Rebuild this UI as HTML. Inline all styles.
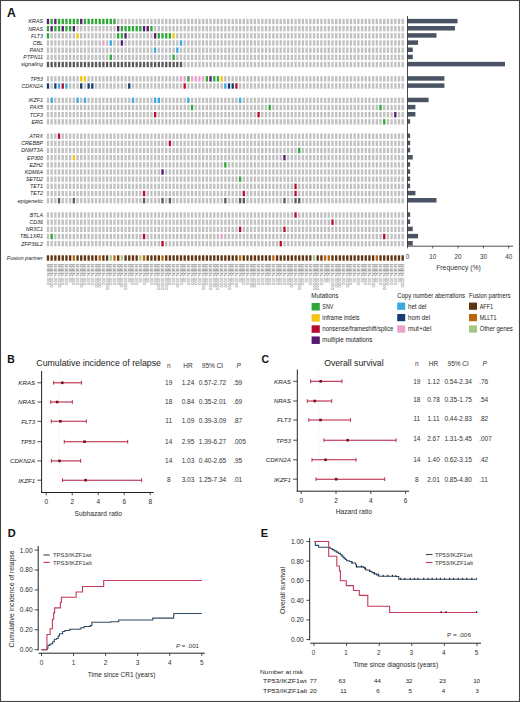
<!DOCTYPE html>
<html><head><meta charset="utf-8"><title>Figure</title>
<style>html,body{margin:0;padding:0;background:#fff;width:520px;height:702px;overflow:hidden}svg{display:block}text{font-family:"Liberation Sans",sans-serif}</style>
</head><body>
<svg width="520" height="702" viewBox="0 0 520 702" font-family='"Liberation Sans", sans-serif'>
<rect x="0" y="0" width="520" height="702" fill="#fff"/>
<text x="6.90" y="16.50" font-size="12.20" text-anchor="start" fill="#111" font-weight="bold">A</text>
<g>
<rect x="46.80" y="18.80" width="2.35" height="5.40" fill="#561a6f"/>
<rect x="50.49" y="18.80" width="2.35" height="5.40" fill="#2fa739"/>
<rect x="54.19" y="18.80" width="2.35" height="5.40" fill="#561a6f"/>
<rect x="57.88" y="18.80" width="2.35" height="5.40" fill="#2fa739"/>
<rect x="61.58" y="18.80" width="2.35" height="5.40" fill="#2fa739"/>
<rect x="65.27" y="18.80" width="2.35" height="5.40" fill="#2fa739"/>
<rect x="68.97" y="18.80" width="2.35" height="5.40" fill="#2fa739"/>
<rect x="72.66" y="18.80" width="2.35" height="5.40" fill="#2fa739"/>
<rect x="76.36" y="18.80" width="2.35" height="5.40" fill="#2fa739"/>
<rect x="80.05" y="18.80" width="2.35" height="5.40" fill="#561a6f"/>
<rect x="83.75" y="18.80" width="2.35" height="5.40" fill="#2fa739"/>
<rect x="87.44" y="18.80" width="2.35" height="5.40" fill="#2fa739"/>
<rect x="91.14" y="18.80" width="2.35" height="5.40" fill="#2fa739"/>
<rect x="94.83" y="18.80" width="2.35" height="5.40" fill="#2fa739"/>
<rect x="98.53" y="18.80" width="2.35" height="5.40" fill="#2fa739"/>
<rect x="102.22" y="18.80" width="2.35" height="5.40" fill="#2fa739"/>
<rect x="105.92" y="18.80" width="2.35" height="5.40" fill="#2fa739"/>
<rect x="109.61" y="18.80" width="2.35" height="5.40" fill="#2fa739"/>
<rect x="113.31" y="18.80" width="2.35" height="5.40" fill="#2fa739"/>
<rect x="117.00" y="18.80" width="2.35" height="5.40" fill="#c1c1c1"/>
<rect x="120.70" y="18.80" width="2.35" height="5.40" fill="#c1c1c1"/>
<rect x="124.39" y="18.80" width="2.35" height="5.40" fill="#c1c1c1"/>
<rect x="128.09" y="18.80" width="2.35" height="5.40" fill="#c1c1c1"/>
<rect x="131.78" y="18.80" width="2.35" height="5.40" fill="#c1c1c1"/>
<rect x="135.48" y="18.80" width="2.35" height="5.40" fill="#c1c1c1"/>
<rect x="139.18" y="18.80" width="2.35" height="5.40" fill="#c1c1c1"/>
<rect x="142.87" y="18.80" width="2.35" height="5.40" fill="#c1c1c1"/>
<rect x="146.56" y="18.80" width="2.35" height="5.40" fill="#c1c1c1"/>
<rect x="150.26" y="18.80" width="2.35" height="5.40" fill="#c1c1c1"/>
<rect x="153.95" y="18.80" width="2.35" height="5.40" fill="#c1c1c1"/>
<rect x="157.65" y="18.80" width="2.35" height="5.40" fill="#c1c1c1"/>
<rect x="161.34" y="18.80" width="2.35" height="5.40" fill="#c1c1c1"/>
<rect x="165.04" y="18.80" width="2.35" height="5.40" fill="#c1c1c1"/>
<rect x="168.73" y="18.80" width="2.35" height="5.40" fill="#c1c1c1"/>
<rect x="172.43" y="18.80" width="2.35" height="5.40" fill="#c1c1c1"/>
<rect x="176.12" y="18.80" width="2.35" height="5.40" fill="#c1c1c1"/>
<rect x="179.82" y="18.80" width="2.35" height="5.40" fill="#c1c1c1"/>
<rect x="183.51" y="18.80" width="2.35" height="5.40" fill="#c1c1c1"/>
<rect x="187.21" y="18.80" width="2.35" height="5.40" fill="#c1c1c1"/>
<rect x="190.90" y="18.80" width="2.35" height="5.40" fill="#c1c1c1"/>
<rect x="194.60" y="18.80" width="2.35" height="5.40" fill="#c1c1c1"/>
<rect x="198.30" y="18.80" width="2.35" height="5.40" fill="#c1c1c1"/>
<rect x="201.99" y="18.80" width="2.35" height="5.40" fill="#c1c1c1"/>
<rect x="205.69" y="18.80" width="2.35" height="5.40" fill="#c1c1c1"/>
<rect x="209.38" y="18.80" width="2.35" height="5.40" fill="#c1c1c1"/>
<rect x="213.07" y="18.80" width="2.35" height="5.40" fill="#c1c1c1"/>
<rect x="216.77" y="18.80" width="2.35" height="5.40" fill="#c1c1c1"/>
<rect x="220.46" y="18.80" width="2.35" height="5.40" fill="#c1c1c1"/>
<rect x="224.16" y="18.80" width="2.35" height="5.40" fill="#c1c1c1"/>
<rect x="227.85" y="18.80" width="2.35" height="5.40" fill="#c1c1c1"/>
<rect x="231.55" y="18.80" width="2.35" height="5.40" fill="#c1c1c1"/>
<rect x="235.25" y="18.80" width="2.35" height="5.40" fill="#c1c1c1"/>
<rect x="238.94" y="18.80" width="2.35" height="5.40" fill="#c1c1c1"/>
<rect x="242.63" y="18.80" width="2.35" height="5.40" fill="#c1c1c1"/>
<rect x="246.33" y="18.80" width="2.35" height="5.40" fill="#c1c1c1"/>
<rect x="250.02" y="18.80" width="2.35" height="5.40" fill="#c1c1c1"/>
<rect x="253.72" y="18.80" width="2.35" height="5.40" fill="#c1c1c1"/>
<rect x="257.41" y="18.80" width="2.35" height="5.40" fill="#c1c1c1"/>
<rect x="261.11" y="18.80" width="2.35" height="5.40" fill="#c1c1c1"/>
<rect x="264.81" y="18.80" width="2.35" height="5.40" fill="#c1c1c1"/>
<rect x="268.50" y="18.80" width="2.35" height="5.40" fill="#c1c1c1"/>
<rect x="272.19" y="18.80" width="2.35" height="5.40" fill="#c1c1c1"/>
<rect x="275.89" y="18.80" width="2.35" height="5.40" fill="#c1c1c1"/>
<rect x="279.58" y="18.80" width="2.35" height="5.40" fill="#c1c1c1"/>
<rect x="283.28" y="18.80" width="2.35" height="5.40" fill="#c1c1c1"/>
<rect x="286.97" y="18.80" width="2.35" height="5.40" fill="#c1c1c1"/>
<rect x="290.67" y="18.80" width="2.35" height="5.40" fill="#c1c1c1"/>
<rect x="294.37" y="18.80" width="2.35" height="5.40" fill="#c1c1c1"/>
<rect x="298.06" y="18.80" width="2.35" height="5.40" fill="#c1c1c1"/>
<rect x="301.75" y="18.80" width="2.35" height="5.40" fill="#c1c1c1"/>
<rect x="305.45" y="18.80" width="2.35" height="5.40" fill="#c1c1c1"/>
<rect x="309.14" y="18.80" width="2.35" height="5.40" fill="#c1c1c1"/>
<rect x="312.84" y="18.80" width="2.35" height="5.40" fill="#c1c1c1"/>
<rect x="316.54" y="18.80" width="2.35" height="5.40" fill="#c1c1c1"/>
<rect x="320.23" y="18.80" width="2.35" height="5.40" fill="#c1c1c1"/>
<rect x="323.93" y="18.80" width="2.35" height="5.40" fill="#c1c1c1"/>
<rect x="327.62" y="18.80" width="2.35" height="5.40" fill="#c1c1c1"/>
<rect x="331.31" y="18.80" width="2.35" height="5.40" fill="#c1c1c1"/>
<rect x="335.01" y="18.80" width="2.35" height="5.40" fill="#c1c1c1"/>
<rect x="338.70" y="18.80" width="2.35" height="5.40" fill="#c1c1c1"/>
<rect x="342.40" y="18.80" width="2.35" height="5.40" fill="#c1c1c1"/>
<rect x="346.09" y="18.80" width="2.35" height="5.40" fill="#c1c1c1"/>
<rect x="349.79" y="18.80" width="2.35" height="5.40" fill="#c1c1c1"/>
<rect x="353.49" y="18.80" width="2.35" height="5.40" fill="#c1c1c1"/>
<rect x="357.18" y="18.80" width="2.35" height="5.40" fill="#c1c1c1"/>
<rect x="360.88" y="18.80" width="2.35" height="5.40" fill="#c1c1c1"/>
<rect x="364.57" y="18.80" width="2.35" height="5.40" fill="#c1c1c1"/>
<rect x="368.26" y="18.80" width="2.35" height="5.40" fill="#c1c1c1"/>
<rect x="371.96" y="18.80" width="2.35" height="5.40" fill="#c1c1c1"/>
<rect x="375.65" y="18.80" width="2.35" height="5.40" fill="#c1c1c1"/>
<rect x="379.35" y="18.80" width="2.35" height="5.40" fill="#c1c1c1"/>
<rect x="383.05" y="18.80" width="2.35" height="5.40" fill="#c1c1c1"/>
<rect x="386.74" y="18.80" width="2.35" height="5.40" fill="#c1c1c1"/>
<rect x="390.44" y="18.80" width="2.35" height="5.40" fill="#c1c1c1"/>
<rect x="394.13" y="18.80" width="2.35" height="5.40" fill="#c1c1c1"/>
<rect x="397.82" y="18.80" width="2.35" height="5.40" fill="#c1c1c1"/>
<rect x="401.52" y="18.80" width="2.35" height="5.40" fill="#c1c1c1"/>
</g>
<text x="43.00" y="23.40" font-size="5.30" text-anchor="end" fill="#1c1c1c" font-style="italic">KRAS</text>
<rect x="407.50" y="18.85" width="50.07" height="4.5" fill="#4a5363"/>
<g>
<rect x="46.80" y="25.97" width="2.35" height="5.40" fill="#2fa739"/>
<rect x="50.49" y="25.97" width="2.35" height="5.40" fill="#561a6f"/>
<rect x="54.19" y="25.97" width="2.35" height="5.40" fill="#2fa739"/>
<rect x="57.88" y="25.97" width="2.35" height="5.40" fill="#2fa739"/>
<rect x="61.58" y="25.97" width="2.35" height="5.40" fill="#561a6f"/>
<rect x="65.27" y="25.97" width="2.35" height="5.40" fill="#2fa739"/>
<rect x="68.97" y="25.97" width="2.35" height="5.40" fill="#2fa739"/>
<rect x="72.66" y="25.97" width="2.35" height="5.40" fill="#561a6f"/>
<rect x="76.36" y="25.97" width="2.35" height="5.40" fill="#c1c1c1"/>
<rect x="80.05" y="25.97" width="2.35" height="5.40" fill="#c1c1c1"/>
<rect x="83.75" y="25.97" width="2.35" height="5.40" fill="#c1c1c1"/>
<rect x="87.44" y="25.97" width="2.35" height="5.40" fill="#c1c1c1"/>
<rect x="91.14" y="25.97" width="2.35" height="5.40" fill="#c1c1c1"/>
<rect x="94.83" y="25.97" width="2.35" height="5.40" fill="#c1c1c1"/>
<rect x="98.53" y="25.97" width="2.35" height="5.40" fill="#c1c1c1"/>
<rect x="102.22" y="25.97" width="2.35" height="5.40" fill="#c1c1c1"/>
<rect x="105.92" y="25.97" width="2.35" height="5.40" fill="#c1c1c1"/>
<rect x="109.61" y="25.97" width="2.35" height="5.40" fill="#c1c1c1"/>
<rect x="113.31" y="25.97" width="2.35" height="5.40" fill="#c1c1c1"/>
<rect x="117.00" y="25.97" width="2.35" height="5.40" fill="#561a6f"/>
<rect x="120.70" y="25.97" width="2.35" height="5.40" fill="#2fa739"/>
<rect x="124.39" y="25.97" width="2.35" height="5.40" fill="#2fa739"/>
<rect x="128.09" y="25.97" width="2.35" height="5.40" fill="#2fa739"/>
<rect x="131.78" y="25.97" width="2.35" height="5.40" fill="#2fa739"/>
<rect x="135.48" y="25.97" width="2.35" height="5.40" fill="#2fa739"/>
<rect x="139.18" y="25.97" width="2.35" height="5.40" fill="#2fa739"/>
<rect x="142.87" y="25.97" width="2.35" height="5.40" fill="#561a6f"/>
<rect x="146.56" y="25.97" width="2.35" height="5.40" fill="#561a6f"/>
<rect x="150.26" y="25.97" width="2.35" height="5.40" fill="#2fa739"/>
<rect x="153.95" y="25.97" width="2.35" height="5.40" fill="#c1c1c1"/>
<rect x="157.65" y="25.97" width="2.35" height="5.40" fill="#c1c1c1"/>
<rect x="161.34" y="25.97" width="2.35" height="5.40" fill="#c1c1c1"/>
<rect x="165.04" y="25.97" width="2.35" height="5.40" fill="#c1c1c1"/>
<rect x="168.73" y="25.97" width="2.35" height="5.40" fill="#c1c1c1"/>
<rect x="172.43" y="25.97" width="2.35" height="5.40" fill="#c1c1c1"/>
<rect x="176.12" y="25.97" width="2.35" height="5.40" fill="#c1c1c1"/>
<rect x="179.82" y="25.97" width="2.35" height="5.40" fill="#c1c1c1"/>
<rect x="183.51" y="25.97" width="2.35" height="5.40" fill="#c1c1c1"/>
<rect x="187.21" y="25.97" width="2.35" height="5.40" fill="#c1c1c1"/>
<rect x="190.90" y="25.97" width="2.35" height="5.40" fill="#c1c1c1"/>
<rect x="194.60" y="25.97" width="2.35" height="5.40" fill="#c1c1c1"/>
<rect x="198.30" y="25.97" width="2.35" height="5.40" fill="#c1c1c1"/>
<rect x="201.99" y="25.97" width="2.35" height="5.40" fill="#c1c1c1"/>
<rect x="205.69" y="25.97" width="2.35" height="5.40" fill="#c1c1c1"/>
<rect x="209.38" y="25.97" width="2.35" height="5.40" fill="#c1c1c1"/>
<rect x="213.07" y="25.97" width="2.35" height="5.40" fill="#c1c1c1"/>
<rect x="216.77" y="25.97" width="2.35" height="5.40" fill="#c1c1c1"/>
<rect x="220.46" y="25.97" width="2.35" height="5.40" fill="#c1c1c1"/>
<rect x="224.16" y="25.97" width="2.35" height="5.40" fill="#c1c1c1"/>
<rect x="227.85" y="25.97" width="2.35" height="5.40" fill="#c1c1c1"/>
<rect x="231.55" y="25.97" width="2.35" height="5.40" fill="#c1c1c1"/>
<rect x="235.25" y="25.97" width="2.35" height="5.40" fill="#c1c1c1"/>
<rect x="238.94" y="25.97" width="2.35" height="5.40" fill="#c1c1c1"/>
<rect x="242.63" y="25.97" width="2.35" height="5.40" fill="#c1c1c1"/>
<rect x="246.33" y="25.97" width="2.35" height="5.40" fill="#c1c1c1"/>
<rect x="250.02" y="25.97" width="2.35" height="5.40" fill="#c1c1c1"/>
<rect x="253.72" y="25.97" width="2.35" height="5.40" fill="#c1c1c1"/>
<rect x="257.41" y="25.97" width="2.35" height="5.40" fill="#c1c1c1"/>
<rect x="261.11" y="25.97" width="2.35" height="5.40" fill="#c1c1c1"/>
<rect x="264.81" y="25.97" width="2.35" height="5.40" fill="#c1c1c1"/>
<rect x="268.50" y="25.97" width="2.35" height="5.40" fill="#c1c1c1"/>
<rect x="272.19" y="25.97" width="2.35" height="5.40" fill="#c1c1c1"/>
<rect x="275.89" y="25.97" width="2.35" height="5.40" fill="#c1c1c1"/>
<rect x="279.58" y="25.97" width="2.35" height="5.40" fill="#c1c1c1"/>
<rect x="283.28" y="25.97" width="2.35" height="5.40" fill="#c1c1c1"/>
<rect x="286.97" y="25.97" width="2.35" height="5.40" fill="#c1c1c1"/>
<rect x="290.67" y="25.97" width="2.35" height="5.40" fill="#c1c1c1"/>
<rect x="294.37" y="25.97" width="2.35" height="5.40" fill="#c1c1c1"/>
<rect x="298.06" y="25.97" width="2.35" height="5.40" fill="#c1c1c1"/>
<rect x="301.75" y="25.97" width="2.35" height="5.40" fill="#c1c1c1"/>
<rect x="305.45" y="25.97" width="2.35" height="5.40" fill="#c1c1c1"/>
<rect x="309.14" y="25.97" width="2.35" height="5.40" fill="#c1c1c1"/>
<rect x="312.84" y="25.97" width="2.35" height="5.40" fill="#c1c1c1"/>
<rect x="316.54" y="25.97" width="2.35" height="5.40" fill="#c1c1c1"/>
<rect x="320.23" y="25.97" width="2.35" height="5.40" fill="#c1c1c1"/>
<rect x="323.93" y="25.97" width="2.35" height="5.40" fill="#c1c1c1"/>
<rect x="327.62" y="25.97" width="2.35" height="5.40" fill="#c1c1c1"/>
<rect x="331.31" y="25.97" width="2.35" height="5.40" fill="#c1c1c1"/>
<rect x="335.01" y="25.97" width="2.35" height="5.40" fill="#c1c1c1"/>
<rect x="338.70" y="25.97" width="2.35" height="5.40" fill="#c1c1c1"/>
<rect x="342.40" y="25.97" width="2.35" height="5.40" fill="#c1c1c1"/>
<rect x="346.09" y="25.97" width="2.35" height="5.40" fill="#c1c1c1"/>
<rect x="349.79" y="25.97" width="2.35" height="5.40" fill="#c1c1c1"/>
<rect x="353.49" y="25.97" width="2.35" height="5.40" fill="#c1c1c1"/>
<rect x="357.18" y="25.97" width="2.35" height="5.40" fill="#c1c1c1"/>
<rect x="360.88" y="25.97" width="2.35" height="5.40" fill="#c1c1c1"/>
<rect x="364.57" y="25.97" width="2.35" height="5.40" fill="#c1c1c1"/>
<rect x="368.26" y="25.97" width="2.35" height="5.40" fill="#c1c1c1"/>
<rect x="371.96" y="25.97" width="2.35" height="5.40" fill="#c1c1c1"/>
<rect x="375.65" y="25.97" width="2.35" height="5.40" fill="#c1c1c1"/>
<rect x="379.35" y="25.97" width="2.35" height="5.40" fill="#c1c1c1"/>
<rect x="383.05" y="25.97" width="2.35" height="5.40" fill="#c1c1c1"/>
<rect x="386.74" y="25.97" width="2.35" height="5.40" fill="#c1c1c1"/>
<rect x="390.44" y="25.97" width="2.35" height="5.40" fill="#c1c1c1"/>
<rect x="394.13" y="25.97" width="2.35" height="5.40" fill="#c1c1c1"/>
<rect x="397.82" y="25.97" width="2.35" height="5.40" fill="#c1c1c1"/>
<rect x="401.52" y="25.97" width="2.35" height="5.40" fill="#c1c1c1"/>
</g>
<text x="43.00" y="30.57" font-size="5.30" text-anchor="end" fill="#1c1c1c" font-style="italic">NRAS</text>
<rect x="407.50" y="26.02" width="47.44" height="4.5" fill="#4a5363"/>
<g>
<rect x="46.80" y="33.13" width="2.35" height="5.40" fill="#2fa739"/>
<rect x="50.49" y="33.13" width="2.35" height="5.40" fill="#c1c1c1"/>
<rect x="54.19" y="33.13" width="2.35" height="5.40" fill="#c1c1c1"/>
<rect x="57.88" y="33.13" width="2.35" height="5.40" fill="#c1c1c1"/>
<rect x="61.58" y="33.13" width="2.35" height="5.40" fill="#c1c1c1"/>
<rect x="65.27" y="33.13" width="2.35" height="5.40" fill="#c1c1c1"/>
<rect x="68.97" y="33.13" width="2.35" height="5.40" fill="#c1c1c1"/>
<rect x="72.66" y="33.13" width="2.35" height="5.40" fill="#c1c1c1"/>
<rect x="76.36" y="33.13" width="2.35" height="5.40" fill="#f6c416"/>
<rect x="80.05" y="33.13" width="2.35" height="5.40" fill="#c1c1c1"/>
<rect x="83.75" y="33.13" width="2.35" height="5.40" fill="#c1c1c1"/>
<rect x="87.44" y="33.13" width="2.35" height="5.40" fill="#c1c1c1"/>
<rect x="91.14" y="33.13" width="2.35" height="5.40" fill="#c1c1c1"/>
<rect x="94.83" y="33.13" width="2.35" height="5.40" fill="#c1c1c1"/>
<rect x="98.53" y="33.13" width="2.35" height="5.40" fill="#c1c1c1"/>
<rect x="102.22" y="33.13" width="2.35" height="5.40" fill="#c1c1c1"/>
<rect x="105.92" y="33.13" width="2.35" height="5.40" fill="#c1c1c1"/>
<rect x="109.61" y="33.13" width="2.35" height="5.40" fill="#c1c1c1"/>
<rect x="113.31" y="33.13" width="2.35" height="5.40" fill="#c1c1c1"/>
<rect x="117.00" y="33.13" width="2.35" height="5.40" fill="#2fa739"/>
<rect x="120.70" y="33.13" width="2.35" height="5.40" fill="#2fa739"/>
<rect x="124.39" y="33.13" width="2.35" height="5.40" fill="#561a6f"/>
<rect x="128.09" y="33.13" width="2.35" height="5.40" fill="#c1c1c1"/>
<rect x="131.78" y="33.13" width="2.35" height="5.40" fill="#c1c1c1"/>
<rect x="135.48" y="33.13" width="2.35" height="5.40" fill="#c1c1c1"/>
<rect x="139.18" y="33.13" width="2.35" height="5.40" fill="#c1c1c1"/>
<rect x="142.87" y="33.13" width="2.35" height="5.40" fill="#c1c1c1"/>
<rect x="146.56" y="33.13" width="2.35" height="5.40" fill="#c1c1c1"/>
<rect x="150.26" y="33.13" width="2.35" height="5.40" fill="#c1c1c1"/>
<rect x="153.95" y="33.13" width="2.35" height="5.40" fill="#561a6f"/>
<rect x="157.65" y="33.13" width="2.35" height="5.40" fill="#2fa739"/>
<rect x="161.34" y="33.13" width="2.35" height="5.40" fill="#2fa739"/>
<rect x="165.04" y="33.13" width="2.35" height="5.40" fill="#2fa739"/>
<rect x="168.73" y="33.13" width="2.35" height="5.40" fill="#2fa739"/>
<rect x="172.43" y="33.13" width="2.35" height="5.40" fill="#f6c416"/>
<rect x="176.12" y="33.13" width="2.35" height="5.40" fill="#c1c1c1"/>
<rect x="179.82" y="33.13" width="2.35" height="5.40" fill="#c1c1c1"/>
<rect x="183.51" y="33.13" width="2.35" height="5.40" fill="#c1c1c1"/>
<rect x="187.21" y="33.13" width="2.35" height="5.40" fill="#c1c1c1"/>
<rect x="190.90" y="33.13" width="2.35" height="5.40" fill="#c1c1c1"/>
<rect x="194.60" y="33.13" width="2.35" height="5.40" fill="#c1c1c1"/>
<rect x="198.30" y="33.13" width="2.35" height="5.40" fill="#c1c1c1"/>
<rect x="201.99" y="33.13" width="2.35" height="5.40" fill="#c1c1c1"/>
<rect x="205.69" y="33.13" width="2.35" height="5.40" fill="#c1c1c1"/>
<rect x="209.38" y="33.13" width="2.35" height="5.40" fill="#c1c1c1"/>
<rect x="213.07" y="33.13" width="2.35" height="5.40" fill="#c1c1c1"/>
<rect x="216.77" y="33.13" width="2.35" height="5.40" fill="#c1c1c1"/>
<rect x="220.46" y="33.13" width="2.35" height="5.40" fill="#c1c1c1"/>
<rect x="224.16" y="33.13" width="2.35" height="5.40" fill="#c1c1c1"/>
<rect x="227.85" y="33.13" width="2.35" height="5.40" fill="#c1c1c1"/>
<rect x="231.55" y="33.13" width="2.35" height="5.40" fill="#c1c1c1"/>
<rect x="235.25" y="33.13" width="2.35" height="5.40" fill="#c1c1c1"/>
<rect x="238.94" y="33.13" width="2.35" height="5.40" fill="#c1c1c1"/>
<rect x="242.63" y="33.13" width="2.35" height="5.40" fill="#c1c1c1"/>
<rect x="246.33" y="33.13" width="2.35" height="5.40" fill="#c1c1c1"/>
<rect x="250.02" y="33.13" width="2.35" height="5.40" fill="#c1c1c1"/>
<rect x="253.72" y="33.13" width="2.35" height="5.40" fill="#c1c1c1"/>
<rect x="257.41" y="33.13" width="2.35" height="5.40" fill="#c1c1c1"/>
<rect x="261.11" y="33.13" width="2.35" height="5.40" fill="#c1c1c1"/>
<rect x="264.81" y="33.13" width="2.35" height="5.40" fill="#c1c1c1"/>
<rect x="268.50" y="33.13" width="2.35" height="5.40" fill="#c1c1c1"/>
<rect x="272.19" y="33.13" width="2.35" height="5.40" fill="#c1c1c1"/>
<rect x="275.89" y="33.13" width="2.35" height="5.40" fill="#c1c1c1"/>
<rect x="279.58" y="33.13" width="2.35" height="5.40" fill="#c1c1c1"/>
<rect x="283.28" y="33.13" width="2.35" height="5.40" fill="#c1c1c1"/>
<rect x="286.97" y="33.13" width="2.35" height="5.40" fill="#c1c1c1"/>
<rect x="290.67" y="33.13" width="2.35" height="5.40" fill="#c1c1c1"/>
<rect x="294.37" y="33.13" width="2.35" height="5.40" fill="#c1c1c1"/>
<rect x="298.06" y="33.13" width="2.35" height="5.40" fill="#c1c1c1"/>
<rect x="301.75" y="33.13" width="2.35" height="5.40" fill="#c1c1c1"/>
<rect x="305.45" y="33.13" width="2.35" height="5.40" fill="#c1c1c1"/>
<rect x="309.14" y="33.13" width="2.35" height="5.40" fill="#c1c1c1"/>
<rect x="312.84" y="33.13" width="2.35" height="5.40" fill="#c1c1c1"/>
<rect x="316.54" y="33.13" width="2.35" height="5.40" fill="#c1c1c1"/>
<rect x="320.23" y="33.13" width="2.35" height="5.40" fill="#c1c1c1"/>
<rect x="323.93" y="33.13" width="2.35" height="5.40" fill="#c1c1c1"/>
<rect x="327.62" y="33.13" width="2.35" height="5.40" fill="#c1c1c1"/>
<rect x="331.31" y="33.13" width="2.35" height="5.40" fill="#c1c1c1"/>
<rect x="335.01" y="33.13" width="2.35" height="5.40" fill="#c1c1c1"/>
<rect x="338.70" y="33.13" width="2.35" height="5.40" fill="#c1c1c1"/>
<rect x="342.40" y="33.13" width="2.35" height="5.40" fill="#c1c1c1"/>
<rect x="346.09" y="33.13" width="2.35" height="5.40" fill="#c1c1c1"/>
<rect x="349.79" y="33.13" width="2.35" height="5.40" fill="#c1c1c1"/>
<rect x="353.49" y="33.13" width="2.35" height="5.40" fill="#c1c1c1"/>
<rect x="357.18" y="33.13" width="2.35" height="5.40" fill="#c1c1c1"/>
<rect x="360.88" y="33.13" width="2.35" height="5.40" fill="#c1c1c1"/>
<rect x="364.57" y="33.13" width="2.35" height="5.40" fill="#c1c1c1"/>
<rect x="368.26" y="33.13" width="2.35" height="5.40" fill="#c1c1c1"/>
<rect x="371.96" y="33.13" width="2.35" height="5.40" fill="#c1c1c1"/>
<rect x="375.65" y="33.13" width="2.35" height="5.40" fill="#c1c1c1"/>
<rect x="379.35" y="33.13" width="2.35" height="5.40" fill="#c1c1c1"/>
<rect x="383.05" y="33.13" width="2.35" height="5.40" fill="#c1c1c1"/>
<rect x="386.74" y="33.13" width="2.35" height="5.40" fill="#c1c1c1"/>
<rect x="390.44" y="33.13" width="2.35" height="5.40" fill="#c1c1c1"/>
<rect x="394.13" y="33.13" width="2.35" height="5.40" fill="#c1c1c1"/>
<rect x="397.82" y="33.13" width="2.35" height="5.40" fill="#c1c1c1"/>
<rect x="401.52" y="33.13" width="2.35" height="5.40" fill="#c1c1c1"/>
</g>
<text x="43.00" y="37.73" font-size="5.30" text-anchor="end" fill="#1c1c1c" font-style="italic">FLT3</text>
<rect x="407.50" y="33.18" width="28.99" height="4.5" fill="#4a5363"/>
<g>
<rect x="46.80" y="40.30" width="2.35" height="5.40" fill="#c1c1c1"/>
<rect x="50.49" y="40.30" width="2.35" height="5.40" fill="#c1c1c1"/>
<rect x="54.19" y="40.30" width="2.35" height="5.40" fill="#c1c1c1"/>
<rect x="57.88" y="40.30" width="2.35" height="5.40" fill="#c1c1c1"/>
<rect x="61.58" y="40.30" width="2.35" height="5.40" fill="#c1c1c1"/>
<rect x="65.27" y="40.30" width="2.35" height="5.40" fill="#c1c1c1"/>
<rect x="68.97" y="40.30" width="2.35" height="5.40" fill="#c1c1c1"/>
<rect x="72.66" y="40.30" width="2.35" height="5.40" fill="#c1c1c1"/>
<rect x="76.36" y="40.30" width="2.35" height="5.40" fill="#c1c1c1"/>
<rect x="80.05" y="40.30" width="2.35" height="5.40" fill="#c1c1c1"/>
<rect x="83.75" y="40.30" width="2.35" height="5.40" fill="#c1c1c1"/>
<rect x="87.44" y="40.30" width="2.35" height="5.40" fill="#c1c1c1"/>
<rect x="91.14" y="40.30" width="2.35" height="5.40" fill="#c1c1c1"/>
<rect x="94.83" y="40.30" width="2.35" height="5.40" fill="#c1c1c1"/>
<rect x="98.53" y="40.30" width="2.35" height="5.40" fill="#c1c1c1"/>
<rect x="102.22" y="40.30" width="2.35" height="5.40" fill="#eea0cc"/>
<rect x="105.92" y="40.30" width="2.35" height="5.40" fill="#c1c1c1"/>
<rect x="109.61" y="40.30" width="2.35" height="5.40" fill="#3aa9e0"/>
<rect x="113.31" y="40.30" width="2.35" height="5.40" fill="#c1c1c1"/>
<rect x="117.00" y="40.30" width="2.35" height="5.40" fill="#c1c1c1"/>
<rect x="120.70" y="40.30" width="2.35" height="5.40" fill="#561a6f"/>
<rect x="124.39" y="40.30" width="2.35" height="5.40" fill="#c1c1c1"/>
<rect x="128.09" y="40.30" width="2.35" height="5.40" fill="#c1c1c1"/>
<rect x="131.78" y="40.30" width="2.35" height="5.40" fill="#c1c1c1"/>
<rect x="135.48" y="40.30" width="2.35" height="5.40" fill="#c1c1c1"/>
<rect x="139.18" y="40.30" width="2.35" height="5.40" fill="#c1c1c1"/>
<rect x="142.87" y="40.30" width="2.35" height="5.40" fill="#c1c1c1"/>
<rect x="146.56" y="40.30" width="2.35" height="5.40" fill="#c1c1c1"/>
<rect x="150.26" y="40.30" width="2.35" height="5.40" fill="#c1c1c1"/>
<rect x="153.95" y="40.30" width="2.35" height="5.40" fill="#c1c1c1"/>
<rect x="157.65" y="40.30" width="2.35" height="5.40" fill="#c1c1c1"/>
<rect x="161.34" y="40.30" width="2.35" height="5.40" fill="#c1c1c1"/>
<rect x="165.04" y="40.30" width="2.35" height="5.40" fill="#c1c1c1"/>
<rect x="168.73" y="40.30" width="2.35" height="5.40" fill="#c1c1c1"/>
<rect x="172.43" y="40.30" width="2.35" height="5.40" fill="#c1c1c1"/>
<rect x="176.12" y="40.30" width="2.35" height="5.40" fill="#c1c1c1"/>
<rect x="179.82" y="40.30" width="2.35" height="5.40" fill="#3aa9e0"/>
<rect x="183.51" y="40.30" width="2.35" height="5.40" fill="#c1c1c1"/>
<rect x="187.21" y="40.30" width="2.35" height="5.40" fill="#c1c1c1"/>
<rect x="190.90" y="40.30" width="2.35" height="5.40" fill="#c1c1c1"/>
<rect x="194.60" y="40.30" width="2.35" height="5.40" fill="#c1c1c1"/>
<rect x="198.30" y="40.30" width="2.35" height="5.40" fill="#c1c1c1"/>
<rect x="201.99" y="40.30" width="2.35" height="5.40" fill="#c1c1c1"/>
<rect x="205.69" y="40.30" width="2.35" height="5.40" fill="#c1c1c1"/>
<rect x="209.38" y="40.30" width="2.35" height="5.40" fill="#c1c1c1"/>
<rect x="213.07" y="40.30" width="2.35" height="5.40" fill="#c1c1c1"/>
<rect x="216.77" y="40.30" width="2.35" height="5.40" fill="#c1c1c1"/>
<rect x="220.46" y="40.30" width="2.35" height="5.40" fill="#c1c1c1"/>
<rect x="224.16" y="40.30" width="2.35" height="5.40" fill="#c1c1c1"/>
<rect x="227.85" y="40.30" width="2.35" height="5.40" fill="#c1c1c1"/>
<rect x="231.55" y="40.30" width="2.35" height="5.40" fill="#c1c1c1"/>
<rect x="235.25" y="40.30" width="2.35" height="5.40" fill="#c1c1c1"/>
<rect x="238.94" y="40.30" width="2.35" height="5.40" fill="#c1c1c1"/>
<rect x="242.63" y="40.30" width="2.35" height="5.40" fill="#c1c1c1"/>
<rect x="246.33" y="40.30" width="2.35" height="5.40" fill="#c1c1c1"/>
<rect x="250.02" y="40.30" width="2.35" height="5.40" fill="#c1c1c1"/>
<rect x="253.72" y="40.30" width="2.35" height="5.40" fill="#c1c1c1"/>
<rect x="257.41" y="40.30" width="2.35" height="5.40" fill="#c1c1c1"/>
<rect x="261.11" y="40.30" width="2.35" height="5.40" fill="#c1c1c1"/>
<rect x="264.81" y="40.30" width="2.35" height="5.40" fill="#c1c1c1"/>
<rect x="268.50" y="40.30" width="2.35" height="5.40" fill="#c1c1c1"/>
<rect x="272.19" y="40.30" width="2.35" height="5.40" fill="#c1c1c1"/>
<rect x="275.89" y="40.30" width="2.35" height="5.40" fill="#c1c1c1"/>
<rect x="279.58" y="40.30" width="2.35" height="5.40" fill="#c1c1c1"/>
<rect x="283.28" y="40.30" width="2.35" height="5.40" fill="#c1c1c1"/>
<rect x="286.97" y="40.30" width="2.35" height="5.40" fill="#c1c1c1"/>
<rect x="290.67" y="40.30" width="2.35" height="5.40" fill="#c1c1c1"/>
<rect x="294.37" y="40.30" width="2.35" height="5.40" fill="#c1c1c1"/>
<rect x="298.06" y="40.30" width="2.35" height="5.40" fill="#c1c1c1"/>
<rect x="301.75" y="40.30" width="2.35" height="5.40" fill="#c1c1c1"/>
<rect x="305.45" y="40.30" width="2.35" height="5.40" fill="#c1c1c1"/>
<rect x="309.14" y="40.30" width="2.35" height="5.40" fill="#c1c1c1"/>
<rect x="312.84" y="40.30" width="2.35" height="5.40" fill="#c1c1c1"/>
<rect x="316.54" y="40.30" width="2.35" height="5.40" fill="#c1c1c1"/>
<rect x="320.23" y="40.30" width="2.35" height="5.40" fill="#c1c1c1"/>
<rect x="323.93" y="40.30" width="2.35" height="5.40" fill="#c1c1c1"/>
<rect x="327.62" y="40.30" width="2.35" height="5.40" fill="#c1c1c1"/>
<rect x="331.31" y="40.30" width="2.35" height="5.40" fill="#c1c1c1"/>
<rect x="335.01" y="40.30" width="2.35" height="5.40" fill="#c1c1c1"/>
<rect x="338.70" y="40.30" width="2.35" height="5.40" fill="#c1c1c1"/>
<rect x="342.40" y="40.30" width="2.35" height="5.40" fill="#c1c1c1"/>
<rect x="346.09" y="40.30" width="2.35" height="5.40" fill="#c1c1c1"/>
<rect x="349.79" y="40.30" width="2.35" height="5.40" fill="#c1c1c1"/>
<rect x="353.49" y="40.30" width="2.35" height="5.40" fill="#c1c1c1"/>
<rect x="357.18" y="40.30" width="2.35" height="5.40" fill="#c1c1c1"/>
<rect x="360.88" y="40.30" width="2.35" height="5.40" fill="#c1c1c1"/>
<rect x="364.57" y="40.30" width="2.35" height="5.40" fill="#c1c1c1"/>
<rect x="368.26" y="40.30" width="2.35" height="5.40" fill="#c1c1c1"/>
<rect x="371.96" y="40.30" width="2.35" height="5.40" fill="#c1c1c1"/>
<rect x="375.65" y="40.30" width="2.35" height="5.40" fill="#c1c1c1"/>
<rect x="379.35" y="40.30" width="2.35" height="5.40" fill="#c1c1c1"/>
<rect x="383.05" y="40.30" width="2.35" height="5.40" fill="#c1c1c1"/>
<rect x="386.74" y="40.30" width="2.35" height="5.40" fill="#c1c1c1"/>
<rect x="390.44" y="40.30" width="2.35" height="5.40" fill="#c1c1c1"/>
<rect x="394.13" y="40.30" width="2.35" height="5.40" fill="#c1c1c1"/>
<rect x="397.82" y="40.30" width="2.35" height="5.40" fill="#c1c1c1"/>
<rect x="401.52" y="40.30" width="2.35" height="5.40" fill="#c1c1c1"/>
</g>
<text x="43.00" y="44.90" font-size="5.30" text-anchor="end" fill="#1c1c1c" font-style="italic">CBL</text>
<rect x="407.50" y="40.35" width="10.54" height="4.5" fill="#4a5363"/>
<g>
<rect x="46.80" y="47.47" width="2.35" height="5.40" fill="#c1c1c1"/>
<rect x="50.49" y="47.47" width="2.35" height="5.40" fill="#c1c1c1"/>
<rect x="54.19" y="47.47" width="2.35" height="5.40" fill="#c1c1c1"/>
<rect x="57.88" y="47.47" width="2.35" height="5.40" fill="#c1c1c1"/>
<rect x="61.58" y="47.47" width="2.35" height="5.40" fill="#c1c1c1"/>
<rect x="65.27" y="47.47" width="2.35" height="5.40" fill="#c1c1c1"/>
<rect x="68.97" y="47.47" width="2.35" height="5.40" fill="#c1c1c1"/>
<rect x="72.66" y="47.47" width="2.35" height="5.40" fill="#c1c1c1"/>
<rect x="76.36" y="47.47" width="2.35" height="5.40" fill="#c1c1c1"/>
<rect x="80.05" y="47.47" width="2.35" height="5.40" fill="#c1c1c1"/>
<rect x="83.75" y="47.47" width="2.35" height="5.40" fill="#c1c1c1"/>
<rect x="87.44" y="47.47" width="2.35" height="5.40" fill="#c1c1c1"/>
<rect x="91.14" y="47.47" width="2.35" height="5.40" fill="#c1c1c1"/>
<rect x="94.83" y="47.47" width="2.35" height="5.40" fill="#c1c1c1"/>
<rect x="98.53" y="47.47" width="2.35" height="5.40" fill="#c1c1c1"/>
<rect x="102.22" y="47.47" width="2.35" height="5.40" fill="#c1c1c1"/>
<rect x="105.92" y="47.47" width="2.35" height="5.40" fill="#c1c1c1"/>
<rect x="109.61" y="47.47" width="2.35" height="5.40" fill="#c1c1c1"/>
<rect x="113.31" y="47.47" width="2.35" height="5.40" fill="#c1c1c1"/>
<rect x="117.00" y="47.47" width="2.35" height="5.40" fill="#c1c1c1"/>
<rect x="120.70" y="47.47" width="2.35" height="5.40" fill="#c1c1c1"/>
<rect x="124.39" y="47.47" width="2.35" height="5.40" fill="#c1c1c1"/>
<rect x="128.09" y="47.47" width="2.35" height="5.40" fill="#c1c1c1"/>
<rect x="131.78" y="47.47" width="2.35" height="5.40" fill="#c1c1c1"/>
<rect x="135.48" y="47.47" width="2.35" height="5.40" fill="#c1c1c1"/>
<rect x="139.18" y="47.47" width="2.35" height="5.40" fill="#c1c1c1"/>
<rect x="142.87" y="47.47" width="2.35" height="5.40" fill="#c1c1c1"/>
<rect x="146.56" y="47.47" width="2.35" height="5.40" fill="#c1c1c1"/>
<rect x="150.26" y="47.47" width="2.35" height="5.40" fill="#c1c1c1"/>
<rect x="153.95" y="47.47" width="2.35" height="5.40" fill="#3aa9e0"/>
<rect x="157.65" y="47.47" width="2.35" height="5.40" fill="#c1c1c1"/>
<rect x="161.34" y="47.47" width="2.35" height="5.40" fill="#c1c1c1"/>
<rect x="165.04" y="47.47" width="2.35" height="5.40" fill="#c1c1c1"/>
<rect x="168.73" y="47.47" width="2.35" height="5.40" fill="#c1c1c1"/>
<rect x="172.43" y="47.47" width="2.35" height="5.40" fill="#c1c1c1"/>
<rect x="176.12" y="47.47" width="2.35" height="5.40" fill="#3aa9e0"/>
<rect x="179.82" y="47.47" width="2.35" height="5.40" fill="#c1c1c1"/>
<rect x="183.51" y="47.47" width="2.35" height="5.40" fill="#c1c1c1"/>
<rect x="187.21" y="47.47" width="2.35" height="5.40" fill="#c1c1c1"/>
<rect x="190.90" y="47.47" width="2.35" height="5.40" fill="#c1c1c1"/>
<rect x="194.60" y="47.47" width="2.35" height="5.40" fill="#c1c1c1"/>
<rect x="198.30" y="47.47" width="2.35" height="5.40" fill="#c1c1c1"/>
<rect x="201.99" y="47.47" width="2.35" height="5.40" fill="#c1c1c1"/>
<rect x="205.69" y="47.47" width="2.35" height="5.40" fill="#c1c1c1"/>
<rect x="209.38" y="47.47" width="2.35" height="5.40" fill="#c1c1c1"/>
<rect x="213.07" y="47.47" width="2.35" height="5.40" fill="#c1c1c1"/>
<rect x="216.77" y="47.47" width="2.35" height="5.40" fill="#c1c1c1"/>
<rect x="220.46" y="47.47" width="2.35" height="5.40" fill="#c1c1c1"/>
<rect x="224.16" y="47.47" width="2.35" height="5.40" fill="#c1c1c1"/>
<rect x="227.85" y="47.47" width="2.35" height="5.40" fill="#c1c1c1"/>
<rect x="231.55" y="47.47" width="2.35" height="5.40" fill="#c1c1c1"/>
<rect x="235.25" y="47.47" width="2.35" height="5.40" fill="#c1c1c1"/>
<rect x="238.94" y="47.47" width="2.35" height="5.40" fill="#c1c1c1"/>
<rect x="242.63" y="47.47" width="2.35" height="5.40" fill="#c1c1c1"/>
<rect x="246.33" y="47.47" width="2.35" height="5.40" fill="#c1c1c1"/>
<rect x="250.02" y="47.47" width="2.35" height="5.40" fill="#c1c1c1"/>
<rect x="253.72" y="47.47" width="2.35" height="5.40" fill="#c1c1c1"/>
<rect x="257.41" y="47.47" width="2.35" height="5.40" fill="#c1c1c1"/>
<rect x="261.11" y="47.47" width="2.35" height="5.40" fill="#c1c1c1"/>
<rect x="264.81" y="47.47" width="2.35" height="5.40" fill="#c1c1c1"/>
<rect x="268.50" y="47.47" width="2.35" height="5.40" fill="#c1c1c1"/>
<rect x="272.19" y="47.47" width="2.35" height="5.40" fill="#c1c1c1"/>
<rect x="275.89" y="47.47" width="2.35" height="5.40" fill="#c1c1c1"/>
<rect x="279.58" y="47.47" width="2.35" height="5.40" fill="#c1c1c1"/>
<rect x="283.28" y="47.47" width="2.35" height="5.40" fill="#c1c1c1"/>
<rect x="286.97" y="47.47" width="2.35" height="5.40" fill="#c1c1c1"/>
<rect x="290.67" y="47.47" width="2.35" height="5.40" fill="#c1c1c1"/>
<rect x="294.37" y="47.47" width="2.35" height="5.40" fill="#c1c1c1"/>
<rect x="298.06" y="47.47" width="2.35" height="5.40" fill="#c1c1c1"/>
<rect x="301.75" y="47.47" width="2.35" height="5.40" fill="#c1c1c1"/>
<rect x="305.45" y="47.47" width="2.35" height="5.40" fill="#c1c1c1"/>
<rect x="309.14" y="47.47" width="2.35" height="5.40" fill="#c1c1c1"/>
<rect x="312.84" y="47.47" width="2.35" height="5.40" fill="#c1c1c1"/>
<rect x="316.54" y="47.47" width="2.35" height="5.40" fill="#c1c1c1"/>
<rect x="320.23" y="47.47" width="2.35" height="5.40" fill="#c1c1c1"/>
<rect x="323.93" y="47.47" width="2.35" height="5.40" fill="#c1c1c1"/>
<rect x="327.62" y="47.47" width="2.35" height="5.40" fill="#c1c1c1"/>
<rect x="331.31" y="47.47" width="2.35" height="5.40" fill="#c1c1c1"/>
<rect x="335.01" y="47.47" width="2.35" height="5.40" fill="#c1c1c1"/>
<rect x="338.70" y="47.47" width="2.35" height="5.40" fill="#c1c1c1"/>
<rect x="342.40" y="47.47" width="2.35" height="5.40" fill="#c1c1c1"/>
<rect x="346.09" y="47.47" width="2.35" height="5.40" fill="#c1c1c1"/>
<rect x="349.79" y="47.47" width="2.35" height="5.40" fill="#c1c1c1"/>
<rect x="353.49" y="47.47" width="2.35" height="5.40" fill="#c1c1c1"/>
<rect x="357.18" y="47.47" width="2.35" height="5.40" fill="#c1c1c1"/>
<rect x="360.88" y="47.47" width="2.35" height="5.40" fill="#c1c1c1"/>
<rect x="364.57" y="47.47" width="2.35" height="5.40" fill="#c1c1c1"/>
<rect x="368.26" y="47.47" width="2.35" height="5.40" fill="#c1c1c1"/>
<rect x="371.96" y="47.47" width="2.35" height="5.40" fill="#c1c1c1"/>
<rect x="375.65" y="47.47" width="2.35" height="5.40" fill="#c1c1c1"/>
<rect x="379.35" y="47.47" width="2.35" height="5.40" fill="#c1c1c1"/>
<rect x="383.05" y="47.47" width="2.35" height="5.40" fill="#c1c1c1"/>
<rect x="386.74" y="47.47" width="2.35" height="5.40" fill="#c1c1c1"/>
<rect x="390.44" y="47.47" width="2.35" height="5.40" fill="#c1c1c1"/>
<rect x="394.13" y="47.47" width="2.35" height="5.40" fill="#c1c1c1"/>
<rect x="397.82" y="47.47" width="2.35" height="5.40" fill="#c1c1c1"/>
<rect x="401.52" y="47.47" width="2.35" height="5.40" fill="#c1c1c1"/>
</g>
<text x="43.00" y="52.07" font-size="5.30" text-anchor="end" fill="#1c1c1c" font-style="italic">PAN3</text>
<rect x="407.50" y="47.52" width="5.27" height="4.5" fill="#4a5363"/>
<g>
<rect x="46.80" y="54.63" width="2.35" height="5.40" fill="#c1c1c1"/>
<rect x="50.49" y="54.63" width="2.35" height="5.40" fill="#c1c1c1"/>
<rect x="54.19" y="54.63" width="2.35" height="5.40" fill="#c1c1c1"/>
<rect x="57.88" y="54.63" width="2.35" height="5.40" fill="#c1c1c1"/>
<rect x="61.58" y="54.63" width="2.35" height="5.40" fill="#c1c1c1"/>
<rect x="65.27" y="54.63" width="2.35" height="5.40" fill="#c1c1c1"/>
<rect x="68.97" y="54.63" width="2.35" height="5.40" fill="#c1c1c1"/>
<rect x="72.66" y="54.63" width="2.35" height="5.40" fill="#c1c1c1"/>
<rect x="76.36" y="54.63" width="2.35" height="5.40" fill="#c1c1c1"/>
<rect x="80.05" y="54.63" width="2.35" height="5.40" fill="#c1c1c1"/>
<rect x="83.75" y="54.63" width="2.35" height="5.40" fill="#c1c1c1"/>
<rect x="87.44" y="54.63" width="2.35" height="5.40" fill="#c1c1c1"/>
<rect x="91.14" y="54.63" width="2.35" height="5.40" fill="#c1c1c1"/>
<rect x="94.83" y="54.63" width="2.35" height="5.40" fill="#c1c1c1"/>
<rect x="98.53" y="54.63" width="2.35" height="5.40" fill="#c1c1c1"/>
<rect x="102.22" y="54.63" width="2.35" height="5.40" fill="#c1c1c1"/>
<rect x="105.92" y="54.63" width="2.35" height="5.40" fill="#c1c1c1"/>
<rect x="109.61" y="54.63" width="2.35" height="5.40" fill="#2fa739"/>
<rect x="113.31" y="54.63" width="2.35" height="5.40" fill="#c1c1c1"/>
<rect x="117.00" y="54.63" width="2.35" height="5.40" fill="#c1c1c1"/>
<rect x="120.70" y="54.63" width="2.35" height="5.40" fill="#c1c1c1"/>
<rect x="124.39" y="54.63" width="2.35" height="5.40" fill="#c1c1c1"/>
<rect x="128.09" y="54.63" width="2.35" height="5.40" fill="#c1c1c1"/>
<rect x="131.78" y="54.63" width="2.35" height="5.40" fill="#c1c1c1"/>
<rect x="135.48" y="54.63" width="2.35" height="5.40" fill="#c1c1c1"/>
<rect x="139.18" y="54.63" width="2.35" height="5.40" fill="#c1c1c1"/>
<rect x="142.87" y="54.63" width="2.35" height="5.40" fill="#c1c1c1"/>
<rect x="146.56" y="54.63" width="2.35" height="5.40" fill="#c1c1c1"/>
<rect x="150.26" y="54.63" width="2.35" height="5.40" fill="#c1c1c1"/>
<rect x="153.95" y="54.63" width="2.35" height="5.40" fill="#c1c1c1"/>
<rect x="157.65" y="54.63" width="2.35" height="5.40" fill="#c1c1c1"/>
<rect x="161.34" y="54.63" width="2.35" height="5.40" fill="#c1c1c1"/>
<rect x="165.04" y="54.63" width="2.35" height="5.40" fill="#c1c1c1"/>
<rect x="168.73" y="54.63" width="2.35" height="5.40" fill="#c1c1c1"/>
<rect x="172.43" y="54.63" width="2.35" height="5.40" fill="#2fa739"/>
<rect x="176.12" y="54.63" width="2.35" height="5.40" fill="#c1c1c1"/>
<rect x="179.82" y="54.63" width="2.35" height="5.40" fill="#c1c1c1"/>
<rect x="183.51" y="54.63" width="2.35" height="5.40" fill="#c1c1c1"/>
<rect x="187.21" y="54.63" width="2.35" height="5.40" fill="#c1c1c1"/>
<rect x="190.90" y="54.63" width="2.35" height="5.40" fill="#c1c1c1"/>
<rect x="194.60" y="54.63" width="2.35" height="5.40" fill="#c1c1c1"/>
<rect x="198.30" y="54.63" width="2.35" height="5.40" fill="#c1c1c1"/>
<rect x="201.99" y="54.63" width="2.35" height="5.40" fill="#c1c1c1"/>
<rect x="205.69" y="54.63" width="2.35" height="5.40" fill="#c1c1c1"/>
<rect x="209.38" y="54.63" width="2.35" height="5.40" fill="#c1c1c1"/>
<rect x="213.07" y="54.63" width="2.35" height="5.40" fill="#c1c1c1"/>
<rect x="216.77" y="54.63" width="2.35" height="5.40" fill="#c1c1c1"/>
<rect x="220.46" y="54.63" width="2.35" height="5.40" fill="#c1c1c1"/>
<rect x="224.16" y="54.63" width="2.35" height="5.40" fill="#c1c1c1"/>
<rect x="227.85" y="54.63" width="2.35" height="5.40" fill="#c1c1c1"/>
<rect x="231.55" y="54.63" width="2.35" height="5.40" fill="#c1c1c1"/>
<rect x="235.25" y="54.63" width="2.35" height="5.40" fill="#c1c1c1"/>
<rect x="238.94" y="54.63" width="2.35" height="5.40" fill="#c1c1c1"/>
<rect x="242.63" y="54.63" width="2.35" height="5.40" fill="#c1c1c1"/>
<rect x="246.33" y="54.63" width="2.35" height="5.40" fill="#c1c1c1"/>
<rect x="250.02" y="54.63" width="2.35" height="5.40" fill="#c1c1c1"/>
<rect x="253.72" y="54.63" width="2.35" height="5.40" fill="#c1c1c1"/>
<rect x="257.41" y="54.63" width="2.35" height="5.40" fill="#c1c1c1"/>
<rect x="261.11" y="54.63" width="2.35" height="5.40" fill="#c1c1c1"/>
<rect x="264.81" y="54.63" width="2.35" height="5.40" fill="#c1c1c1"/>
<rect x="268.50" y="54.63" width="2.35" height="5.40" fill="#c1c1c1"/>
<rect x="272.19" y="54.63" width="2.35" height="5.40" fill="#c1c1c1"/>
<rect x="275.89" y="54.63" width="2.35" height="5.40" fill="#c1c1c1"/>
<rect x="279.58" y="54.63" width="2.35" height="5.40" fill="#c1c1c1"/>
<rect x="283.28" y="54.63" width="2.35" height="5.40" fill="#c1c1c1"/>
<rect x="286.97" y="54.63" width="2.35" height="5.40" fill="#c1c1c1"/>
<rect x="290.67" y="54.63" width="2.35" height="5.40" fill="#c1c1c1"/>
<rect x="294.37" y="54.63" width="2.35" height="5.40" fill="#c1c1c1"/>
<rect x="298.06" y="54.63" width="2.35" height="5.40" fill="#c1c1c1"/>
<rect x="301.75" y="54.63" width="2.35" height="5.40" fill="#c1c1c1"/>
<rect x="305.45" y="54.63" width="2.35" height="5.40" fill="#c1c1c1"/>
<rect x="309.14" y="54.63" width="2.35" height="5.40" fill="#c1c1c1"/>
<rect x="312.84" y="54.63" width="2.35" height="5.40" fill="#c1c1c1"/>
<rect x="316.54" y="54.63" width="2.35" height="5.40" fill="#c1c1c1"/>
<rect x="320.23" y="54.63" width="2.35" height="5.40" fill="#c1c1c1"/>
<rect x="323.93" y="54.63" width="2.35" height="5.40" fill="#c1c1c1"/>
<rect x="327.62" y="54.63" width="2.35" height="5.40" fill="#c1c1c1"/>
<rect x="331.31" y="54.63" width="2.35" height="5.40" fill="#c1c1c1"/>
<rect x="335.01" y="54.63" width="2.35" height="5.40" fill="#c1c1c1"/>
<rect x="338.70" y="54.63" width="2.35" height="5.40" fill="#c1c1c1"/>
<rect x="342.40" y="54.63" width="2.35" height="5.40" fill="#c1c1c1"/>
<rect x="346.09" y="54.63" width="2.35" height="5.40" fill="#c1c1c1"/>
<rect x="349.79" y="54.63" width="2.35" height="5.40" fill="#c1c1c1"/>
<rect x="353.49" y="54.63" width="2.35" height="5.40" fill="#c1c1c1"/>
<rect x="357.18" y="54.63" width="2.35" height="5.40" fill="#c1c1c1"/>
<rect x="360.88" y="54.63" width="2.35" height="5.40" fill="#c1c1c1"/>
<rect x="364.57" y="54.63" width="2.35" height="5.40" fill="#c1c1c1"/>
<rect x="368.26" y="54.63" width="2.35" height="5.40" fill="#c1c1c1"/>
<rect x="371.96" y="54.63" width="2.35" height="5.40" fill="#c1c1c1"/>
<rect x="375.65" y="54.63" width="2.35" height="5.40" fill="#c1c1c1"/>
<rect x="379.35" y="54.63" width="2.35" height="5.40" fill="#c1c1c1"/>
<rect x="383.05" y="54.63" width="2.35" height="5.40" fill="#c1c1c1"/>
<rect x="386.74" y="54.63" width="2.35" height="5.40" fill="#c1c1c1"/>
<rect x="390.44" y="54.63" width="2.35" height="5.40" fill="#c1c1c1"/>
<rect x="394.13" y="54.63" width="2.35" height="5.40" fill="#c1c1c1"/>
<rect x="397.82" y="54.63" width="2.35" height="5.40" fill="#c1c1c1"/>
<rect x="401.52" y="54.63" width="2.35" height="5.40" fill="#c1c1c1"/>
</g>
<text x="43.00" y="59.23" font-size="5.30" text-anchor="end" fill="#1c1c1c" font-style="italic">PTPN11</text>
<rect x="407.50" y="54.69" width="5.27" height="4.5" fill="#4a5363"/>
<g>
<rect x="46.80" y="61.80" width="2.35" height="5.40" fill="#5b5b5b"/>
<rect x="50.49" y="61.80" width="2.35" height="5.40" fill="#5b5b5b"/>
<rect x="54.19" y="61.80" width="2.35" height="5.40" fill="#5b5b5b"/>
<rect x="57.88" y="61.80" width="2.35" height="5.40" fill="#5b5b5b"/>
<rect x="61.58" y="61.80" width="2.35" height="5.40" fill="#5b5b5b"/>
<rect x="65.27" y="61.80" width="2.35" height="5.40" fill="#5b5b5b"/>
<rect x="68.97" y="61.80" width="2.35" height="5.40" fill="#5b5b5b"/>
<rect x="72.66" y="61.80" width="2.35" height="5.40" fill="#5b5b5b"/>
<rect x="76.36" y="61.80" width="2.35" height="5.40" fill="#5b5b5b"/>
<rect x="80.05" y="61.80" width="2.35" height="5.40" fill="#5b5b5b"/>
<rect x="83.75" y="61.80" width="2.35" height="5.40" fill="#5b5b5b"/>
<rect x="87.44" y="61.80" width="2.35" height="5.40" fill="#5b5b5b"/>
<rect x="91.14" y="61.80" width="2.35" height="5.40" fill="#5b5b5b"/>
<rect x="94.83" y="61.80" width="2.35" height="5.40" fill="#5b5b5b"/>
<rect x="98.53" y="61.80" width="2.35" height="5.40" fill="#5b5b5b"/>
<rect x="102.22" y="61.80" width="2.35" height="5.40" fill="#5b5b5b"/>
<rect x="105.92" y="61.80" width="2.35" height="5.40" fill="#5b5b5b"/>
<rect x="109.61" y="61.80" width="2.35" height="5.40" fill="#5b5b5b"/>
<rect x="113.31" y="61.80" width="2.35" height="5.40" fill="#5b5b5b"/>
<rect x="117.00" y="61.80" width="2.35" height="5.40" fill="#5b5b5b"/>
<rect x="120.70" y="61.80" width="2.35" height="5.40" fill="#5b5b5b"/>
<rect x="124.39" y="61.80" width="2.35" height="5.40" fill="#5b5b5b"/>
<rect x="128.09" y="61.80" width="2.35" height="5.40" fill="#5b5b5b"/>
<rect x="131.78" y="61.80" width="2.35" height="5.40" fill="#5b5b5b"/>
<rect x="135.48" y="61.80" width="2.35" height="5.40" fill="#5b5b5b"/>
<rect x="139.18" y="61.80" width="2.35" height="5.40" fill="#5b5b5b"/>
<rect x="142.87" y="61.80" width="2.35" height="5.40" fill="#5b5b5b"/>
<rect x="146.56" y="61.80" width="2.35" height="5.40" fill="#5b5b5b"/>
<rect x="150.26" y="61.80" width="2.35" height="5.40" fill="#5b5b5b"/>
<rect x="153.95" y="61.80" width="2.35" height="5.40" fill="#5b5b5b"/>
<rect x="157.65" y="61.80" width="2.35" height="5.40" fill="#5b5b5b"/>
<rect x="161.34" y="61.80" width="2.35" height="5.40" fill="#5b5b5b"/>
<rect x="165.04" y="61.80" width="2.35" height="5.40" fill="#5b5b5b"/>
<rect x="168.73" y="61.80" width="2.35" height="5.40" fill="#5b5b5b"/>
<rect x="172.43" y="61.80" width="2.35" height="5.40" fill="#5b5b5b"/>
<rect x="176.12" y="61.80" width="2.35" height="5.40" fill="#5b5b5b"/>
<rect x="179.82" y="61.80" width="2.35" height="5.40" fill="#5b5b5b"/>
<rect x="183.51" y="61.80" width="2.35" height="5.40" fill="#c1c1c1"/>
<rect x="187.21" y="61.80" width="2.35" height="5.40" fill="#c1c1c1"/>
<rect x="190.90" y="61.80" width="2.35" height="5.40" fill="#c1c1c1"/>
<rect x="194.60" y="61.80" width="2.35" height="5.40" fill="#c1c1c1"/>
<rect x="198.30" y="61.80" width="2.35" height="5.40" fill="#c1c1c1"/>
<rect x="201.99" y="61.80" width="2.35" height="5.40" fill="#c1c1c1"/>
<rect x="205.69" y="61.80" width="2.35" height="5.40" fill="#c1c1c1"/>
<rect x="209.38" y="61.80" width="2.35" height="5.40" fill="#c1c1c1"/>
<rect x="213.07" y="61.80" width="2.35" height="5.40" fill="#c1c1c1"/>
<rect x="216.77" y="61.80" width="2.35" height="5.40" fill="#c1c1c1"/>
<rect x="220.46" y="61.80" width="2.35" height="5.40" fill="#c1c1c1"/>
<rect x="224.16" y="61.80" width="2.35" height="5.40" fill="#c1c1c1"/>
<rect x="227.85" y="61.80" width="2.35" height="5.40" fill="#c1c1c1"/>
<rect x="231.55" y="61.80" width="2.35" height="5.40" fill="#c1c1c1"/>
<rect x="235.25" y="61.80" width="2.35" height="5.40" fill="#c1c1c1"/>
<rect x="238.94" y="61.80" width="2.35" height="5.40" fill="#c1c1c1"/>
<rect x="242.63" y="61.80" width="2.35" height="5.40" fill="#c1c1c1"/>
<rect x="246.33" y="61.80" width="2.35" height="5.40" fill="#c1c1c1"/>
<rect x="250.02" y="61.80" width="2.35" height="5.40" fill="#c1c1c1"/>
<rect x="253.72" y="61.80" width="2.35" height="5.40" fill="#c1c1c1"/>
<rect x="257.41" y="61.80" width="2.35" height="5.40" fill="#c1c1c1"/>
<rect x="261.11" y="61.80" width="2.35" height="5.40" fill="#c1c1c1"/>
<rect x="264.81" y="61.80" width="2.35" height="5.40" fill="#c1c1c1"/>
<rect x="268.50" y="61.80" width="2.35" height="5.40" fill="#c1c1c1"/>
<rect x="272.19" y="61.80" width="2.35" height="5.40" fill="#c1c1c1"/>
<rect x="275.89" y="61.80" width="2.35" height="5.40" fill="#c1c1c1"/>
<rect x="279.58" y="61.80" width="2.35" height="5.40" fill="#c1c1c1"/>
<rect x="283.28" y="61.80" width="2.35" height="5.40" fill="#c1c1c1"/>
<rect x="286.97" y="61.80" width="2.35" height="5.40" fill="#c1c1c1"/>
<rect x="290.67" y="61.80" width="2.35" height="5.40" fill="#c1c1c1"/>
<rect x="294.37" y="61.80" width="2.35" height="5.40" fill="#c1c1c1"/>
<rect x="298.06" y="61.80" width="2.35" height="5.40" fill="#c1c1c1"/>
<rect x="301.75" y="61.80" width="2.35" height="5.40" fill="#c1c1c1"/>
<rect x="305.45" y="61.80" width="2.35" height="5.40" fill="#c1c1c1"/>
<rect x="309.14" y="61.80" width="2.35" height="5.40" fill="#c1c1c1"/>
<rect x="312.84" y="61.80" width="2.35" height="5.40" fill="#c1c1c1"/>
<rect x="316.54" y="61.80" width="2.35" height="5.40" fill="#c1c1c1"/>
<rect x="320.23" y="61.80" width="2.35" height="5.40" fill="#c1c1c1"/>
<rect x="323.93" y="61.80" width="2.35" height="5.40" fill="#c1c1c1"/>
<rect x="327.62" y="61.80" width="2.35" height="5.40" fill="#c1c1c1"/>
<rect x="331.31" y="61.80" width="2.35" height="5.40" fill="#c1c1c1"/>
<rect x="335.01" y="61.80" width="2.35" height="5.40" fill="#c1c1c1"/>
<rect x="338.70" y="61.80" width="2.35" height="5.40" fill="#c1c1c1"/>
<rect x="342.40" y="61.80" width="2.35" height="5.40" fill="#c1c1c1"/>
<rect x="346.09" y="61.80" width="2.35" height="5.40" fill="#c1c1c1"/>
<rect x="349.79" y="61.80" width="2.35" height="5.40" fill="#c1c1c1"/>
<rect x="353.49" y="61.80" width="2.35" height="5.40" fill="#c1c1c1"/>
<rect x="357.18" y="61.80" width="2.35" height="5.40" fill="#c1c1c1"/>
<rect x="360.88" y="61.80" width="2.35" height="5.40" fill="#c1c1c1"/>
<rect x="364.57" y="61.80" width="2.35" height="5.40" fill="#c1c1c1"/>
<rect x="368.26" y="61.80" width="2.35" height="5.40" fill="#c1c1c1"/>
<rect x="371.96" y="61.80" width="2.35" height="5.40" fill="#c1c1c1"/>
<rect x="375.65" y="61.80" width="2.35" height="5.40" fill="#c1c1c1"/>
<rect x="379.35" y="61.80" width="2.35" height="5.40" fill="#c1c1c1"/>
<rect x="383.05" y="61.80" width="2.35" height="5.40" fill="#c1c1c1"/>
<rect x="386.74" y="61.80" width="2.35" height="5.40" fill="#c1c1c1"/>
<rect x="390.44" y="61.80" width="2.35" height="5.40" fill="#c1c1c1"/>
<rect x="394.13" y="61.80" width="2.35" height="5.40" fill="#c1c1c1"/>
<rect x="397.82" y="61.80" width="2.35" height="5.40" fill="#c1c1c1"/>
<rect x="401.52" y="61.80" width="2.35" height="5.40" fill="#c1c1c1"/>
</g>
<text x="43.00" y="66.40" font-size="5.60" text-anchor="end" fill="#1c1c1c" font-style="italic">signaling</text>
<rect x="407.50" y="61.85" width="97.51" height="4.5" fill="#4a5363"/>
<g>
<rect x="46.80" y="76.14" width="2.35" height="5.40" fill="#c1c1c1"/>
<rect x="50.49" y="76.14" width="2.35" height="5.40" fill="#c1c1c1"/>
<rect x="54.19" y="76.14" width="2.35" height="5.40" fill="#c1c1c1"/>
<rect x="57.88" y="76.14" width="2.35" height="5.40" fill="#c1c1c1"/>
<rect x="61.58" y="76.14" width="2.35" height="5.40" fill="#c1c1c1"/>
<rect x="65.27" y="76.14" width="2.35" height="5.40" fill="#c1c1c1"/>
<rect x="68.97" y="76.14" width="2.35" height="5.40" fill="#c1c1c1"/>
<rect x="72.66" y="76.14" width="2.35" height="5.40" fill="#c1c1c1"/>
<rect x="76.36" y="76.14" width="2.35" height="5.40" fill="#c1c1c1"/>
<rect x="80.05" y="76.14" width="2.35" height="5.40" fill="#f6c416"/>
<rect x="83.75" y="76.14" width="2.35" height="5.40" fill="#f6c416"/>
<rect x="87.44" y="76.14" width="2.35" height="5.40" fill="#c1c1c1"/>
<rect x="91.14" y="76.14" width="2.35" height="5.40" fill="#c1c1c1"/>
<rect x="94.83" y="76.14" width="2.35" height="5.40" fill="#c1c1c1"/>
<rect x="98.53" y="76.14" width="2.35" height="5.40" fill="#c1c1c1"/>
<rect x="102.22" y="76.14" width="2.35" height="5.40" fill="#c1c1c1"/>
<rect x="105.92" y="76.14" width="2.35" height="5.40" fill="#c1c1c1"/>
<rect x="109.61" y="76.14" width="2.35" height="5.40" fill="#c1c1c1"/>
<rect x="113.31" y="76.14" width="2.35" height="5.40" fill="#c1c1c1"/>
<rect x="117.00" y="76.14" width="2.35" height="5.40" fill="#c1c1c1"/>
<rect x="120.70" y="76.14" width="2.35" height="5.40" fill="#c1c1c1"/>
<rect x="124.39" y="76.14" width="2.35" height="5.40" fill="#c1c1c1"/>
<rect x="128.09" y="76.14" width="2.35" height="5.40" fill="#c1c1c1"/>
<rect x="131.78" y="76.14" width="2.35" height="5.40" fill="#c1c1c1"/>
<rect x="135.48" y="76.14" width="2.35" height="5.40" fill="#c1c1c1"/>
<rect x="139.18" y="76.14" width="2.35" height="5.40" fill="#c1c1c1"/>
<rect x="142.87" y="76.14" width="2.35" height="5.40" fill="#c1c1c1"/>
<rect x="146.56" y="76.14" width="2.35" height="5.40" fill="#c1c1c1"/>
<rect x="150.26" y="76.14" width="2.35" height="5.40" fill="#c1c1c1"/>
<rect x="153.95" y="76.14" width="2.35" height="5.40" fill="#c1c1c1"/>
<rect x="157.65" y="76.14" width="2.35" height="5.40" fill="#c1c1c1"/>
<rect x="161.34" y="76.14" width="2.35" height="5.40" fill="#c1c1c1"/>
<rect x="165.04" y="76.14" width="2.35" height="5.40" fill="#c1c1c1"/>
<rect x="168.73" y="76.14" width="2.35" height="5.40" fill="#c1c1c1"/>
<rect x="172.43" y="76.14" width="2.35" height="5.40" fill="#c1c1c1"/>
<rect x="176.12" y="76.14" width="2.35" height="5.40" fill="#c1c1c1"/>
<rect x="179.82" y="76.14" width="2.35" height="5.40" fill="#eea0cc"/>
<rect x="183.51" y="76.14" width="2.35" height="5.40" fill="#eea0cc"/>
<rect x="187.21" y="76.14" width="2.35" height="5.40" fill="#2fa739"/>
<rect x="190.90" y="76.14" width="2.35" height="5.40" fill="#eea0cc"/>
<rect x="194.60" y="76.14" width="2.35" height="5.40" fill="#eea0cc"/>
<rect x="198.30" y="76.14" width="2.35" height="5.40" fill="#eea0cc"/>
<rect x="201.99" y="76.14" width="2.35" height="5.40" fill="#eea0cc"/>
<rect x="205.69" y="76.14" width="2.35" height="5.40" fill="#2fa739"/>
<rect x="209.38" y="76.14" width="2.35" height="5.40" fill="#561a6f"/>
<rect x="213.07" y="76.14" width="2.35" height="5.40" fill="#2fa739"/>
<rect x="216.77" y="76.14" width="2.35" height="5.40" fill="#2fa739"/>
<rect x="220.46" y="76.14" width="2.35" height="5.40" fill="#f6c416"/>
<rect x="224.16" y="76.14" width="2.35" height="5.40" fill="#c1c1c1"/>
<rect x="227.85" y="76.14" width="2.35" height="5.40" fill="#c1c1c1"/>
<rect x="231.55" y="76.14" width="2.35" height="5.40" fill="#c1c1c1"/>
<rect x="235.25" y="76.14" width="2.35" height="5.40" fill="#c1c1c1"/>
<rect x="238.94" y="76.14" width="2.35" height="5.40" fill="#c1c1c1"/>
<rect x="242.63" y="76.14" width="2.35" height="5.40" fill="#c1c1c1"/>
<rect x="246.33" y="76.14" width="2.35" height="5.40" fill="#c1c1c1"/>
<rect x="250.02" y="76.14" width="2.35" height="5.40" fill="#c1c1c1"/>
<rect x="253.72" y="76.14" width="2.35" height="5.40" fill="#c1c1c1"/>
<rect x="257.41" y="76.14" width="2.35" height="5.40" fill="#c1c1c1"/>
<rect x="261.11" y="76.14" width="2.35" height="5.40" fill="#c1c1c1"/>
<rect x="264.81" y="76.14" width="2.35" height="5.40" fill="#c1c1c1"/>
<rect x="268.50" y="76.14" width="2.35" height="5.40" fill="#c1c1c1"/>
<rect x="272.19" y="76.14" width="2.35" height="5.40" fill="#c1c1c1"/>
<rect x="275.89" y="76.14" width="2.35" height="5.40" fill="#c1c1c1"/>
<rect x="279.58" y="76.14" width="2.35" height="5.40" fill="#c1c1c1"/>
<rect x="283.28" y="76.14" width="2.35" height="5.40" fill="#c1c1c1"/>
<rect x="286.97" y="76.14" width="2.35" height="5.40" fill="#c1c1c1"/>
<rect x="290.67" y="76.14" width="2.35" height="5.40" fill="#c1c1c1"/>
<rect x="294.37" y="76.14" width="2.35" height="5.40" fill="#c1c1c1"/>
<rect x="298.06" y="76.14" width="2.35" height="5.40" fill="#c1c1c1"/>
<rect x="301.75" y="76.14" width="2.35" height="5.40" fill="#c1c1c1"/>
<rect x="305.45" y="76.14" width="2.35" height="5.40" fill="#c1c1c1"/>
<rect x="309.14" y="76.14" width="2.35" height="5.40" fill="#c1c1c1"/>
<rect x="312.84" y="76.14" width="2.35" height="5.40" fill="#c1c1c1"/>
<rect x="316.54" y="76.14" width="2.35" height="5.40" fill="#c1c1c1"/>
<rect x="320.23" y="76.14" width="2.35" height="5.40" fill="#c1c1c1"/>
<rect x="323.93" y="76.14" width="2.35" height="5.40" fill="#c1c1c1"/>
<rect x="327.62" y="76.14" width="2.35" height="5.40" fill="#c1c1c1"/>
<rect x="331.31" y="76.14" width="2.35" height="5.40" fill="#c1c1c1"/>
<rect x="335.01" y="76.14" width="2.35" height="5.40" fill="#c1c1c1"/>
<rect x="338.70" y="76.14" width="2.35" height="5.40" fill="#c1c1c1"/>
<rect x="342.40" y="76.14" width="2.35" height="5.40" fill="#c1c1c1"/>
<rect x="346.09" y="76.14" width="2.35" height="5.40" fill="#c1c1c1"/>
<rect x="349.79" y="76.14" width="2.35" height="5.40" fill="#c1c1c1"/>
<rect x="353.49" y="76.14" width="2.35" height="5.40" fill="#c1c1c1"/>
<rect x="357.18" y="76.14" width="2.35" height="5.40" fill="#c1c1c1"/>
<rect x="360.88" y="76.14" width="2.35" height="5.40" fill="#c1c1c1"/>
<rect x="364.57" y="76.14" width="2.35" height="5.40" fill="#c1c1c1"/>
<rect x="368.26" y="76.14" width="2.35" height="5.40" fill="#c1c1c1"/>
<rect x="371.96" y="76.14" width="2.35" height="5.40" fill="#c1c1c1"/>
<rect x="375.65" y="76.14" width="2.35" height="5.40" fill="#c1c1c1"/>
<rect x="379.35" y="76.14" width="2.35" height="5.40" fill="#c1c1c1"/>
<rect x="383.05" y="76.14" width="2.35" height="5.40" fill="#c1c1c1"/>
<rect x="386.74" y="76.14" width="2.35" height="5.40" fill="#c1c1c1"/>
<rect x="390.44" y="76.14" width="2.35" height="5.40" fill="#c1c1c1"/>
<rect x="394.13" y="76.14" width="2.35" height="5.40" fill="#c1c1c1"/>
<rect x="397.82" y="76.14" width="2.35" height="5.40" fill="#c1c1c1"/>
<rect x="401.52" y="76.14" width="2.35" height="5.40" fill="#c1c1c1"/>
</g>
<text x="43.00" y="80.74" font-size="5.30" text-anchor="end" fill="#1c1c1c" font-style="italic">TP53</text>
<rect x="407.50" y="76.19" width="36.90" height="4.5" fill="#4a5363"/>
<g>
<rect x="46.80" y="83.30" width="2.35" height="5.40" fill="#173d70"/>
<rect x="50.49" y="83.30" width="2.35" height="5.40" fill="#c1c1c1"/>
<rect x="54.19" y="83.30" width="2.35" height="5.40" fill="#173d70"/>
<rect x="57.88" y="83.30" width="2.35" height="5.40" fill="#3aa9e0"/>
<rect x="61.58" y="83.30" width="2.35" height="5.40" fill="#b80c2e"/>
<rect x="65.27" y="83.30" width="2.35" height="5.40" fill="#3aa9e0"/>
<rect x="68.97" y="83.30" width="2.35" height="5.40" fill="#c1c1c1"/>
<rect x="72.66" y="83.30" width="2.35" height="5.40" fill="#c1c1c1"/>
<rect x="76.36" y="83.30" width="2.35" height="5.40" fill="#c1c1c1"/>
<rect x="80.05" y="83.30" width="2.35" height="5.40" fill="#173d70"/>
<rect x="83.75" y="83.30" width="2.35" height="5.40" fill="#c1c1c1"/>
<rect x="87.44" y="83.30" width="2.35" height="5.40" fill="#173d70"/>
<rect x="91.14" y="83.30" width="2.35" height="5.40" fill="#173d70"/>
<rect x="94.83" y="83.30" width="2.35" height="5.40" fill="#c1c1c1"/>
<rect x="98.53" y="83.30" width="2.35" height="5.40" fill="#c1c1c1"/>
<rect x="102.22" y="83.30" width="2.35" height="5.40" fill="#c1c1c1"/>
<rect x="105.92" y="83.30" width="2.35" height="5.40" fill="#c1c1c1"/>
<rect x="109.61" y="83.30" width="2.35" height="5.40" fill="#c1c1c1"/>
<rect x="113.31" y="83.30" width="2.35" height="5.40" fill="#c1c1c1"/>
<rect x="117.00" y="83.30" width="2.35" height="5.40" fill="#c1c1c1"/>
<rect x="120.70" y="83.30" width="2.35" height="5.40" fill="#c1c1c1"/>
<rect x="124.39" y="83.30" width="2.35" height="5.40" fill="#c1c1c1"/>
<rect x="128.09" y="83.30" width="2.35" height="5.40" fill="#173d70"/>
<rect x="131.78" y="83.30" width="2.35" height="5.40" fill="#c1c1c1"/>
<rect x="135.48" y="83.30" width="2.35" height="5.40" fill="#c1c1c1"/>
<rect x="139.18" y="83.30" width="2.35" height="5.40" fill="#c1c1c1"/>
<rect x="142.87" y="83.30" width="2.35" height="5.40" fill="#c1c1c1"/>
<rect x="146.56" y="83.30" width="2.35" height="5.40" fill="#c1c1c1"/>
<rect x="150.26" y="83.30" width="2.35" height="5.40" fill="#c1c1c1"/>
<rect x="153.95" y="83.30" width="2.35" height="5.40" fill="#c1c1c1"/>
<rect x="157.65" y="83.30" width="2.35" height="5.40" fill="#c1c1c1"/>
<rect x="161.34" y="83.30" width="2.35" height="5.40" fill="#c1c1c1"/>
<rect x="165.04" y="83.30" width="2.35" height="5.40" fill="#c1c1c1"/>
<rect x="168.73" y="83.30" width="2.35" height="5.40" fill="#c1c1c1"/>
<rect x="172.43" y="83.30" width="2.35" height="5.40" fill="#c1c1c1"/>
<rect x="176.12" y="83.30" width="2.35" height="5.40" fill="#c1c1c1"/>
<rect x="179.82" y="83.30" width="2.35" height="5.40" fill="#c1c1c1"/>
<rect x="183.51" y="83.30" width="2.35" height="5.40" fill="#b80c2e"/>
<rect x="187.21" y="83.30" width="2.35" height="5.40" fill="#c1c1c1"/>
<rect x="190.90" y="83.30" width="2.35" height="5.40" fill="#c1c1c1"/>
<rect x="194.60" y="83.30" width="2.35" height="5.40" fill="#c1c1c1"/>
<rect x="198.30" y="83.30" width="2.35" height="5.40" fill="#c1c1c1"/>
<rect x="201.99" y="83.30" width="2.35" height="5.40" fill="#c1c1c1"/>
<rect x="205.69" y="83.30" width="2.35" height="5.40" fill="#c1c1c1"/>
<rect x="209.38" y="83.30" width="2.35" height="5.40" fill="#c1c1c1"/>
<rect x="213.07" y="83.30" width="2.35" height="5.40" fill="#c1c1c1"/>
<rect x="216.77" y="83.30" width="2.35" height="5.40" fill="#c1c1c1"/>
<rect x="220.46" y="83.30" width="2.35" height="5.40" fill="#c1c1c1"/>
<rect x="224.16" y="83.30" width="2.35" height="5.40" fill="#3aa9e0"/>
<rect x="227.85" y="83.30" width="2.35" height="5.40" fill="#173d70"/>
<rect x="231.55" y="83.30" width="2.35" height="5.40" fill="#173d70"/>
<rect x="235.25" y="83.30" width="2.35" height="5.40" fill="#b80c2e"/>
<rect x="238.94" y="83.30" width="2.35" height="5.40" fill="#c1c1c1"/>
<rect x="242.63" y="83.30" width="2.35" height="5.40" fill="#c1c1c1"/>
<rect x="246.33" y="83.30" width="2.35" height="5.40" fill="#c1c1c1"/>
<rect x="250.02" y="83.30" width="2.35" height="5.40" fill="#c1c1c1"/>
<rect x="253.72" y="83.30" width="2.35" height="5.40" fill="#c1c1c1"/>
<rect x="257.41" y="83.30" width="2.35" height="5.40" fill="#c1c1c1"/>
<rect x="261.11" y="83.30" width="2.35" height="5.40" fill="#c1c1c1"/>
<rect x="264.81" y="83.30" width="2.35" height="5.40" fill="#c1c1c1"/>
<rect x="268.50" y="83.30" width="2.35" height="5.40" fill="#c1c1c1"/>
<rect x="272.19" y="83.30" width="2.35" height="5.40" fill="#c1c1c1"/>
<rect x="275.89" y="83.30" width="2.35" height="5.40" fill="#c1c1c1"/>
<rect x="279.58" y="83.30" width="2.35" height="5.40" fill="#c1c1c1"/>
<rect x="283.28" y="83.30" width="2.35" height="5.40" fill="#c1c1c1"/>
<rect x="286.97" y="83.30" width="2.35" height="5.40" fill="#c1c1c1"/>
<rect x="290.67" y="83.30" width="2.35" height="5.40" fill="#c1c1c1"/>
<rect x="294.37" y="83.30" width="2.35" height="5.40" fill="#c1c1c1"/>
<rect x="298.06" y="83.30" width="2.35" height="5.40" fill="#c1c1c1"/>
<rect x="301.75" y="83.30" width="2.35" height="5.40" fill="#c1c1c1"/>
<rect x="305.45" y="83.30" width="2.35" height="5.40" fill="#c1c1c1"/>
<rect x="309.14" y="83.30" width="2.35" height="5.40" fill="#c1c1c1"/>
<rect x="312.84" y="83.30" width="2.35" height="5.40" fill="#c1c1c1"/>
<rect x="316.54" y="83.30" width="2.35" height="5.40" fill="#c1c1c1"/>
<rect x="320.23" y="83.30" width="2.35" height="5.40" fill="#c1c1c1"/>
<rect x="323.93" y="83.30" width="2.35" height="5.40" fill="#c1c1c1"/>
<rect x="327.62" y="83.30" width="2.35" height="5.40" fill="#c1c1c1"/>
<rect x="331.31" y="83.30" width="2.35" height="5.40" fill="#c1c1c1"/>
<rect x="335.01" y="83.30" width="2.35" height="5.40" fill="#c1c1c1"/>
<rect x="338.70" y="83.30" width="2.35" height="5.40" fill="#c1c1c1"/>
<rect x="342.40" y="83.30" width="2.35" height="5.40" fill="#c1c1c1"/>
<rect x="346.09" y="83.30" width="2.35" height="5.40" fill="#c1c1c1"/>
<rect x="349.79" y="83.30" width="2.35" height="5.40" fill="#c1c1c1"/>
<rect x="353.49" y="83.30" width="2.35" height="5.40" fill="#c1c1c1"/>
<rect x="357.18" y="83.30" width="2.35" height="5.40" fill="#c1c1c1"/>
<rect x="360.88" y="83.30" width="2.35" height="5.40" fill="#c1c1c1"/>
<rect x="364.57" y="83.30" width="2.35" height="5.40" fill="#c1c1c1"/>
<rect x="368.26" y="83.30" width="2.35" height="5.40" fill="#c1c1c1"/>
<rect x="371.96" y="83.30" width="2.35" height="5.40" fill="#c1c1c1"/>
<rect x="375.65" y="83.30" width="2.35" height="5.40" fill="#c1c1c1"/>
<rect x="379.35" y="83.30" width="2.35" height="5.40" fill="#c1c1c1"/>
<rect x="383.05" y="83.30" width="2.35" height="5.40" fill="#c1c1c1"/>
<rect x="386.74" y="83.30" width="2.35" height="5.40" fill="#c1c1c1"/>
<rect x="390.44" y="83.30" width="2.35" height="5.40" fill="#c1c1c1"/>
<rect x="394.13" y="83.30" width="2.35" height="5.40" fill="#c1c1c1"/>
<rect x="397.82" y="83.30" width="2.35" height="5.40" fill="#c1c1c1"/>
<rect x="401.52" y="83.30" width="2.35" height="5.40" fill="#c1c1c1"/>
</g>
<text x="43.00" y="87.90" font-size="5.30" text-anchor="end" fill="#1c1c1c" font-style="italic">CDKN2A</text>
<rect x="407.50" y="83.35" width="36.90" height="4.5" fill="#4a5363"/>
<g>
<rect x="46.80" y="97.64" width="2.35" height="5.40" fill="#c1c1c1"/>
<rect x="50.49" y="97.64" width="2.35" height="5.40" fill="#3aa9e0"/>
<rect x="54.19" y="97.64" width="2.35" height="5.40" fill="#c1c1c1"/>
<rect x="57.88" y="97.64" width="2.35" height="5.40" fill="#c1c1c1"/>
<rect x="61.58" y="97.64" width="2.35" height="5.40" fill="#c1c1c1"/>
<rect x="65.27" y="97.64" width="2.35" height="5.40" fill="#c1c1c1"/>
<rect x="68.97" y="97.64" width="2.35" height="5.40" fill="#c1c1c1"/>
<rect x="72.66" y="97.64" width="2.35" height="5.40" fill="#c1c1c1"/>
<rect x="76.36" y="97.64" width="2.35" height="5.40" fill="#3aa9e0"/>
<rect x="80.05" y="97.64" width="2.35" height="5.40" fill="#c1c1c1"/>
<rect x="83.75" y="97.64" width="2.35" height="5.40" fill="#3aa9e0"/>
<rect x="87.44" y="97.64" width="2.35" height="5.40" fill="#c1c1c1"/>
<rect x="91.14" y="97.64" width="2.35" height="5.40" fill="#c1c1c1"/>
<rect x="94.83" y="97.64" width="2.35" height="5.40" fill="#c1c1c1"/>
<rect x="98.53" y="97.64" width="2.35" height="5.40" fill="#c1c1c1"/>
<rect x="102.22" y="97.64" width="2.35" height="5.40" fill="#c1c1c1"/>
<rect x="105.92" y="97.64" width="2.35" height="5.40" fill="#c1c1c1"/>
<rect x="109.61" y="97.64" width="2.35" height="5.40" fill="#c1c1c1"/>
<rect x="113.31" y="97.64" width="2.35" height="5.40" fill="#c1c1c1"/>
<rect x="117.00" y="97.64" width="2.35" height="5.40" fill="#c1c1c1"/>
<rect x="120.70" y="97.64" width="2.35" height="5.40" fill="#c1c1c1"/>
<rect x="124.39" y="97.64" width="2.35" height="5.40" fill="#c1c1c1"/>
<rect x="128.09" y="97.64" width="2.35" height="5.40" fill="#c1c1c1"/>
<rect x="131.78" y="97.64" width="2.35" height="5.40" fill="#3aa9e0"/>
<rect x="135.48" y="97.64" width="2.35" height="5.40" fill="#c1c1c1"/>
<rect x="139.18" y="97.64" width="2.35" height="5.40" fill="#c1c1c1"/>
<rect x="142.87" y="97.64" width="2.35" height="5.40" fill="#c1c1c1"/>
<rect x="146.56" y="97.64" width="2.35" height="5.40" fill="#c1c1c1"/>
<rect x="150.26" y="97.64" width="2.35" height="5.40" fill="#c1c1c1"/>
<rect x="153.95" y="97.64" width="2.35" height="5.40" fill="#3aa9e0"/>
<rect x="157.65" y="97.64" width="2.35" height="5.40" fill="#3aa9e0"/>
<rect x="161.34" y="97.64" width="2.35" height="5.40" fill="#c1c1c1"/>
<rect x="165.04" y="97.64" width="2.35" height="5.40" fill="#c1c1c1"/>
<rect x="168.73" y="97.64" width="2.35" height="5.40" fill="#c1c1c1"/>
<rect x="172.43" y="97.64" width="2.35" height="5.40" fill="#c1c1c1"/>
<rect x="176.12" y="97.64" width="2.35" height="5.40" fill="#c1c1c1"/>
<rect x="179.82" y="97.64" width="2.35" height="5.40" fill="#c1c1c1"/>
<rect x="183.51" y="97.64" width="2.35" height="5.40" fill="#c1c1c1"/>
<rect x="187.21" y="97.64" width="2.35" height="5.40" fill="#3aa9e0"/>
<rect x="190.90" y="97.64" width="2.35" height="5.40" fill="#c1c1c1"/>
<rect x="194.60" y="97.64" width="2.35" height="5.40" fill="#c1c1c1"/>
<rect x="198.30" y="97.64" width="2.35" height="5.40" fill="#c1c1c1"/>
<rect x="201.99" y="97.64" width="2.35" height="5.40" fill="#c1c1c1"/>
<rect x="205.69" y="97.64" width="2.35" height="5.40" fill="#c1c1c1"/>
<rect x="209.38" y="97.64" width="2.35" height="5.40" fill="#c1c1c1"/>
<rect x="213.07" y="97.64" width="2.35" height="5.40" fill="#c1c1c1"/>
<rect x="216.77" y="97.64" width="2.35" height="5.40" fill="#c1c1c1"/>
<rect x="220.46" y="97.64" width="2.35" height="5.40" fill="#c1c1c1"/>
<rect x="224.16" y="97.64" width="2.35" height="5.40" fill="#c1c1c1"/>
<rect x="227.85" y="97.64" width="2.35" height="5.40" fill="#c1c1c1"/>
<rect x="231.55" y="97.64" width="2.35" height="5.40" fill="#c1c1c1"/>
<rect x="235.25" y="97.64" width="2.35" height="5.40" fill="#c1c1c1"/>
<rect x="238.94" y="97.64" width="2.35" height="5.40" fill="#3aa9e0"/>
<rect x="242.63" y="97.64" width="2.35" height="5.40" fill="#c1c1c1"/>
<rect x="246.33" y="97.64" width="2.35" height="5.40" fill="#c1c1c1"/>
<rect x="250.02" y="97.64" width="2.35" height="5.40" fill="#c1c1c1"/>
<rect x="253.72" y="97.64" width="2.35" height="5.40" fill="#c1c1c1"/>
<rect x="257.41" y="97.64" width="2.35" height="5.40" fill="#c1c1c1"/>
<rect x="261.11" y="97.64" width="2.35" height="5.40" fill="#c1c1c1"/>
<rect x="264.81" y="97.64" width="2.35" height="5.40" fill="#c1c1c1"/>
<rect x="268.50" y="97.64" width="2.35" height="5.40" fill="#c1c1c1"/>
<rect x="272.19" y="97.64" width="2.35" height="5.40" fill="#c1c1c1"/>
<rect x="275.89" y="97.64" width="2.35" height="5.40" fill="#c1c1c1"/>
<rect x="279.58" y="97.64" width="2.35" height="5.40" fill="#c1c1c1"/>
<rect x="283.28" y="97.64" width="2.35" height="5.40" fill="#c1c1c1"/>
<rect x="286.97" y="97.64" width="2.35" height="5.40" fill="#c1c1c1"/>
<rect x="290.67" y="97.64" width="2.35" height="5.40" fill="#c1c1c1"/>
<rect x="294.37" y="97.64" width="2.35" height="5.40" fill="#c1c1c1"/>
<rect x="298.06" y="97.64" width="2.35" height="5.40" fill="#c1c1c1"/>
<rect x="301.75" y="97.64" width="2.35" height="5.40" fill="#c1c1c1"/>
<rect x="305.45" y="97.64" width="2.35" height="5.40" fill="#c1c1c1"/>
<rect x="309.14" y="97.64" width="2.35" height="5.40" fill="#c1c1c1"/>
<rect x="312.84" y="97.64" width="2.35" height="5.40" fill="#c1c1c1"/>
<rect x="316.54" y="97.64" width="2.35" height="5.40" fill="#c1c1c1"/>
<rect x="320.23" y="97.64" width="2.35" height="5.40" fill="#c1c1c1"/>
<rect x="323.93" y="97.64" width="2.35" height="5.40" fill="#c1c1c1"/>
<rect x="327.62" y="97.64" width="2.35" height="5.40" fill="#c1c1c1"/>
<rect x="331.31" y="97.64" width="2.35" height="5.40" fill="#c1c1c1"/>
<rect x="335.01" y="97.64" width="2.35" height="5.40" fill="#c1c1c1"/>
<rect x="338.70" y="97.64" width="2.35" height="5.40" fill="#c1c1c1"/>
<rect x="342.40" y="97.64" width="2.35" height="5.40" fill="#c1c1c1"/>
<rect x="346.09" y="97.64" width="2.35" height="5.40" fill="#c1c1c1"/>
<rect x="349.79" y="97.64" width="2.35" height="5.40" fill="#c1c1c1"/>
<rect x="353.49" y="97.64" width="2.35" height="5.40" fill="#c1c1c1"/>
<rect x="357.18" y="97.64" width="2.35" height="5.40" fill="#c1c1c1"/>
<rect x="360.88" y="97.64" width="2.35" height="5.40" fill="#c1c1c1"/>
<rect x="364.57" y="97.64" width="2.35" height="5.40" fill="#c1c1c1"/>
<rect x="368.26" y="97.64" width="2.35" height="5.40" fill="#c1c1c1"/>
<rect x="371.96" y="97.64" width="2.35" height="5.40" fill="#c1c1c1"/>
<rect x="375.65" y="97.64" width="2.35" height="5.40" fill="#c1c1c1"/>
<rect x="379.35" y="97.64" width="2.35" height="5.40" fill="#c1c1c1"/>
<rect x="383.05" y="97.64" width="2.35" height="5.40" fill="#c1c1c1"/>
<rect x="386.74" y="97.64" width="2.35" height="5.40" fill="#c1c1c1"/>
<rect x="390.44" y="97.64" width="2.35" height="5.40" fill="#c1c1c1"/>
<rect x="394.13" y="97.64" width="2.35" height="5.40" fill="#c1c1c1"/>
<rect x="397.82" y="97.64" width="2.35" height="5.40" fill="#c1c1c1"/>
<rect x="401.52" y="97.64" width="2.35" height="5.40" fill="#c1c1c1"/>
</g>
<text x="43.00" y="102.24" font-size="5.30" text-anchor="end" fill="#1c1c1c" font-style="italic">IKZF1</text>
<rect x="407.50" y="97.69" width="21.08" height="4.5" fill="#4a5363"/>
<g>
<rect x="46.80" y="104.80" width="2.35" height="5.40" fill="#c1c1c1"/>
<rect x="50.49" y="104.80" width="2.35" height="5.40" fill="#c1c1c1"/>
<rect x="54.19" y="104.80" width="2.35" height="5.40" fill="#c1c1c1"/>
<rect x="57.88" y="104.80" width="2.35" height="5.40" fill="#c1c1c1"/>
<rect x="61.58" y="104.80" width="2.35" height="5.40" fill="#c1c1c1"/>
<rect x="65.27" y="104.80" width="2.35" height="5.40" fill="#c1c1c1"/>
<rect x="68.97" y="104.80" width="2.35" height="5.40" fill="#c1c1c1"/>
<rect x="72.66" y="104.80" width="2.35" height="5.40" fill="#c1c1c1"/>
<rect x="76.36" y="104.80" width="2.35" height="5.40" fill="#c1c1c1"/>
<rect x="80.05" y="104.80" width="2.35" height="5.40" fill="#c1c1c1"/>
<rect x="83.75" y="104.80" width="2.35" height="5.40" fill="#c1c1c1"/>
<rect x="87.44" y="104.80" width="2.35" height="5.40" fill="#c1c1c1"/>
<rect x="91.14" y="104.80" width="2.35" height="5.40" fill="#c1c1c1"/>
<rect x="94.83" y="104.80" width="2.35" height="5.40" fill="#c1c1c1"/>
<rect x="98.53" y="104.80" width="2.35" height="5.40" fill="#c1c1c1"/>
<rect x="102.22" y="104.80" width="2.35" height="5.40" fill="#c1c1c1"/>
<rect x="105.92" y="104.80" width="2.35" height="5.40" fill="#c1c1c1"/>
<rect x="109.61" y="104.80" width="2.35" height="5.40" fill="#c1c1c1"/>
<rect x="113.31" y="104.80" width="2.35" height="5.40" fill="#c1c1c1"/>
<rect x="117.00" y="104.80" width="2.35" height="5.40" fill="#c1c1c1"/>
<rect x="120.70" y="104.80" width="2.35" height="5.40" fill="#c1c1c1"/>
<rect x="124.39" y="104.80" width="2.35" height="5.40" fill="#c1c1c1"/>
<rect x="128.09" y="104.80" width="2.35" height="5.40" fill="#c1c1c1"/>
<rect x="131.78" y="104.80" width="2.35" height="5.40" fill="#c1c1c1"/>
<rect x="135.48" y="104.80" width="2.35" height="5.40" fill="#c1c1c1"/>
<rect x="139.18" y="104.80" width="2.35" height="5.40" fill="#c1c1c1"/>
<rect x="142.87" y="104.80" width="2.35" height="5.40" fill="#c1c1c1"/>
<rect x="146.56" y="104.80" width="2.35" height="5.40" fill="#c1c1c1"/>
<rect x="150.26" y="104.80" width="2.35" height="5.40" fill="#c1c1c1"/>
<rect x="153.95" y="104.80" width="2.35" height="5.40" fill="#c1c1c1"/>
<rect x="157.65" y="104.80" width="2.35" height="5.40" fill="#c1c1c1"/>
<rect x="161.34" y="104.80" width="2.35" height="5.40" fill="#c1c1c1"/>
<rect x="165.04" y="104.80" width="2.35" height="5.40" fill="#c1c1c1"/>
<rect x="168.73" y="104.80" width="2.35" height="5.40" fill="#c1c1c1"/>
<rect x="172.43" y="104.80" width="2.35" height="5.40" fill="#c1c1c1"/>
<rect x="176.12" y="104.80" width="2.35" height="5.40" fill="#c1c1c1"/>
<rect x="179.82" y="104.80" width="2.35" height="5.40" fill="#c1c1c1"/>
<rect x="183.51" y="104.80" width="2.35" height="5.40" fill="#c1c1c1"/>
<rect x="187.21" y="104.80" width="2.35" height="5.40" fill="#c1c1c1"/>
<rect x="190.90" y="104.80" width="2.35" height="5.40" fill="#2fa739"/>
<rect x="194.60" y="104.80" width="2.35" height="5.40" fill="#c1c1c1"/>
<rect x="198.30" y="104.80" width="2.35" height="5.40" fill="#c1c1c1"/>
<rect x="201.99" y="104.80" width="2.35" height="5.40" fill="#c1c1c1"/>
<rect x="205.69" y="104.80" width="2.35" height="5.40" fill="#c1c1c1"/>
<rect x="209.38" y="104.80" width="2.35" height="5.40" fill="#c1c1c1"/>
<rect x="213.07" y="104.80" width="2.35" height="5.40" fill="#c1c1c1"/>
<rect x="216.77" y="104.80" width="2.35" height="5.40" fill="#c1c1c1"/>
<rect x="220.46" y="104.80" width="2.35" height="5.40" fill="#c1c1c1"/>
<rect x="224.16" y="104.80" width="2.35" height="5.40" fill="#c1c1c1"/>
<rect x="227.85" y="104.80" width="2.35" height="5.40" fill="#c1c1c1"/>
<rect x="231.55" y="104.80" width="2.35" height="5.40" fill="#c1c1c1"/>
<rect x="235.25" y="104.80" width="2.35" height="5.40" fill="#c1c1c1"/>
<rect x="238.94" y="104.80" width="2.35" height="5.40" fill="#c1c1c1"/>
<rect x="242.63" y="104.80" width="2.35" height="5.40" fill="#c1c1c1"/>
<rect x="246.33" y="104.80" width="2.35" height="5.40" fill="#c1c1c1"/>
<rect x="250.02" y="104.80" width="2.35" height="5.40" fill="#c1c1c1"/>
<rect x="253.72" y="104.80" width="2.35" height="5.40" fill="#c1c1c1"/>
<rect x="257.41" y="104.80" width="2.35" height="5.40" fill="#c1c1c1"/>
<rect x="261.11" y="104.80" width="2.35" height="5.40" fill="#c1c1c1"/>
<rect x="264.81" y="104.80" width="2.35" height="5.40" fill="#c1c1c1"/>
<rect x="268.50" y="104.80" width="2.35" height="5.40" fill="#2fa739"/>
<rect x="272.19" y="104.80" width="2.35" height="5.40" fill="#c1c1c1"/>
<rect x="275.89" y="104.80" width="2.35" height="5.40" fill="#c1c1c1"/>
<rect x="279.58" y="104.80" width="2.35" height="5.40" fill="#c1c1c1"/>
<rect x="283.28" y="104.80" width="2.35" height="5.40" fill="#c1c1c1"/>
<rect x="286.97" y="104.80" width="2.35" height="5.40" fill="#c1c1c1"/>
<rect x="290.67" y="104.80" width="2.35" height="5.40" fill="#c1c1c1"/>
<rect x="294.37" y="104.80" width="2.35" height="5.40" fill="#c1c1c1"/>
<rect x="298.06" y="104.80" width="2.35" height="5.40" fill="#c1c1c1"/>
<rect x="301.75" y="104.80" width="2.35" height="5.40" fill="#c1c1c1"/>
<rect x="305.45" y="104.80" width="2.35" height="5.40" fill="#c1c1c1"/>
<rect x="309.14" y="104.80" width="2.35" height="5.40" fill="#c1c1c1"/>
<rect x="312.84" y="104.80" width="2.35" height="5.40" fill="#c1c1c1"/>
<rect x="316.54" y="104.80" width="2.35" height="5.40" fill="#c1c1c1"/>
<rect x="320.23" y="104.80" width="2.35" height="5.40" fill="#c1c1c1"/>
<rect x="323.93" y="104.80" width="2.35" height="5.40" fill="#c1c1c1"/>
<rect x="327.62" y="104.80" width="2.35" height="5.40" fill="#c1c1c1"/>
<rect x="331.31" y="104.80" width="2.35" height="5.40" fill="#c1c1c1"/>
<rect x="335.01" y="104.80" width="2.35" height="5.40" fill="#c1c1c1"/>
<rect x="338.70" y="104.80" width="2.35" height="5.40" fill="#c1c1c1"/>
<rect x="342.40" y="104.80" width="2.35" height="5.40" fill="#c1c1c1"/>
<rect x="346.09" y="104.80" width="2.35" height="5.40" fill="#c1c1c1"/>
<rect x="349.79" y="104.80" width="2.35" height="5.40" fill="#c1c1c1"/>
<rect x="353.49" y="104.80" width="2.35" height="5.40" fill="#c1c1c1"/>
<rect x="357.18" y="104.80" width="2.35" height="5.40" fill="#c1c1c1"/>
<rect x="360.88" y="104.80" width="2.35" height="5.40" fill="#c1c1c1"/>
<rect x="364.57" y="104.80" width="2.35" height="5.40" fill="#c1c1c1"/>
<rect x="368.26" y="104.80" width="2.35" height="5.40" fill="#c1c1c1"/>
<rect x="371.96" y="104.80" width="2.35" height="5.40" fill="#c1c1c1"/>
<rect x="375.65" y="104.80" width="2.35" height="5.40" fill="#c1c1c1"/>
<rect x="379.35" y="104.80" width="2.35" height="5.40" fill="#2fa739"/>
<rect x="383.05" y="104.80" width="2.35" height="5.40" fill="#c1c1c1"/>
<rect x="386.74" y="104.80" width="2.35" height="5.40" fill="#c1c1c1"/>
<rect x="390.44" y="104.80" width="2.35" height="5.40" fill="#c1c1c1"/>
<rect x="394.13" y="104.80" width="2.35" height="5.40" fill="#c1c1c1"/>
<rect x="397.82" y="104.80" width="2.35" height="5.40" fill="#c1c1c1"/>
<rect x="401.52" y="104.80" width="2.35" height="5.40" fill="#c1c1c1"/>
</g>
<text x="43.00" y="109.40" font-size="5.30" text-anchor="end" fill="#1c1c1c" font-style="italic">PAX5</text>
<rect x="407.50" y="104.85" width="7.91" height="4.5" fill="#4a5363"/>
<g>
<rect x="46.80" y="111.97" width="2.35" height="5.40" fill="#c1c1c1"/>
<rect x="50.49" y="111.97" width="2.35" height="5.40" fill="#c1c1c1"/>
<rect x="54.19" y="111.97" width="2.35" height="5.40" fill="#c1c1c1"/>
<rect x="57.88" y="111.97" width="2.35" height="5.40" fill="#c1c1c1"/>
<rect x="61.58" y="111.97" width="2.35" height="5.40" fill="#c1c1c1"/>
<rect x="65.27" y="111.97" width="2.35" height="5.40" fill="#c1c1c1"/>
<rect x="68.97" y="111.97" width="2.35" height="5.40" fill="#c1c1c1"/>
<rect x="72.66" y="111.97" width="2.35" height="5.40" fill="#c1c1c1"/>
<rect x="76.36" y="111.97" width="2.35" height="5.40" fill="#c1c1c1"/>
<rect x="80.05" y="111.97" width="2.35" height="5.40" fill="#c1c1c1"/>
<rect x="83.75" y="111.97" width="2.35" height="5.40" fill="#c1c1c1"/>
<rect x="87.44" y="111.97" width="2.35" height="5.40" fill="#c1c1c1"/>
<rect x="91.14" y="111.97" width="2.35" height="5.40" fill="#c1c1c1"/>
<rect x="94.83" y="111.97" width="2.35" height="5.40" fill="#c1c1c1"/>
<rect x="98.53" y="111.97" width="2.35" height="5.40" fill="#c1c1c1"/>
<rect x="102.22" y="111.97" width="2.35" height="5.40" fill="#c1c1c1"/>
<rect x="105.92" y="111.97" width="2.35" height="5.40" fill="#c1c1c1"/>
<rect x="109.61" y="111.97" width="2.35" height="5.40" fill="#c1c1c1"/>
<rect x="113.31" y="111.97" width="2.35" height="5.40" fill="#c1c1c1"/>
<rect x="117.00" y="111.97" width="2.35" height="5.40" fill="#c1c1c1"/>
<rect x="120.70" y="111.97" width="2.35" height="5.40" fill="#c1c1c1"/>
<rect x="124.39" y="111.97" width="2.35" height="5.40" fill="#c1c1c1"/>
<rect x="128.09" y="111.97" width="2.35" height="5.40" fill="#c1c1c1"/>
<rect x="131.78" y="111.97" width="2.35" height="5.40" fill="#c1c1c1"/>
<rect x="135.48" y="111.97" width="2.35" height="5.40" fill="#c1c1c1"/>
<rect x="139.18" y="111.97" width="2.35" height="5.40" fill="#c1c1c1"/>
<rect x="142.87" y="111.97" width="2.35" height="5.40" fill="#c1c1c1"/>
<rect x="146.56" y="111.97" width="2.35" height="5.40" fill="#c1c1c1"/>
<rect x="150.26" y="111.97" width="2.35" height="5.40" fill="#c1c1c1"/>
<rect x="153.95" y="111.97" width="2.35" height="5.40" fill="#b80c2e"/>
<rect x="157.65" y="111.97" width="2.35" height="5.40" fill="#c1c1c1"/>
<rect x="161.34" y="111.97" width="2.35" height="5.40" fill="#c1c1c1"/>
<rect x="165.04" y="111.97" width="2.35" height="5.40" fill="#c1c1c1"/>
<rect x="168.73" y="111.97" width="2.35" height="5.40" fill="#c1c1c1"/>
<rect x="172.43" y="111.97" width="2.35" height="5.40" fill="#c1c1c1"/>
<rect x="176.12" y="111.97" width="2.35" height="5.40" fill="#c1c1c1"/>
<rect x="179.82" y="111.97" width="2.35" height="5.40" fill="#c1c1c1"/>
<rect x="183.51" y="111.97" width="2.35" height="5.40" fill="#c1c1c1"/>
<rect x="187.21" y="111.97" width="2.35" height="5.40" fill="#c1c1c1"/>
<rect x="190.90" y="111.97" width="2.35" height="5.40" fill="#c1c1c1"/>
<rect x="194.60" y="111.97" width="2.35" height="5.40" fill="#c1c1c1"/>
<rect x="198.30" y="111.97" width="2.35" height="5.40" fill="#c1c1c1"/>
<rect x="201.99" y="111.97" width="2.35" height="5.40" fill="#c1c1c1"/>
<rect x="205.69" y="111.97" width="2.35" height="5.40" fill="#c1c1c1"/>
<rect x="209.38" y="111.97" width="2.35" height="5.40" fill="#c1c1c1"/>
<rect x="213.07" y="111.97" width="2.35" height="5.40" fill="#c1c1c1"/>
<rect x="216.77" y="111.97" width="2.35" height="5.40" fill="#c1c1c1"/>
<rect x="220.46" y="111.97" width="2.35" height="5.40" fill="#c1c1c1"/>
<rect x="224.16" y="111.97" width="2.35" height="5.40" fill="#c1c1c1"/>
<rect x="227.85" y="111.97" width="2.35" height="5.40" fill="#c1c1c1"/>
<rect x="231.55" y="111.97" width="2.35" height="5.40" fill="#c1c1c1"/>
<rect x="235.25" y="111.97" width="2.35" height="5.40" fill="#c1c1c1"/>
<rect x="238.94" y="111.97" width="2.35" height="5.40" fill="#c1c1c1"/>
<rect x="242.63" y="111.97" width="2.35" height="5.40" fill="#c1c1c1"/>
<rect x="246.33" y="111.97" width="2.35" height="5.40" fill="#c1c1c1"/>
<rect x="250.02" y="111.97" width="2.35" height="5.40" fill="#c1c1c1"/>
<rect x="253.72" y="111.97" width="2.35" height="5.40" fill="#c1c1c1"/>
<rect x="257.41" y="111.97" width="2.35" height="5.40" fill="#b80c2e"/>
<rect x="261.11" y="111.97" width="2.35" height="5.40" fill="#c1c1c1"/>
<rect x="264.81" y="111.97" width="2.35" height="5.40" fill="#c1c1c1"/>
<rect x="268.50" y="111.97" width="2.35" height="5.40" fill="#c1c1c1"/>
<rect x="272.19" y="111.97" width="2.35" height="5.40" fill="#c1c1c1"/>
<rect x="275.89" y="111.97" width="2.35" height="5.40" fill="#c1c1c1"/>
<rect x="279.58" y="111.97" width="2.35" height="5.40" fill="#c1c1c1"/>
<rect x="283.28" y="111.97" width="2.35" height="5.40" fill="#c1c1c1"/>
<rect x="286.97" y="111.97" width="2.35" height="5.40" fill="#c1c1c1"/>
<rect x="290.67" y="111.97" width="2.35" height="5.40" fill="#c1c1c1"/>
<rect x="294.37" y="111.97" width="2.35" height="5.40" fill="#c1c1c1"/>
<rect x="298.06" y="111.97" width="2.35" height="5.40" fill="#c1c1c1"/>
<rect x="301.75" y="111.97" width="2.35" height="5.40" fill="#c1c1c1"/>
<rect x="305.45" y="111.97" width="2.35" height="5.40" fill="#c1c1c1"/>
<rect x="309.14" y="111.97" width="2.35" height="5.40" fill="#c1c1c1"/>
<rect x="312.84" y="111.97" width="2.35" height="5.40" fill="#c1c1c1"/>
<rect x="316.54" y="111.97" width="2.35" height="5.40" fill="#c1c1c1"/>
<rect x="320.23" y="111.97" width="2.35" height="5.40" fill="#c1c1c1"/>
<rect x="323.93" y="111.97" width="2.35" height="5.40" fill="#c1c1c1"/>
<rect x="327.62" y="111.97" width="2.35" height="5.40" fill="#c1c1c1"/>
<rect x="331.31" y="111.97" width="2.35" height="5.40" fill="#c1c1c1"/>
<rect x="335.01" y="111.97" width="2.35" height="5.40" fill="#c1c1c1"/>
<rect x="338.70" y="111.97" width="2.35" height="5.40" fill="#c1c1c1"/>
<rect x="342.40" y="111.97" width="2.35" height="5.40" fill="#c1c1c1"/>
<rect x="346.09" y="111.97" width="2.35" height="5.40" fill="#c1c1c1"/>
<rect x="349.79" y="111.97" width="2.35" height="5.40" fill="#c1c1c1"/>
<rect x="353.49" y="111.97" width="2.35" height="5.40" fill="#c1c1c1"/>
<rect x="357.18" y="111.97" width="2.35" height="5.40" fill="#c1c1c1"/>
<rect x="360.88" y="111.97" width="2.35" height="5.40" fill="#c1c1c1"/>
<rect x="364.57" y="111.97" width="2.35" height="5.40" fill="#c1c1c1"/>
<rect x="368.26" y="111.97" width="2.35" height="5.40" fill="#c1c1c1"/>
<rect x="371.96" y="111.97" width="2.35" height="5.40" fill="#c1c1c1"/>
<rect x="375.65" y="111.97" width="2.35" height="5.40" fill="#c1c1c1"/>
<rect x="379.35" y="111.97" width="2.35" height="5.40" fill="#c1c1c1"/>
<rect x="383.05" y="111.97" width="2.35" height="5.40" fill="#c1c1c1"/>
<rect x="386.74" y="111.97" width="2.35" height="5.40" fill="#c1c1c1"/>
<rect x="390.44" y="111.97" width="2.35" height="5.40" fill="#c1c1c1"/>
<rect x="394.13" y="111.97" width="2.35" height="5.40" fill="#561a6f"/>
<rect x="397.82" y="111.97" width="2.35" height="5.40" fill="#c1c1c1"/>
<rect x="401.52" y="111.97" width="2.35" height="5.40" fill="#c1c1c1"/>
</g>
<text x="43.00" y="116.57" font-size="5.30" text-anchor="end" fill="#1c1c1c" font-style="italic">TCF3</text>
<rect x="407.50" y="112.02" width="7.91" height="4.5" fill="#4a5363"/>
<g>
<rect x="46.80" y="119.14" width="2.35" height="5.40" fill="#c1c1c1"/>
<rect x="50.49" y="119.14" width="2.35" height="5.40" fill="#c1c1c1"/>
<rect x="54.19" y="119.14" width="2.35" height="5.40" fill="#c1c1c1"/>
<rect x="57.88" y="119.14" width="2.35" height="5.40" fill="#c1c1c1"/>
<rect x="61.58" y="119.14" width="2.35" height="5.40" fill="#c1c1c1"/>
<rect x="65.27" y="119.14" width="2.35" height="5.40" fill="#c1c1c1"/>
<rect x="68.97" y="119.14" width="2.35" height="5.40" fill="#c1c1c1"/>
<rect x="72.66" y="119.14" width="2.35" height="5.40" fill="#c1c1c1"/>
<rect x="76.36" y="119.14" width="2.35" height="5.40" fill="#c1c1c1"/>
<rect x="80.05" y="119.14" width="2.35" height="5.40" fill="#c1c1c1"/>
<rect x="83.75" y="119.14" width="2.35" height="5.40" fill="#c1c1c1"/>
<rect x="87.44" y="119.14" width="2.35" height="5.40" fill="#c1c1c1"/>
<rect x="91.14" y="119.14" width="2.35" height="5.40" fill="#c1c1c1"/>
<rect x="94.83" y="119.14" width="2.35" height="5.40" fill="#c1c1c1"/>
<rect x="98.53" y="119.14" width="2.35" height="5.40" fill="#c1c1c1"/>
<rect x="102.22" y="119.14" width="2.35" height="5.40" fill="#c1c1c1"/>
<rect x="105.92" y="119.14" width="2.35" height="5.40" fill="#c1c1c1"/>
<rect x="109.61" y="119.14" width="2.35" height="5.40" fill="#c1c1c1"/>
<rect x="113.31" y="119.14" width="2.35" height="5.40" fill="#c1c1c1"/>
<rect x="117.00" y="119.14" width="2.35" height="5.40" fill="#c1c1c1"/>
<rect x="120.70" y="119.14" width="2.35" height="5.40" fill="#c1c1c1"/>
<rect x="124.39" y="119.14" width="2.35" height="5.40" fill="#c1c1c1"/>
<rect x="128.09" y="119.14" width="2.35" height="5.40" fill="#c1c1c1"/>
<rect x="131.78" y="119.14" width="2.35" height="5.40" fill="#c1c1c1"/>
<rect x="135.48" y="119.14" width="2.35" height="5.40" fill="#c1c1c1"/>
<rect x="139.18" y="119.14" width="2.35" height="5.40" fill="#c1c1c1"/>
<rect x="142.87" y="119.14" width="2.35" height="5.40" fill="#c1c1c1"/>
<rect x="146.56" y="119.14" width="2.35" height="5.40" fill="#c1c1c1"/>
<rect x="150.26" y="119.14" width="2.35" height="5.40" fill="#c1c1c1"/>
<rect x="153.95" y="119.14" width="2.35" height="5.40" fill="#c1c1c1"/>
<rect x="157.65" y="119.14" width="2.35" height="5.40" fill="#c1c1c1"/>
<rect x="161.34" y="119.14" width="2.35" height="5.40" fill="#c1c1c1"/>
<rect x="165.04" y="119.14" width="2.35" height="5.40" fill="#c1c1c1"/>
<rect x="168.73" y="119.14" width="2.35" height="5.40" fill="#c1c1c1"/>
<rect x="172.43" y="119.14" width="2.35" height="5.40" fill="#c1c1c1"/>
<rect x="176.12" y="119.14" width="2.35" height="5.40" fill="#c1c1c1"/>
<rect x="179.82" y="119.14" width="2.35" height="5.40" fill="#c1c1c1"/>
<rect x="183.51" y="119.14" width="2.35" height="5.40" fill="#c1c1c1"/>
<rect x="187.21" y="119.14" width="2.35" height="5.40" fill="#c1c1c1"/>
<rect x="190.90" y="119.14" width="2.35" height="5.40" fill="#c1c1c1"/>
<rect x="194.60" y="119.14" width="2.35" height="5.40" fill="#c1c1c1"/>
<rect x="198.30" y="119.14" width="2.35" height="5.40" fill="#c1c1c1"/>
<rect x="201.99" y="119.14" width="2.35" height="5.40" fill="#c1c1c1"/>
<rect x="205.69" y="119.14" width="2.35" height="5.40" fill="#c1c1c1"/>
<rect x="209.38" y="119.14" width="2.35" height="5.40" fill="#c1c1c1"/>
<rect x="213.07" y="119.14" width="2.35" height="5.40" fill="#c1c1c1"/>
<rect x="216.77" y="119.14" width="2.35" height="5.40" fill="#c1c1c1"/>
<rect x="220.46" y="119.14" width="2.35" height="5.40" fill="#c1c1c1"/>
<rect x="224.16" y="119.14" width="2.35" height="5.40" fill="#c1c1c1"/>
<rect x="227.85" y="119.14" width="2.35" height="5.40" fill="#c1c1c1"/>
<rect x="231.55" y="119.14" width="2.35" height="5.40" fill="#c1c1c1"/>
<rect x="235.25" y="119.14" width="2.35" height="5.40" fill="#c1c1c1"/>
<rect x="238.94" y="119.14" width="2.35" height="5.40" fill="#c1c1c1"/>
<rect x="242.63" y="119.14" width="2.35" height="5.40" fill="#c1c1c1"/>
<rect x="246.33" y="119.14" width="2.35" height="5.40" fill="#c1c1c1"/>
<rect x="250.02" y="119.14" width="2.35" height="5.40" fill="#c1c1c1"/>
<rect x="253.72" y="119.14" width="2.35" height="5.40" fill="#c1c1c1"/>
<rect x="257.41" y="119.14" width="2.35" height="5.40" fill="#c1c1c1"/>
<rect x="261.11" y="119.14" width="2.35" height="5.40" fill="#c1c1c1"/>
<rect x="264.81" y="119.14" width="2.35" height="5.40" fill="#c1c1c1"/>
<rect x="268.50" y="119.14" width="2.35" height="5.40" fill="#c1c1c1"/>
<rect x="272.19" y="119.14" width="2.35" height="5.40" fill="#c1c1c1"/>
<rect x="275.89" y="119.14" width="2.35" height="5.40" fill="#c1c1c1"/>
<rect x="279.58" y="119.14" width="2.35" height="5.40" fill="#c1c1c1"/>
<rect x="283.28" y="119.14" width="2.35" height="5.40" fill="#c1c1c1"/>
<rect x="286.97" y="119.14" width="2.35" height="5.40" fill="#c1c1c1"/>
<rect x="290.67" y="119.14" width="2.35" height="5.40" fill="#c1c1c1"/>
<rect x="294.37" y="119.14" width="2.35" height="5.40" fill="#c1c1c1"/>
<rect x="298.06" y="119.14" width="2.35" height="5.40" fill="#c1c1c1"/>
<rect x="301.75" y="119.14" width="2.35" height="5.40" fill="#c1c1c1"/>
<rect x="305.45" y="119.14" width="2.35" height="5.40" fill="#c1c1c1"/>
<rect x="309.14" y="119.14" width="2.35" height="5.40" fill="#c1c1c1"/>
<rect x="312.84" y="119.14" width="2.35" height="5.40" fill="#c1c1c1"/>
<rect x="316.54" y="119.14" width="2.35" height="5.40" fill="#c1c1c1"/>
<rect x="320.23" y="119.14" width="2.35" height="5.40" fill="#c1c1c1"/>
<rect x="323.93" y="119.14" width="2.35" height="5.40" fill="#c1c1c1"/>
<rect x="327.62" y="119.14" width="2.35" height="5.40" fill="#c1c1c1"/>
<rect x="331.31" y="119.14" width="2.35" height="5.40" fill="#c1c1c1"/>
<rect x="335.01" y="119.14" width="2.35" height="5.40" fill="#c1c1c1"/>
<rect x="338.70" y="119.14" width="2.35" height="5.40" fill="#c1c1c1"/>
<rect x="342.40" y="119.14" width="2.35" height="5.40" fill="#c1c1c1"/>
<rect x="346.09" y="119.14" width="2.35" height="5.40" fill="#c1c1c1"/>
<rect x="349.79" y="119.14" width="2.35" height="5.40" fill="#c1c1c1"/>
<rect x="353.49" y="119.14" width="2.35" height="5.40" fill="#c1c1c1"/>
<rect x="357.18" y="119.14" width="2.35" height="5.40" fill="#c1c1c1"/>
<rect x="360.88" y="119.14" width="2.35" height="5.40" fill="#c1c1c1"/>
<rect x="364.57" y="119.14" width="2.35" height="5.40" fill="#c1c1c1"/>
<rect x="368.26" y="119.14" width="2.35" height="5.40" fill="#c1c1c1"/>
<rect x="371.96" y="119.14" width="2.35" height="5.40" fill="#c1c1c1"/>
<rect x="375.65" y="119.14" width="2.35" height="5.40" fill="#c1c1c1"/>
<rect x="379.35" y="119.14" width="2.35" height="5.40" fill="#c1c1c1"/>
<rect x="383.05" y="119.14" width="2.35" height="5.40" fill="#2fa739"/>
<rect x="386.74" y="119.14" width="2.35" height="5.40" fill="#c1c1c1"/>
<rect x="390.44" y="119.14" width="2.35" height="5.40" fill="#c1c1c1"/>
<rect x="394.13" y="119.14" width="2.35" height="5.40" fill="#c1c1c1"/>
<rect x="397.82" y="119.14" width="2.35" height="5.40" fill="#c1c1c1"/>
<rect x="401.52" y="119.14" width="2.35" height="5.40" fill="#c1c1c1"/>
</g>
<text x="43.00" y="123.74" font-size="5.30" text-anchor="end" fill="#1c1c1c" font-style="italic">ERG</text>
<rect x="407.50" y="119.19" width="2.64" height="4.5" fill="#4a5363"/>
<g>
<rect x="46.80" y="133.47" width="2.35" height="5.40" fill="#c1c1c1"/>
<rect x="50.49" y="133.47" width="2.35" height="5.40" fill="#c1c1c1"/>
<rect x="54.19" y="133.47" width="2.35" height="5.40" fill="#c1c1c1"/>
<rect x="57.88" y="133.47" width="2.35" height="5.40" fill="#b80c2e"/>
<rect x="61.58" y="133.47" width="2.35" height="5.40" fill="#c1c1c1"/>
<rect x="65.27" y="133.47" width="2.35" height="5.40" fill="#c1c1c1"/>
<rect x="68.97" y="133.47" width="2.35" height="5.40" fill="#c1c1c1"/>
<rect x="72.66" y="133.47" width="2.35" height="5.40" fill="#c1c1c1"/>
<rect x="76.36" y="133.47" width="2.35" height="5.40" fill="#c1c1c1"/>
<rect x="80.05" y="133.47" width="2.35" height="5.40" fill="#c1c1c1"/>
<rect x="83.75" y="133.47" width="2.35" height="5.40" fill="#c1c1c1"/>
<rect x="87.44" y="133.47" width="2.35" height="5.40" fill="#c1c1c1"/>
<rect x="91.14" y="133.47" width="2.35" height="5.40" fill="#c1c1c1"/>
<rect x="94.83" y="133.47" width="2.35" height="5.40" fill="#c1c1c1"/>
<rect x="98.53" y="133.47" width="2.35" height="5.40" fill="#c1c1c1"/>
<rect x="102.22" y="133.47" width="2.35" height="5.40" fill="#c1c1c1"/>
<rect x="105.92" y="133.47" width="2.35" height="5.40" fill="#c1c1c1"/>
<rect x="109.61" y="133.47" width="2.35" height="5.40" fill="#c1c1c1"/>
<rect x="113.31" y="133.47" width="2.35" height="5.40" fill="#c1c1c1"/>
<rect x="117.00" y="133.47" width="2.35" height="5.40" fill="#c1c1c1"/>
<rect x="120.70" y="133.47" width="2.35" height="5.40" fill="#c1c1c1"/>
<rect x="124.39" y="133.47" width="2.35" height="5.40" fill="#c1c1c1"/>
<rect x="128.09" y="133.47" width="2.35" height="5.40" fill="#c1c1c1"/>
<rect x="131.78" y="133.47" width="2.35" height="5.40" fill="#c1c1c1"/>
<rect x="135.48" y="133.47" width="2.35" height="5.40" fill="#c1c1c1"/>
<rect x="139.18" y="133.47" width="2.35" height="5.40" fill="#c1c1c1"/>
<rect x="142.87" y="133.47" width="2.35" height="5.40" fill="#c1c1c1"/>
<rect x="146.56" y="133.47" width="2.35" height="5.40" fill="#c1c1c1"/>
<rect x="150.26" y="133.47" width="2.35" height="5.40" fill="#c1c1c1"/>
<rect x="153.95" y="133.47" width="2.35" height="5.40" fill="#c1c1c1"/>
<rect x="157.65" y="133.47" width="2.35" height="5.40" fill="#c1c1c1"/>
<rect x="161.34" y="133.47" width="2.35" height="5.40" fill="#c1c1c1"/>
<rect x="165.04" y="133.47" width="2.35" height="5.40" fill="#c1c1c1"/>
<rect x="168.73" y="133.47" width="2.35" height="5.40" fill="#c1c1c1"/>
<rect x="172.43" y="133.47" width="2.35" height="5.40" fill="#c1c1c1"/>
<rect x="176.12" y="133.47" width="2.35" height="5.40" fill="#c1c1c1"/>
<rect x="179.82" y="133.47" width="2.35" height="5.40" fill="#c1c1c1"/>
<rect x="183.51" y="133.47" width="2.35" height="5.40" fill="#c1c1c1"/>
<rect x="187.21" y="133.47" width="2.35" height="5.40" fill="#c1c1c1"/>
<rect x="190.90" y="133.47" width="2.35" height="5.40" fill="#c1c1c1"/>
<rect x="194.60" y="133.47" width="2.35" height="5.40" fill="#c1c1c1"/>
<rect x="198.30" y="133.47" width="2.35" height="5.40" fill="#c1c1c1"/>
<rect x="201.99" y="133.47" width="2.35" height="5.40" fill="#c1c1c1"/>
<rect x="205.69" y="133.47" width="2.35" height="5.40" fill="#c1c1c1"/>
<rect x="209.38" y="133.47" width="2.35" height="5.40" fill="#c1c1c1"/>
<rect x="213.07" y="133.47" width="2.35" height="5.40" fill="#c1c1c1"/>
<rect x="216.77" y="133.47" width="2.35" height="5.40" fill="#c1c1c1"/>
<rect x="220.46" y="133.47" width="2.35" height="5.40" fill="#c1c1c1"/>
<rect x="224.16" y="133.47" width="2.35" height="5.40" fill="#c1c1c1"/>
<rect x="227.85" y="133.47" width="2.35" height="5.40" fill="#c1c1c1"/>
<rect x="231.55" y="133.47" width="2.35" height="5.40" fill="#c1c1c1"/>
<rect x="235.25" y="133.47" width="2.35" height="5.40" fill="#c1c1c1"/>
<rect x="238.94" y="133.47" width="2.35" height="5.40" fill="#c1c1c1"/>
<rect x="242.63" y="133.47" width="2.35" height="5.40" fill="#c1c1c1"/>
<rect x="246.33" y="133.47" width="2.35" height="5.40" fill="#c1c1c1"/>
<rect x="250.02" y="133.47" width="2.35" height="5.40" fill="#c1c1c1"/>
<rect x="253.72" y="133.47" width="2.35" height="5.40" fill="#c1c1c1"/>
<rect x="257.41" y="133.47" width="2.35" height="5.40" fill="#c1c1c1"/>
<rect x="261.11" y="133.47" width="2.35" height="5.40" fill="#c1c1c1"/>
<rect x="264.81" y="133.47" width="2.35" height="5.40" fill="#c1c1c1"/>
<rect x="268.50" y="133.47" width="2.35" height="5.40" fill="#c1c1c1"/>
<rect x="272.19" y="133.47" width="2.35" height="5.40" fill="#c1c1c1"/>
<rect x="275.89" y="133.47" width="2.35" height="5.40" fill="#c1c1c1"/>
<rect x="279.58" y="133.47" width="2.35" height="5.40" fill="#c1c1c1"/>
<rect x="283.28" y="133.47" width="2.35" height="5.40" fill="#c1c1c1"/>
<rect x="286.97" y="133.47" width="2.35" height="5.40" fill="#c1c1c1"/>
<rect x="290.67" y="133.47" width="2.35" height="5.40" fill="#c1c1c1"/>
<rect x="294.37" y="133.47" width="2.35" height="5.40" fill="#c1c1c1"/>
<rect x="298.06" y="133.47" width="2.35" height="5.40" fill="#c1c1c1"/>
<rect x="301.75" y="133.47" width="2.35" height="5.40" fill="#c1c1c1"/>
<rect x="305.45" y="133.47" width="2.35" height="5.40" fill="#c1c1c1"/>
<rect x="309.14" y="133.47" width="2.35" height="5.40" fill="#c1c1c1"/>
<rect x="312.84" y="133.47" width="2.35" height="5.40" fill="#c1c1c1"/>
<rect x="316.54" y="133.47" width="2.35" height="5.40" fill="#c1c1c1"/>
<rect x="320.23" y="133.47" width="2.35" height="5.40" fill="#c1c1c1"/>
<rect x="323.93" y="133.47" width="2.35" height="5.40" fill="#c1c1c1"/>
<rect x="327.62" y="133.47" width="2.35" height="5.40" fill="#c1c1c1"/>
<rect x="331.31" y="133.47" width="2.35" height="5.40" fill="#c1c1c1"/>
<rect x="335.01" y="133.47" width="2.35" height="5.40" fill="#c1c1c1"/>
<rect x="338.70" y="133.47" width="2.35" height="5.40" fill="#c1c1c1"/>
<rect x="342.40" y="133.47" width="2.35" height="5.40" fill="#c1c1c1"/>
<rect x="346.09" y="133.47" width="2.35" height="5.40" fill="#c1c1c1"/>
<rect x="349.79" y="133.47" width="2.35" height="5.40" fill="#c1c1c1"/>
<rect x="353.49" y="133.47" width="2.35" height="5.40" fill="#c1c1c1"/>
<rect x="357.18" y="133.47" width="2.35" height="5.40" fill="#c1c1c1"/>
<rect x="360.88" y="133.47" width="2.35" height="5.40" fill="#c1c1c1"/>
<rect x="364.57" y="133.47" width="2.35" height="5.40" fill="#c1c1c1"/>
<rect x="368.26" y="133.47" width="2.35" height="5.40" fill="#c1c1c1"/>
<rect x="371.96" y="133.47" width="2.35" height="5.40" fill="#c1c1c1"/>
<rect x="375.65" y="133.47" width="2.35" height="5.40" fill="#c1c1c1"/>
<rect x="379.35" y="133.47" width="2.35" height="5.40" fill="#c1c1c1"/>
<rect x="383.05" y="133.47" width="2.35" height="5.40" fill="#c1c1c1"/>
<rect x="386.74" y="133.47" width="2.35" height="5.40" fill="#c1c1c1"/>
<rect x="390.44" y="133.47" width="2.35" height="5.40" fill="#c1c1c1"/>
<rect x="394.13" y="133.47" width="2.35" height="5.40" fill="#c1c1c1"/>
<rect x="397.82" y="133.47" width="2.35" height="5.40" fill="#c1c1c1"/>
<rect x="401.52" y="133.47" width="2.35" height="5.40" fill="#c1c1c1"/>
</g>
<text x="43.00" y="138.07" font-size="5.30" text-anchor="end" fill="#1c1c1c" font-style="italic">ATRX</text>
<rect x="407.50" y="133.52" width="2.64" height="4.5" fill="#4a5363"/>
<g>
<rect x="46.80" y="140.64" width="2.35" height="5.40" fill="#c1c1c1"/>
<rect x="50.49" y="140.64" width="2.35" height="5.40" fill="#c1c1c1"/>
<rect x="54.19" y="140.64" width="2.35" height="5.40" fill="#c1c1c1"/>
<rect x="57.88" y="140.64" width="2.35" height="5.40" fill="#c1c1c1"/>
<rect x="61.58" y="140.64" width="2.35" height="5.40" fill="#c1c1c1"/>
<rect x="65.27" y="140.64" width="2.35" height="5.40" fill="#c1c1c1"/>
<rect x="68.97" y="140.64" width="2.35" height="5.40" fill="#c1c1c1"/>
<rect x="72.66" y="140.64" width="2.35" height="5.40" fill="#c1c1c1"/>
<rect x="76.36" y="140.64" width="2.35" height="5.40" fill="#c1c1c1"/>
<rect x="80.05" y="140.64" width="2.35" height="5.40" fill="#c1c1c1"/>
<rect x="83.75" y="140.64" width="2.35" height="5.40" fill="#c1c1c1"/>
<rect x="87.44" y="140.64" width="2.35" height="5.40" fill="#c1c1c1"/>
<rect x="91.14" y="140.64" width="2.35" height="5.40" fill="#c1c1c1"/>
<rect x="94.83" y="140.64" width="2.35" height="5.40" fill="#c1c1c1"/>
<rect x="98.53" y="140.64" width="2.35" height="5.40" fill="#c1c1c1"/>
<rect x="102.22" y="140.64" width="2.35" height="5.40" fill="#c1c1c1"/>
<rect x="105.92" y="140.64" width="2.35" height="5.40" fill="#c1c1c1"/>
<rect x="109.61" y="140.64" width="2.35" height="5.40" fill="#c1c1c1"/>
<rect x="113.31" y="140.64" width="2.35" height="5.40" fill="#c1c1c1"/>
<rect x="117.00" y="140.64" width="2.35" height="5.40" fill="#c1c1c1"/>
<rect x="120.70" y="140.64" width="2.35" height="5.40" fill="#c1c1c1"/>
<rect x="124.39" y="140.64" width="2.35" height="5.40" fill="#c1c1c1"/>
<rect x="128.09" y="140.64" width="2.35" height="5.40" fill="#c1c1c1"/>
<rect x="131.78" y="140.64" width="2.35" height="5.40" fill="#c1c1c1"/>
<rect x="135.48" y="140.64" width="2.35" height="5.40" fill="#c1c1c1"/>
<rect x="139.18" y="140.64" width="2.35" height="5.40" fill="#c1c1c1"/>
<rect x="142.87" y="140.64" width="2.35" height="5.40" fill="#c1c1c1"/>
<rect x="146.56" y="140.64" width="2.35" height="5.40" fill="#c1c1c1"/>
<rect x="150.26" y="140.64" width="2.35" height="5.40" fill="#c1c1c1"/>
<rect x="153.95" y="140.64" width="2.35" height="5.40" fill="#c1c1c1"/>
<rect x="157.65" y="140.64" width="2.35" height="5.40" fill="#c1c1c1"/>
<rect x="161.34" y="140.64" width="2.35" height="5.40" fill="#c1c1c1"/>
<rect x="165.04" y="140.64" width="2.35" height="5.40" fill="#c1c1c1"/>
<rect x="168.73" y="140.64" width="2.35" height="5.40" fill="#b80c2e"/>
<rect x="172.43" y="140.64" width="2.35" height="5.40" fill="#c1c1c1"/>
<rect x="176.12" y="140.64" width="2.35" height="5.40" fill="#c1c1c1"/>
<rect x="179.82" y="140.64" width="2.35" height="5.40" fill="#c1c1c1"/>
<rect x="183.51" y="140.64" width="2.35" height="5.40" fill="#c1c1c1"/>
<rect x="187.21" y="140.64" width="2.35" height="5.40" fill="#c1c1c1"/>
<rect x="190.90" y="140.64" width="2.35" height="5.40" fill="#c1c1c1"/>
<rect x="194.60" y="140.64" width="2.35" height="5.40" fill="#c1c1c1"/>
<rect x="198.30" y="140.64" width="2.35" height="5.40" fill="#c1c1c1"/>
<rect x="201.99" y="140.64" width="2.35" height="5.40" fill="#c1c1c1"/>
<rect x="205.69" y="140.64" width="2.35" height="5.40" fill="#c1c1c1"/>
<rect x="209.38" y="140.64" width="2.35" height="5.40" fill="#c1c1c1"/>
<rect x="213.07" y="140.64" width="2.35" height="5.40" fill="#c1c1c1"/>
<rect x="216.77" y="140.64" width="2.35" height="5.40" fill="#c1c1c1"/>
<rect x="220.46" y="140.64" width="2.35" height="5.40" fill="#c1c1c1"/>
<rect x="224.16" y="140.64" width="2.35" height="5.40" fill="#c1c1c1"/>
<rect x="227.85" y="140.64" width="2.35" height="5.40" fill="#c1c1c1"/>
<rect x="231.55" y="140.64" width="2.35" height="5.40" fill="#c1c1c1"/>
<rect x="235.25" y="140.64" width="2.35" height="5.40" fill="#c1c1c1"/>
<rect x="238.94" y="140.64" width="2.35" height="5.40" fill="#c1c1c1"/>
<rect x="242.63" y="140.64" width="2.35" height="5.40" fill="#c1c1c1"/>
<rect x="246.33" y="140.64" width="2.35" height="5.40" fill="#c1c1c1"/>
<rect x="250.02" y="140.64" width="2.35" height="5.40" fill="#c1c1c1"/>
<rect x="253.72" y="140.64" width="2.35" height="5.40" fill="#c1c1c1"/>
<rect x="257.41" y="140.64" width="2.35" height="5.40" fill="#c1c1c1"/>
<rect x="261.11" y="140.64" width="2.35" height="5.40" fill="#c1c1c1"/>
<rect x="264.81" y="140.64" width="2.35" height="5.40" fill="#c1c1c1"/>
<rect x="268.50" y="140.64" width="2.35" height="5.40" fill="#c1c1c1"/>
<rect x="272.19" y="140.64" width="2.35" height="5.40" fill="#c1c1c1"/>
<rect x="275.89" y="140.64" width="2.35" height="5.40" fill="#c1c1c1"/>
<rect x="279.58" y="140.64" width="2.35" height="5.40" fill="#c1c1c1"/>
<rect x="283.28" y="140.64" width="2.35" height="5.40" fill="#c1c1c1"/>
<rect x="286.97" y="140.64" width="2.35" height="5.40" fill="#c1c1c1"/>
<rect x="290.67" y="140.64" width="2.35" height="5.40" fill="#c1c1c1"/>
<rect x="294.37" y="140.64" width="2.35" height="5.40" fill="#c1c1c1"/>
<rect x="298.06" y="140.64" width="2.35" height="5.40" fill="#c1c1c1"/>
<rect x="301.75" y="140.64" width="2.35" height="5.40" fill="#c1c1c1"/>
<rect x="305.45" y="140.64" width="2.35" height="5.40" fill="#c1c1c1"/>
<rect x="309.14" y="140.64" width="2.35" height="5.40" fill="#c1c1c1"/>
<rect x="312.84" y="140.64" width="2.35" height="5.40" fill="#c1c1c1"/>
<rect x="316.54" y="140.64" width="2.35" height="5.40" fill="#c1c1c1"/>
<rect x="320.23" y="140.64" width="2.35" height="5.40" fill="#c1c1c1"/>
<rect x="323.93" y="140.64" width="2.35" height="5.40" fill="#c1c1c1"/>
<rect x="327.62" y="140.64" width="2.35" height="5.40" fill="#c1c1c1"/>
<rect x="331.31" y="140.64" width="2.35" height="5.40" fill="#c1c1c1"/>
<rect x="335.01" y="140.64" width="2.35" height="5.40" fill="#c1c1c1"/>
<rect x="338.70" y="140.64" width="2.35" height="5.40" fill="#c1c1c1"/>
<rect x="342.40" y="140.64" width="2.35" height="5.40" fill="#c1c1c1"/>
<rect x="346.09" y="140.64" width="2.35" height="5.40" fill="#c1c1c1"/>
<rect x="349.79" y="140.64" width="2.35" height="5.40" fill="#c1c1c1"/>
<rect x="353.49" y="140.64" width="2.35" height="5.40" fill="#c1c1c1"/>
<rect x="357.18" y="140.64" width="2.35" height="5.40" fill="#c1c1c1"/>
<rect x="360.88" y="140.64" width="2.35" height="5.40" fill="#c1c1c1"/>
<rect x="364.57" y="140.64" width="2.35" height="5.40" fill="#c1c1c1"/>
<rect x="368.26" y="140.64" width="2.35" height="5.40" fill="#c1c1c1"/>
<rect x="371.96" y="140.64" width="2.35" height="5.40" fill="#c1c1c1"/>
<rect x="375.65" y="140.64" width="2.35" height="5.40" fill="#c1c1c1"/>
<rect x="379.35" y="140.64" width="2.35" height="5.40" fill="#c1c1c1"/>
<rect x="383.05" y="140.64" width="2.35" height="5.40" fill="#c1c1c1"/>
<rect x="386.74" y="140.64" width="2.35" height="5.40" fill="#c1c1c1"/>
<rect x="390.44" y="140.64" width="2.35" height="5.40" fill="#c1c1c1"/>
<rect x="394.13" y="140.64" width="2.35" height="5.40" fill="#c1c1c1"/>
<rect x="397.82" y="140.64" width="2.35" height="5.40" fill="#c1c1c1"/>
<rect x="401.52" y="140.64" width="2.35" height="5.40" fill="#c1c1c1"/>
</g>
<text x="43.00" y="145.24" font-size="5.30" text-anchor="end" fill="#1c1c1c" font-style="italic">CREBBP</text>
<rect x="407.50" y="140.69" width="2.64" height="4.5" fill="#4a5363"/>
<g>
<rect x="46.80" y="147.81" width="2.35" height="5.40" fill="#c1c1c1"/>
<rect x="50.49" y="147.81" width="2.35" height="5.40" fill="#c1c1c1"/>
<rect x="54.19" y="147.81" width="2.35" height="5.40" fill="#c1c1c1"/>
<rect x="57.88" y="147.81" width="2.35" height="5.40" fill="#c1c1c1"/>
<rect x="61.58" y="147.81" width="2.35" height="5.40" fill="#c1c1c1"/>
<rect x="65.27" y="147.81" width="2.35" height="5.40" fill="#c1c1c1"/>
<rect x="68.97" y="147.81" width="2.35" height="5.40" fill="#c1c1c1"/>
<rect x="72.66" y="147.81" width="2.35" height="5.40" fill="#c1c1c1"/>
<rect x="76.36" y="147.81" width="2.35" height="5.40" fill="#c1c1c1"/>
<rect x="80.05" y="147.81" width="2.35" height="5.40" fill="#c1c1c1"/>
<rect x="83.75" y="147.81" width="2.35" height="5.40" fill="#c1c1c1"/>
<rect x="87.44" y="147.81" width="2.35" height="5.40" fill="#c1c1c1"/>
<rect x="91.14" y="147.81" width="2.35" height="5.40" fill="#c1c1c1"/>
<rect x="94.83" y="147.81" width="2.35" height="5.40" fill="#c1c1c1"/>
<rect x="98.53" y="147.81" width="2.35" height="5.40" fill="#c1c1c1"/>
<rect x="102.22" y="147.81" width="2.35" height="5.40" fill="#c1c1c1"/>
<rect x="105.92" y="147.81" width="2.35" height="5.40" fill="#c1c1c1"/>
<rect x="109.61" y="147.81" width="2.35" height="5.40" fill="#c1c1c1"/>
<rect x="113.31" y="147.81" width="2.35" height="5.40" fill="#c1c1c1"/>
<rect x="117.00" y="147.81" width="2.35" height="5.40" fill="#c1c1c1"/>
<rect x="120.70" y="147.81" width="2.35" height="5.40" fill="#c1c1c1"/>
<rect x="124.39" y="147.81" width="2.35" height="5.40" fill="#c1c1c1"/>
<rect x="128.09" y="147.81" width="2.35" height="5.40" fill="#c1c1c1"/>
<rect x="131.78" y="147.81" width="2.35" height="5.40" fill="#c1c1c1"/>
<rect x="135.48" y="147.81" width="2.35" height="5.40" fill="#c1c1c1"/>
<rect x="139.18" y="147.81" width="2.35" height="5.40" fill="#c1c1c1"/>
<rect x="142.87" y="147.81" width="2.35" height="5.40" fill="#c1c1c1"/>
<rect x="146.56" y="147.81" width="2.35" height="5.40" fill="#c1c1c1"/>
<rect x="150.26" y="147.81" width="2.35" height="5.40" fill="#c1c1c1"/>
<rect x="153.95" y="147.81" width="2.35" height="5.40" fill="#c1c1c1"/>
<rect x="157.65" y="147.81" width="2.35" height="5.40" fill="#c1c1c1"/>
<rect x="161.34" y="147.81" width="2.35" height="5.40" fill="#c1c1c1"/>
<rect x="165.04" y="147.81" width="2.35" height="5.40" fill="#c1c1c1"/>
<rect x="168.73" y="147.81" width="2.35" height="5.40" fill="#c1c1c1"/>
<rect x="172.43" y="147.81" width="2.35" height="5.40" fill="#c1c1c1"/>
<rect x="176.12" y="147.81" width="2.35" height="5.40" fill="#c1c1c1"/>
<rect x="179.82" y="147.81" width="2.35" height="5.40" fill="#c1c1c1"/>
<rect x="183.51" y="147.81" width="2.35" height="5.40" fill="#c1c1c1"/>
<rect x="187.21" y="147.81" width="2.35" height="5.40" fill="#c1c1c1"/>
<rect x="190.90" y="147.81" width="2.35" height="5.40" fill="#c1c1c1"/>
<rect x="194.60" y="147.81" width="2.35" height="5.40" fill="#c1c1c1"/>
<rect x="198.30" y="147.81" width="2.35" height="5.40" fill="#c1c1c1"/>
<rect x="201.99" y="147.81" width="2.35" height="5.40" fill="#c1c1c1"/>
<rect x="205.69" y="147.81" width="2.35" height="5.40" fill="#c1c1c1"/>
<rect x="209.38" y="147.81" width="2.35" height="5.40" fill="#c1c1c1"/>
<rect x="213.07" y="147.81" width="2.35" height="5.40" fill="#c1c1c1"/>
<rect x="216.77" y="147.81" width="2.35" height="5.40" fill="#c1c1c1"/>
<rect x="220.46" y="147.81" width="2.35" height="5.40" fill="#c1c1c1"/>
<rect x="224.16" y="147.81" width="2.35" height="5.40" fill="#c1c1c1"/>
<rect x="227.85" y="147.81" width="2.35" height="5.40" fill="#c1c1c1"/>
<rect x="231.55" y="147.81" width="2.35" height="5.40" fill="#c1c1c1"/>
<rect x="235.25" y="147.81" width="2.35" height="5.40" fill="#c1c1c1"/>
<rect x="238.94" y="147.81" width="2.35" height="5.40" fill="#c1c1c1"/>
<rect x="242.63" y="147.81" width="2.35" height="5.40" fill="#c1c1c1"/>
<rect x="246.33" y="147.81" width="2.35" height="5.40" fill="#c1c1c1"/>
<rect x="250.02" y="147.81" width="2.35" height="5.40" fill="#c1c1c1"/>
<rect x="253.72" y="147.81" width="2.35" height="5.40" fill="#c1c1c1"/>
<rect x="257.41" y="147.81" width="2.35" height="5.40" fill="#c1c1c1"/>
<rect x="261.11" y="147.81" width="2.35" height="5.40" fill="#c1c1c1"/>
<rect x="264.81" y="147.81" width="2.35" height="5.40" fill="#c1c1c1"/>
<rect x="268.50" y="147.81" width="2.35" height="5.40" fill="#c1c1c1"/>
<rect x="272.19" y="147.81" width="2.35" height="5.40" fill="#c1c1c1"/>
<rect x="275.89" y="147.81" width="2.35" height="5.40" fill="#c1c1c1"/>
<rect x="279.58" y="147.81" width="2.35" height="5.40" fill="#c1c1c1"/>
<rect x="283.28" y="147.81" width="2.35" height="5.40" fill="#c1c1c1"/>
<rect x="286.97" y="147.81" width="2.35" height="5.40" fill="#c1c1c1"/>
<rect x="290.67" y="147.81" width="2.35" height="5.40" fill="#c1c1c1"/>
<rect x="294.37" y="147.81" width="2.35" height="5.40" fill="#c1c1c1"/>
<rect x="298.06" y="147.81" width="2.35" height="5.40" fill="#2fa739"/>
<rect x="301.75" y="147.81" width="2.35" height="5.40" fill="#c1c1c1"/>
<rect x="305.45" y="147.81" width="2.35" height="5.40" fill="#c1c1c1"/>
<rect x="309.14" y="147.81" width="2.35" height="5.40" fill="#c1c1c1"/>
<rect x="312.84" y="147.81" width="2.35" height="5.40" fill="#c1c1c1"/>
<rect x="316.54" y="147.81" width="2.35" height="5.40" fill="#c1c1c1"/>
<rect x="320.23" y="147.81" width="2.35" height="5.40" fill="#c1c1c1"/>
<rect x="323.93" y="147.81" width="2.35" height="5.40" fill="#c1c1c1"/>
<rect x="327.62" y="147.81" width="2.35" height="5.40" fill="#c1c1c1"/>
<rect x="331.31" y="147.81" width="2.35" height="5.40" fill="#c1c1c1"/>
<rect x="335.01" y="147.81" width="2.35" height="5.40" fill="#c1c1c1"/>
<rect x="338.70" y="147.81" width="2.35" height="5.40" fill="#c1c1c1"/>
<rect x="342.40" y="147.81" width="2.35" height="5.40" fill="#c1c1c1"/>
<rect x="346.09" y="147.81" width="2.35" height="5.40" fill="#c1c1c1"/>
<rect x="349.79" y="147.81" width="2.35" height="5.40" fill="#c1c1c1"/>
<rect x="353.49" y="147.81" width="2.35" height="5.40" fill="#c1c1c1"/>
<rect x="357.18" y="147.81" width="2.35" height="5.40" fill="#c1c1c1"/>
<rect x="360.88" y="147.81" width="2.35" height="5.40" fill="#c1c1c1"/>
<rect x="364.57" y="147.81" width="2.35" height="5.40" fill="#c1c1c1"/>
<rect x="368.26" y="147.81" width="2.35" height="5.40" fill="#c1c1c1"/>
<rect x="371.96" y="147.81" width="2.35" height="5.40" fill="#c1c1c1"/>
<rect x="375.65" y="147.81" width="2.35" height="5.40" fill="#c1c1c1"/>
<rect x="379.35" y="147.81" width="2.35" height="5.40" fill="#c1c1c1"/>
<rect x="383.05" y="147.81" width="2.35" height="5.40" fill="#c1c1c1"/>
<rect x="386.74" y="147.81" width="2.35" height="5.40" fill="#c1c1c1"/>
<rect x="390.44" y="147.81" width="2.35" height="5.40" fill="#c1c1c1"/>
<rect x="394.13" y="147.81" width="2.35" height="5.40" fill="#c1c1c1"/>
<rect x="397.82" y="147.81" width="2.35" height="5.40" fill="#c1c1c1"/>
<rect x="401.52" y="147.81" width="2.35" height="5.40" fill="#c1c1c1"/>
</g>
<text x="43.00" y="152.41" font-size="5.30" text-anchor="end" fill="#1c1c1c" font-style="italic">DNMT3A</text>
<rect x="407.50" y="147.86" width="2.64" height="4.5" fill="#4a5363"/>
<g>
<rect x="46.80" y="154.97" width="2.35" height="5.40" fill="#c1c1c1"/>
<rect x="50.49" y="154.97" width="2.35" height="5.40" fill="#c1c1c1"/>
<rect x="54.19" y="154.97" width="2.35" height="5.40" fill="#c1c1c1"/>
<rect x="57.88" y="154.97" width="2.35" height="5.40" fill="#c1c1c1"/>
<rect x="61.58" y="154.97" width="2.35" height="5.40" fill="#c1c1c1"/>
<rect x="65.27" y="154.97" width="2.35" height="5.40" fill="#c1c1c1"/>
<rect x="68.97" y="154.97" width="2.35" height="5.40" fill="#c1c1c1"/>
<rect x="72.66" y="154.97" width="2.35" height="5.40" fill="#f6c416"/>
<rect x="76.36" y="154.97" width="2.35" height="5.40" fill="#c1c1c1"/>
<rect x="80.05" y="154.97" width="2.35" height="5.40" fill="#c1c1c1"/>
<rect x="83.75" y="154.97" width="2.35" height="5.40" fill="#c1c1c1"/>
<rect x="87.44" y="154.97" width="2.35" height="5.40" fill="#c1c1c1"/>
<rect x="91.14" y="154.97" width="2.35" height="5.40" fill="#c1c1c1"/>
<rect x="94.83" y="154.97" width="2.35" height="5.40" fill="#c1c1c1"/>
<rect x="98.53" y="154.97" width="2.35" height="5.40" fill="#c1c1c1"/>
<rect x="102.22" y="154.97" width="2.35" height="5.40" fill="#c1c1c1"/>
<rect x="105.92" y="154.97" width="2.35" height="5.40" fill="#c1c1c1"/>
<rect x="109.61" y="154.97" width="2.35" height="5.40" fill="#c1c1c1"/>
<rect x="113.31" y="154.97" width="2.35" height="5.40" fill="#c1c1c1"/>
<rect x="117.00" y="154.97" width="2.35" height="5.40" fill="#c1c1c1"/>
<rect x="120.70" y="154.97" width="2.35" height="5.40" fill="#c1c1c1"/>
<rect x="124.39" y="154.97" width="2.35" height="5.40" fill="#c1c1c1"/>
<rect x="128.09" y="154.97" width="2.35" height="5.40" fill="#c1c1c1"/>
<rect x="131.78" y="154.97" width="2.35" height="5.40" fill="#c1c1c1"/>
<rect x="135.48" y="154.97" width="2.35" height="5.40" fill="#c1c1c1"/>
<rect x="139.18" y="154.97" width="2.35" height="5.40" fill="#c1c1c1"/>
<rect x="142.87" y="154.97" width="2.35" height="5.40" fill="#c1c1c1"/>
<rect x="146.56" y="154.97" width="2.35" height="5.40" fill="#c1c1c1"/>
<rect x="150.26" y="154.97" width="2.35" height="5.40" fill="#c1c1c1"/>
<rect x="153.95" y="154.97" width="2.35" height="5.40" fill="#c1c1c1"/>
<rect x="157.65" y="154.97" width="2.35" height="5.40" fill="#c1c1c1"/>
<rect x="161.34" y="154.97" width="2.35" height="5.40" fill="#c1c1c1"/>
<rect x="165.04" y="154.97" width="2.35" height="5.40" fill="#c1c1c1"/>
<rect x="168.73" y="154.97" width="2.35" height="5.40" fill="#c1c1c1"/>
<rect x="172.43" y="154.97" width="2.35" height="5.40" fill="#c1c1c1"/>
<rect x="176.12" y="154.97" width="2.35" height="5.40" fill="#c1c1c1"/>
<rect x="179.82" y="154.97" width="2.35" height="5.40" fill="#c1c1c1"/>
<rect x="183.51" y="154.97" width="2.35" height="5.40" fill="#c1c1c1"/>
<rect x="187.21" y="154.97" width="2.35" height="5.40" fill="#c1c1c1"/>
<rect x="190.90" y="154.97" width="2.35" height="5.40" fill="#c1c1c1"/>
<rect x="194.60" y="154.97" width="2.35" height="5.40" fill="#c1c1c1"/>
<rect x="198.30" y="154.97" width="2.35" height="5.40" fill="#c1c1c1"/>
<rect x="201.99" y="154.97" width="2.35" height="5.40" fill="#c1c1c1"/>
<rect x="205.69" y="154.97" width="2.35" height="5.40" fill="#c1c1c1"/>
<rect x="209.38" y="154.97" width="2.35" height="5.40" fill="#c1c1c1"/>
<rect x="213.07" y="154.97" width="2.35" height="5.40" fill="#c1c1c1"/>
<rect x="216.77" y="154.97" width="2.35" height="5.40" fill="#c1c1c1"/>
<rect x="220.46" y="154.97" width="2.35" height="5.40" fill="#c1c1c1"/>
<rect x="224.16" y="154.97" width="2.35" height="5.40" fill="#c1c1c1"/>
<rect x="227.85" y="154.97" width="2.35" height="5.40" fill="#c1c1c1"/>
<rect x="231.55" y="154.97" width="2.35" height="5.40" fill="#c1c1c1"/>
<rect x="235.25" y="154.97" width="2.35" height="5.40" fill="#c1c1c1"/>
<rect x="238.94" y="154.97" width="2.35" height="5.40" fill="#c1c1c1"/>
<rect x="242.63" y="154.97" width="2.35" height="5.40" fill="#c1c1c1"/>
<rect x="246.33" y="154.97" width="2.35" height="5.40" fill="#c1c1c1"/>
<rect x="250.02" y="154.97" width="2.35" height="5.40" fill="#c1c1c1"/>
<rect x="253.72" y="154.97" width="2.35" height="5.40" fill="#c1c1c1"/>
<rect x="257.41" y="154.97" width="2.35" height="5.40" fill="#c1c1c1"/>
<rect x="261.11" y="154.97" width="2.35" height="5.40" fill="#c1c1c1"/>
<rect x="264.81" y="154.97" width="2.35" height="5.40" fill="#c1c1c1"/>
<rect x="268.50" y="154.97" width="2.35" height="5.40" fill="#c1c1c1"/>
<rect x="272.19" y="154.97" width="2.35" height="5.40" fill="#c1c1c1"/>
<rect x="275.89" y="154.97" width="2.35" height="5.40" fill="#c1c1c1"/>
<rect x="279.58" y="154.97" width="2.35" height="5.40" fill="#c1c1c1"/>
<rect x="283.28" y="154.97" width="2.35" height="5.40" fill="#561a6f"/>
<rect x="286.97" y="154.97" width="2.35" height="5.40" fill="#c1c1c1"/>
<rect x="290.67" y="154.97" width="2.35" height="5.40" fill="#c1c1c1"/>
<rect x="294.37" y="154.97" width="2.35" height="5.40" fill="#c1c1c1"/>
<rect x="298.06" y="154.97" width="2.35" height="5.40" fill="#c1c1c1"/>
<rect x="301.75" y="154.97" width="2.35" height="5.40" fill="#c1c1c1"/>
<rect x="305.45" y="154.97" width="2.35" height="5.40" fill="#c1c1c1"/>
<rect x="309.14" y="154.97" width="2.35" height="5.40" fill="#c1c1c1"/>
<rect x="312.84" y="154.97" width="2.35" height="5.40" fill="#c1c1c1"/>
<rect x="316.54" y="154.97" width="2.35" height="5.40" fill="#c1c1c1"/>
<rect x="320.23" y="154.97" width="2.35" height="5.40" fill="#c1c1c1"/>
<rect x="323.93" y="154.97" width="2.35" height="5.40" fill="#c1c1c1"/>
<rect x="327.62" y="154.97" width="2.35" height="5.40" fill="#c1c1c1"/>
<rect x="331.31" y="154.97" width="2.35" height="5.40" fill="#c1c1c1"/>
<rect x="335.01" y="154.97" width="2.35" height="5.40" fill="#c1c1c1"/>
<rect x="338.70" y="154.97" width="2.35" height="5.40" fill="#c1c1c1"/>
<rect x="342.40" y="154.97" width="2.35" height="5.40" fill="#c1c1c1"/>
<rect x="346.09" y="154.97" width="2.35" height="5.40" fill="#c1c1c1"/>
<rect x="349.79" y="154.97" width="2.35" height="5.40" fill="#c1c1c1"/>
<rect x="353.49" y="154.97" width="2.35" height="5.40" fill="#c1c1c1"/>
<rect x="357.18" y="154.97" width="2.35" height="5.40" fill="#c1c1c1"/>
<rect x="360.88" y="154.97" width="2.35" height="5.40" fill="#c1c1c1"/>
<rect x="364.57" y="154.97" width="2.35" height="5.40" fill="#c1c1c1"/>
<rect x="368.26" y="154.97" width="2.35" height="5.40" fill="#c1c1c1"/>
<rect x="371.96" y="154.97" width="2.35" height="5.40" fill="#c1c1c1"/>
<rect x="375.65" y="154.97" width="2.35" height="5.40" fill="#c1c1c1"/>
<rect x="379.35" y="154.97" width="2.35" height="5.40" fill="#c1c1c1"/>
<rect x="383.05" y="154.97" width="2.35" height="5.40" fill="#c1c1c1"/>
<rect x="386.74" y="154.97" width="2.35" height="5.40" fill="#c1c1c1"/>
<rect x="390.44" y="154.97" width="2.35" height="5.40" fill="#c1c1c1"/>
<rect x="394.13" y="154.97" width="2.35" height="5.40" fill="#c1c1c1"/>
<rect x="397.82" y="154.97" width="2.35" height="5.40" fill="#c1c1c1"/>
<rect x="401.52" y="154.97" width="2.35" height="5.40" fill="#c1c1c1"/>
</g>
<text x="43.00" y="159.57" font-size="5.30" text-anchor="end" fill="#1c1c1c" font-style="italic">EP300</text>
<rect x="407.50" y="155.02" width="5.27" height="4.5" fill="#4a5363"/>
<g>
<rect x="46.80" y="162.14" width="2.35" height="5.40" fill="#c1c1c1"/>
<rect x="50.49" y="162.14" width="2.35" height="5.40" fill="#c1c1c1"/>
<rect x="54.19" y="162.14" width="2.35" height="5.40" fill="#c1c1c1"/>
<rect x="57.88" y="162.14" width="2.35" height="5.40" fill="#c1c1c1"/>
<rect x="61.58" y="162.14" width="2.35" height="5.40" fill="#c1c1c1"/>
<rect x="65.27" y="162.14" width="2.35" height="5.40" fill="#c1c1c1"/>
<rect x="68.97" y="162.14" width="2.35" height="5.40" fill="#c1c1c1"/>
<rect x="72.66" y="162.14" width="2.35" height="5.40" fill="#c1c1c1"/>
<rect x="76.36" y="162.14" width="2.35" height="5.40" fill="#c1c1c1"/>
<rect x="80.05" y="162.14" width="2.35" height="5.40" fill="#c1c1c1"/>
<rect x="83.75" y="162.14" width="2.35" height="5.40" fill="#c1c1c1"/>
<rect x="87.44" y="162.14" width="2.35" height="5.40" fill="#c1c1c1"/>
<rect x="91.14" y="162.14" width="2.35" height="5.40" fill="#c1c1c1"/>
<rect x="94.83" y="162.14" width="2.35" height="5.40" fill="#c1c1c1"/>
<rect x="98.53" y="162.14" width="2.35" height="5.40" fill="#c1c1c1"/>
<rect x="102.22" y="162.14" width="2.35" height="5.40" fill="#c1c1c1"/>
<rect x="105.92" y="162.14" width="2.35" height="5.40" fill="#c1c1c1"/>
<rect x="109.61" y="162.14" width="2.35" height="5.40" fill="#c1c1c1"/>
<rect x="113.31" y="162.14" width="2.35" height="5.40" fill="#c1c1c1"/>
<rect x="117.00" y="162.14" width="2.35" height="5.40" fill="#c1c1c1"/>
<rect x="120.70" y="162.14" width="2.35" height="5.40" fill="#c1c1c1"/>
<rect x="124.39" y="162.14" width="2.35" height="5.40" fill="#c1c1c1"/>
<rect x="128.09" y="162.14" width="2.35" height="5.40" fill="#c1c1c1"/>
<rect x="131.78" y="162.14" width="2.35" height="5.40" fill="#c1c1c1"/>
<rect x="135.48" y="162.14" width="2.35" height="5.40" fill="#c1c1c1"/>
<rect x="139.18" y="162.14" width="2.35" height="5.40" fill="#c1c1c1"/>
<rect x="142.87" y="162.14" width="2.35" height="5.40" fill="#c1c1c1"/>
<rect x="146.56" y="162.14" width="2.35" height="5.40" fill="#c1c1c1"/>
<rect x="150.26" y="162.14" width="2.35" height="5.40" fill="#c1c1c1"/>
<rect x="153.95" y="162.14" width="2.35" height="5.40" fill="#c1c1c1"/>
<rect x="157.65" y="162.14" width="2.35" height="5.40" fill="#c1c1c1"/>
<rect x="161.34" y="162.14" width="2.35" height="5.40" fill="#c1c1c1"/>
<rect x="165.04" y="162.14" width="2.35" height="5.40" fill="#c1c1c1"/>
<rect x="168.73" y="162.14" width="2.35" height="5.40" fill="#c1c1c1"/>
<rect x="172.43" y="162.14" width="2.35" height="5.40" fill="#c1c1c1"/>
<rect x="176.12" y="162.14" width="2.35" height="5.40" fill="#c1c1c1"/>
<rect x="179.82" y="162.14" width="2.35" height="5.40" fill="#c1c1c1"/>
<rect x="183.51" y="162.14" width="2.35" height="5.40" fill="#c1c1c1"/>
<rect x="187.21" y="162.14" width="2.35" height="5.40" fill="#c1c1c1"/>
<rect x="190.90" y="162.14" width="2.35" height="5.40" fill="#c1c1c1"/>
<rect x="194.60" y="162.14" width="2.35" height="5.40" fill="#c1c1c1"/>
<rect x="198.30" y="162.14" width="2.35" height="5.40" fill="#c1c1c1"/>
<rect x="201.99" y="162.14" width="2.35" height="5.40" fill="#c1c1c1"/>
<rect x="205.69" y="162.14" width="2.35" height="5.40" fill="#c1c1c1"/>
<rect x="209.38" y="162.14" width="2.35" height="5.40" fill="#c1c1c1"/>
<rect x="213.07" y="162.14" width="2.35" height="5.40" fill="#c1c1c1"/>
<rect x="216.77" y="162.14" width="2.35" height="5.40" fill="#c1c1c1"/>
<rect x="220.46" y="162.14" width="2.35" height="5.40" fill="#c1c1c1"/>
<rect x="224.16" y="162.14" width="2.35" height="5.40" fill="#2fa739"/>
<rect x="227.85" y="162.14" width="2.35" height="5.40" fill="#c1c1c1"/>
<rect x="231.55" y="162.14" width="2.35" height="5.40" fill="#c1c1c1"/>
<rect x="235.25" y="162.14" width="2.35" height="5.40" fill="#c1c1c1"/>
<rect x="238.94" y="162.14" width="2.35" height="5.40" fill="#c1c1c1"/>
<rect x="242.63" y="162.14" width="2.35" height="5.40" fill="#c1c1c1"/>
<rect x="246.33" y="162.14" width="2.35" height="5.40" fill="#c1c1c1"/>
<rect x="250.02" y="162.14" width="2.35" height="5.40" fill="#c1c1c1"/>
<rect x="253.72" y="162.14" width="2.35" height="5.40" fill="#c1c1c1"/>
<rect x="257.41" y="162.14" width="2.35" height="5.40" fill="#c1c1c1"/>
<rect x="261.11" y="162.14" width="2.35" height="5.40" fill="#c1c1c1"/>
<rect x="264.81" y="162.14" width="2.35" height="5.40" fill="#c1c1c1"/>
<rect x="268.50" y="162.14" width="2.35" height="5.40" fill="#c1c1c1"/>
<rect x="272.19" y="162.14" width="2.35" height="5.40" fill="#c1c1c1"/>
<rect x="275.89" y="162.14" width="2.35" height="5.40" fill="#c1c1c1"/>
<rect x="279.58" y="162.14" width="2.35" height="5.40" fill="#c1c1c1"/>
<rect x="283.28" y="162.14" width="2.35" height="5.40" fill="#c1c1c1"/>
<rect x="286.97" y="162.14" width="2.35" height="5.40" fill="#c1c1c1"/>
<rect x="290.67" y="162.14" width="2.35" height="5.40" fill="#c1c1c1"/>
<rect x="294.37" y="162.14" width="2.35" height="5.40" fill="#c1c1c1"/>
<rect x="298.06" y="162.14" width="2.35" height="5.40" fill="#c1c1c1"/>
<rect x="301.75" y="162.14" width="2.35" height="5.40" fill="#c1c1c1"/>
<rect x="305.45" y="162.14" width="2.35" height="5.40" fill="#c1c1c1"/>
<rect x="309.14" y="162.14" width="2.35" height="5.40" fill="#c1c1c1"/>
<rect x="312.84" y="162.14" width="2.35" height="5.40" fill="#c1c1c1"/>
<rect x="316.54" y="162.14" width="2.35" height="5.40" fill="#c1c1c1"/>
<rect x="320.23" y="162.14" width="2.35" height="5.40" fill="#c1c1c1"/>
<rect x="323.93" y="162.14" width="2.35" height="5.40" fill="#c1c1c1"/>
<rect x="327.62" y="162.14" width="2.35" height="5.40" fill="#c1c1c1"/>
<rect x="331.31" y="162.14" width="2.35" height="5.40" fill="#c1c1c1"/>
<rect x="335.01" y="162.14" width="2.35" height="5.40" fill="#c1c1c1"/>
<rect x="338.70" y="162.14" width="2.35" height="5.40" fill="#c1c1c1"/>
<rect x="342.40" y="162.14" width="2.35" height="5.40" fill="#c1c1c1"/>
<rect x="346.09" y="162.14" width="2.35" height="5.40" fill="#c1c1c1"/>
<rect x="349.79" y="162.14" width="2.35" height="5.40" fill="#c1c1c1"/>
<rect x="353.49" y="162.14" width="2.35" height="5.40" fill="#c1c1c1"/>
<rect x="357.18" y="162.14" width="2.35" height="5.40" fill="#c1c1c1"/>
<rect x="360.88" y="162.14" width="2.35" height="5.40" fill="#c1c1c1"/>
<rect x="364.57" y="162.14" width="2.35" height="5.40" fill="#c1c1c1"/>
<rect x="368.26" y="162.14" width="2.35" height="5.40" fill="#c1c1c1"/>
<rect x="371.96" y="162.14" width="2.35" height="5.40" fill="#c1c1c1"/>
<rect x="375.65" y="162.14" width="2.35" height="5.40" fill="#c1c1c1"/>
<rect x="379.35" y="162.14" width="2.35" height="5.40" fill="#c1c1c1"/>
<rect x="383.05" y="162.14" width="2.35" height="5.40" fill="#c1c1c1"/>
<rect x="386.74" y="162.14" width="2.35" height="5.40" fill="#c1c1c1"/>
<rect x="390.44" y="162.14" width="2.35" height="5.40" fill="#c1c1c1"/>
<rect x="394.13" y="162.14" width="2.35" height="5.40" fill="#c1c1c1"/>
<rect x="397.82" y="162.14" width="2.35" height="5.40" fill="#c1c1c1"/>
<rect x="401.52" y="162.14" width="2.35" height="5.40" fill="#c1c1c1"/>
</g>
<text x="43.00" y="166.74" font-size="5.30" text-anchor="end" fill="#1c1c1c" font-style="italic">EZH2</text>
<rect x="407.50" y="162.19" width="2.64" height="4.5" fill="#4a5363"/>
<g>
<rect x="46.80" y="169.31" width="2.35" height="5.40" fill="#c1c1c1"/>
<rect x="50.49" y="169.31" width="2.35" height="5.40" fill="#c1c1c1"/>
<rect x="54.19" y="169.31" width="2.35" height="5.40" fill="#c1c1c1"/>
<rect x="57.88" y="169.31" width="2.35" height="5.40" fill="#c1c1c1"/>
<rect x="61.58" y="169.31" width="2.35" height="5.40" fill="#c1c1c1"/>
<rect x="65.27" y="169.31" width="2.35" height="5.40" fill="#c1c1c1"/>
<rect x="68.97" y="169.31" width="2.35" height="5.40" fill="#c1c1c1"/>
<rect x="72.66" y="169.31" width="2.35" height="5.40" fill="#c1c1c1"/>
<rect x="76.36" y="169.31" width="2.35" height="5.40" fill="#c1c1c1"/>
<rect x="80.05" y="169.31" width="2.35" height="5.40" fill="#c1c1c1"/>
<rect x="83.75" y="169.31" width="2.35" height="5.40" fill="#c1c1c1"/>
<rect x="87.44" y="169.31" width="2.35" height="5.40" fill="#c1c1c1"/>
<rect x="91.14" y="169.31" width="2.35" height="5.40" fill="#c1c1c1"/>
<rect x="94.83" y="169.31" width="2.35" height="5.40" fill="#c1c1c1"/>
<rect x="98.53" y="169.31" width="2.35" height="5.40" fill="#c1c1c1"/>
<rect x="102.22" y="169.31" width="2.35" height="5.40" fill="#c1c1c1"/>
<rect x="105.92" y="169.31" width="2.35" height="5.40" fill="#c1c1c1"/>
<rect x="109.61" y="169.31" width="2.35" height="5.40" fill="#c1c1c1"/>
<rect x="113.31" y="169.31" width="2.35" height="5.40" fill="#c1c1c1"/>
<rect x="117.00" y="169.31" width="2.35" height="5.40" fill="#c1c1c1"/>
<rect x="120.70" y="169.31" width="2.35" height="5.40" fill="#c1c1c1"/>
<rect x="124.39" y="169.31" width="2.35" height="5.40" fill="#c1c1c1"/>
<rect x="128.09" y="169.31" width="2.35" height="5.40" fill="#c1c1c1"/>
<rect x="131.78" y="169.31" width="2.35" height="5.40" fill="#c1c1c1"/>
<rect x="135.48" y="169.31" width="2.35" height="5.40" fill="#c1c1c1"/>
<rect x="139.18" y="169.31" width="2.35" height="5.40" fill="#c1c1c1"/>
<rect x="142.87" y="169.31" width="2.35" height="5.40" fill="#c1c1c1"/>
<rect x="146.56" y="169.31" width="2.35" height="5.40" fill="#c1c1c1"/>
<rect x="150.26" y="169.31" width="2.35" height="5.40" fill="#c1c1c1"/>
<rect x="153.95" y="169.31" width="2.35" height="5.40" fill="#c1c1c1"/>
<rect x="157.65" y="169.31" width="2.35" height="5.40" fill="#c1c1c1"/>
<rect x="161.34" y="169.31" width="2.35" height="5.40" fill="#561a6f"/>
<rect x="165.04" y="169.31" width="2.35" height="5.40" fill="#c1c1c1"/>
<rect x="168.73" y="169.31" width="2.35" height="5.40" fill="#c1c1c1"/>
<rect x="172.43" y="169.31" width="2.35" height="5.40" fill="#c1c1c1"/>
<rect x="176.12" y="169.31" width="2.35" height="5.40" fill="#c1c1c1"/>
<rect x="179.82" y="169.31" width="2.35" height="5.40" fill="#c1c1c1"/>
<rect x="183.51" y="169.31" width="2.35" height="5.40" fill="#c1c1c1"/>
<rect x="187.21" y="169.31" width="2.35" height="5.40" fill="#c1c1c1"/>
<rect x="190.90" y="169.31" width="2.35" height="5.40" fill="#c1c1c1"/>
<rect x="194.60" y="169.31" width="2.35" height="5.40" fill="#c1c1c1"/>
<rect x="198.30" y="169.31" width="2.35" height="5.40" fill="#c1c1c1"/>
<rect x="201.99" y="169.31" width="2.35" height="5.40" fill="#c1c1c1"/>
<rect x="205.69" y="169.31" width="2.35" height="5.40" fill="#c1c1c1"/>
<rect x="209.38" y="169.31" width="2.35" height="5.40" fill="#c1c1c1"/>
<rect x="213.07" y="169.31" width="2.35" height="5.40" fill="#c1c1c1"/>
<rect x="216.77" y="169.31" width="2.35" height="5.40" fill="#c1c1c1"/>
<rect x="220.46" y="169.31" width="2.35" height="5.40" fill="#c1c1c1"/>
<rect x="224.16" y="169.31" width="2.35" height="5.40" fill="#c1c1c1"/>
<rect x="227.85" y="169.31" width="2.35" height="5.40" fill="#c1c1c1"/>
<rect x="231.55" y="169.31" width="2.35" height="5.40" fill="#c1c1c1"/>
<rect x="235.25" y="169.31" width="2.35" height="5.40" fill="#c1c1c1"/>
<rect x="238.94" y="169.31" width="2.35" height="5.40" fill="#c1c1c1"/>
<rect x="242.63" y="169.31" width="2.35" height="5.40" fill="#c1c1c1"/>
<rect x="246.33" y="169.31" width="2.35" height="5.40" fill="#c1c1c1"/>
<rect x="250.02" y="169.31" width="2.35" height="5.40" fill="#c1c1c1"/>
<rect x="253.72" y="169.31" width="2.35" height="5.40" fill="#c1c1c1"/>
<rect x="257.41" y="169.31" width="2.35" height="5.40" fill="#c1c1c1"/>
<rect x="261.11" y="169.31" width="2.35" height="5.40" fill="#c1c1c1"/>
<rect x="264.81" y="169.31" width="2.35" height="5.40" fill="#c1c1c1"/>
<rect x="268.50" y="169.31" width="2.35" height="5.40" fill="#c1c1c1"/>
<rect x="272.19" y="169.31" width="2.35" height="5.40" fill="#c1c1c1"/>
<rect x="275.89" y="169.31" width="2.35" height="5.40" fill="#c1c1c1"/>
<rect x="279.58" y="169.31" width="2.35" height="5.40" fill="#c1c1c1"/>
<rect x="283.28" y="169.31" width="2.35" height="5.40" fill="#c1c1c1"/>
<rect x="286.97" y="169.31" width="2.35" height="5.40" fill="#c1c1c1"/>
<rect x="290.67" y="169.31" width="2.35" height="5.40" fill="#c1c1c1"/>
<rect x="294.37" y="169.31" width="2.35" height="5.40" fill="#c1c1c1"/>
<rect x="298.06" y="169.31" width="2.35" height="5.40" fill="#c1c1c1"/>
<rect x="301.75" y="169.31" width="2.35" height="5.40" fill="#c1c1c1"/>
<rect x="305.45" y="169.31" width="2.35" height="5.40" fill="#c1c1c1"/>
<rect x="309.14" y="169.31" width="2.35" height="5.40" fill="#c1c1c1"/>
<rect x="312.84" y="169.31" width="2.35" height="5.40" fill="#c1c1c1"/>
<rect x="316.54" y="169.31" width="2.35" height="5.40" fill="#c1c1c1"/>
<rect x="320.23" y="169.31" width="2.35" height="5.40" fill="#c1c1c1"/>
<rect x="323.93" y="169.31" width="2.35" height="5.40" fill="#c1c1c1"/>
<rect x="327.62" y="169.31" width="2.35" height="5.40" fill="#c1c1c1"/>
<rect x="331.31" y="169.31" width="2.35" height="5.40" fill="#c1c1c1"/>
<rect x="335.01" y="169.31" width="2.35" height="5.40" fill="#c1c1c1"/>
<rect x="338.70" y="169.31" width="2.35" height="5.40" fill="#c1c1c1"/>
<rect x="342.40" y="169.31" width="2.35" height="5.40" fill="#c1c1c1"/>
<rect x="346.09" y="169.31" width="2.35" height="5.40" fill="#c1c1c1"/>
<rect x="349.79" y="169.31" width="2.35" height="5.40" fill="#c1c1c1"/>
<rect x="353.49" y="169.31" width="2.35" height="5.40" fill="#c1c1c1"/>
<rect x="357.18" y="169.31" width="2.35" height="5.40" fill="#c1c1c1"/>
<rect x="360.88" y="169.31" width="2.35" height="5.40" fill="#c1c1c1"/>
<rect x="364.57" y="169.31" width="2.35" height="5.40" fill="#c1c1c1"/>
<rect x="368.26" y="169.31" width="2.35" height="5.40" fill="#c1c1c1"/>
<rect x="371.96" y="169.31" width="2.35" height="5.40" fill="#c1c1c1"/>
<rect x="375.65" y="169.31" width="2.35" height="5.40" fill="#c1c1c1"/>
<rect x="379.35" y="169.31" width="2.35" height="5.40" fill="#c1c1c1"/>
<rect x="383.05" y="169.31" width="2.35" height="5.40" fill="#c1c1c1"/>
<rect x="386.74" y="169.31" width="2.35" height="5.40" fill="#c1c1c1"/>
<rect x="390.44" y="169.31" width="2.35" height="5.40" fill="#c1c1c1"/>
<rect x="394.13" y="169.31" width="2.35" height="5.40" fill="#c1c1c1"/>
<rect x="397.82" y="169.31" width="2.35" height="5.40" fill="#c1c1c1"/>
<rect x="401.52" y="169.31" width="2.35" height="5.40" fill="#c1c1c1"/>
</g>
<text x="43.00" y="173.91" font-size="5.30" text-anchor="end" fill="#1c1c1c" font-style="italic">KDM6A</text>
<rect x="407.50" y="169.36" width="2.64" height="4.5" fill="#4a5363"/>
<g>
<rect x="46.80" y="176.47" width="2.35" height="5.40" fill="#c1c1c1"/>
<rect x="50.49" y="176.47" width="2.35" height="5.40" fill="#c1c1c1"/>
<rect x="54.19" y="176.47" width="2.35" height="5.40" fill="#c1c1c1"/>
<rect x="57.88" y="176.47" width="2.35" height="5.40" fill="#c1c1c1"/>
<rect x="61.58" y="176.47" width="2.35" height="5.40" fill="#c1c1c1"/>
<rect x="65.27" y="176.47" width="2.35" height="5.40" fill="#c1c1c1"/>
<rect x="68.97" y="176.47" width="2.35" height="5.40" fill="#c1c1c1"/>
<rect x="72.66" y="176.47" width="2.35" height="5.40" fill="#c1c1c1"/>
<rect x="76.36" y="176.47" width="2.35" height="5.40" fill="#c1c1c1"/>
<rect x="80.05" y="176.47" width="2.35" height="5.40" fill="#c1c1c1"/>
<rect x="83.75" y="176.47" width="2.35" height="5.40" fill="#c1c1c1"/>
<rect x="87.44" y="176.47" width="2.35" height="5.40" fill="#c1c1c1"/>
<rect x="91.14" y="176.47" width="2.35" height="5.40" fill="#c1c1c1"/>
<rect x="94.83" y="176.47" width="2.35" height="5.40" fill="#c1c1c1"/>
<rect x="98.53" y="176.47" width="2.35" height="5.40" fill="#c1c1c1"/>
<rect x="102.22" y="176.47" width="2.35" height="5.40" fill="#c1c1c1"/>
<rect x="105.92" y="176.47" width="2.35" height="5.40" fill="#c1c1c1"/>
<rect x="109.61" y="176.47" width="2.35" height="5.40" fill="#c1c1c1"/>
<rect x="113.31" y="176.47" width="2.35" height="5.40" fill="#c1c1c1"/>
<rect x="117.00" y="176.47" width="2.35" height="5.40" fill="#c1c1c1"/>
<rect x="120.70" y="176.47" width="2.35" height="5.40" fill="#c1c1c1"/>
<rect x="124.39" y="176.47" width="2.35" height="5.40" fill="#c1c1c1"/>
<rect x="128.09" y="176.47" width="2.35" height="5.40" fill="#c1c1c1"/>
<rect x="131.78" y="176.47" width="2.35" height="5.40" fill="#c1c1c1"/>
<rect x="135.48" y="176.47" width="2.35" height="5.40" fill="#c1c1c1"/>
<rect x="139.18" y="176.47" width="2.35" height="5.40" fill="#c1c1c1"/>
<rect x="142.87" y="176.47" width="2.35" height="5.40" fill="#c1c1c1"/>
<rect x="146.56" y="176.47" width="2.35" height="5.40" fill="#c1c1c1"/>
<rect x="150.26" y="176.47" width="2.35" height="5.40" fill="#c1c1c1"/>
<rect x="153.95" y="176.47" width="2.35" height="5.40" fill="#c1c1c1"/>
<rect x="157.65" y="176.47" width="2.35" height="5.40" fill="#c1c1c1"/>
<rect x="161.34" y="176.47" width="2.35" height="5.40" fill="#c1c1c1"/>
<rect x="165.04" y="176.47" width="2.35" height="5.40" fill="#c1c1c1"/>
<rect x="168.73" y="176.47" width="2.35" height="5.40" fill="#c1c1c1"/>
<rect x="172.43" y="176.47" width="2.35" height="5.40" fill="#c1c1c1"/>
<rect x="176.12" y="176.47" width="2.35" height="5.40" fill="#c1c1c1"/>
<rect x="179.82" y="176.47" width="2.35" height="5.40" fill="#c1c1c1"/>
<rect x="183.51" y="176.47" width="2.35" height="5.40" fill="#c1c1c1"/>
<rect x="187.21" y="176.47" width="2.35" height="5.40" fill="#c1c1c1"/>
<rect x="190.90" y="176.47" width="2.35" height="5.40" fill="#c1c1c1"/>
<rect x="194.60" y="176.47" width="2.35" height="5.40" fill="#c1c1c1"/>
<rect x="198.30" y="176.47" width="2.35" height="5.40" fill="#c1c1c1"/>
<rect x="201.99" y="176.47" width="2.35" height="5.40" fill="#c1c1c1"/>
<rect x="205.69" y="176.47" width="2.35" height="5.40" fill="#c1c1c1"/>
<rect x="209.38" y="176.47" width="2.35" height="5.40" fill="#c1c1c1"/>
<rect x="213.07" y="176.47" width="2.35" height="5.40" fill="#c1c1c1"/>
<rect x="216.77" y="176.47" width="2.35" height="5.40" fill="#c1c1c1"/>
<rect x="220.46" y="176.47" width="2.35" height="5.40" fill="#c1c1c1"/>
<rect x="224.16" y="176.47" width="2.35" height="5.40" fill="#c1c1c1"/>
<rect x="227.85" y="176.47" width="2.35" height="5.40" fill="#c1c1c1"/>
<rect x="231.55" y="176.47" width="2.35" height="5.40" fill="#c1c1c1"/>
<rect x="235.25" y="176.47" width="2.35" height="5.40" fill="#c1c1c1"/>
<rect x="238.94" y="176.47" width="2.35" height="5.40" fill="#2fa739"/>
<rect x="242.63" y="176.47" width="2.35" height="5.40" fill="#c1c1c1"/>
<rect x="246.33" y="176.47" width="2.35" height="5.40" fill="#c1c1c1"/>
<rect x="250.02" y="176.47" width="2.35" height="5.40" fill="#c1c1c1"/>
<rect x="253.72" y="176.47" width="2.35" height="5.40" fill="#c1c1c1"/>
<rect x="257.41" y="176.47" width="2.35" height="5.40" fill="#c1c1c1"/>
<rect x="261.11" y="176.47" width="2.35" height="5.40" fill="#c1c1c1"/>
<rect x="264.81" y="176.47" width="2.35" height="5.40" fill="#c1c1c1"/>
<rect x="268.50" y="176.47" width="2.35" height="5.40" fill="#c1c1c1"/>
<rect x="272.19" y="176.47" width="2.35" height="5.40" fill="#c1c1c1"/>
<rect x="275.89" y="176.47" width="2.35" height="5.40" fill="#c1c1c1"/>
<rect x="279.58" y="176.47" width="2.35" height="5.40" fill="#c1c1c1"/>
<rect x="283.28" y="176.47" width="2.35" height="5.40" fill="#c1c1c1"/>
<rect x="286.97" y="176.47" width="2.35" height="5.40" fill="#c1c1c1"/>
<rect x="290.67" y="176.47" width="2.35" height="5.40" fill="#c1c1c1"/>
<rect x="294.37" y="176.47" width="2.35" height="5.40" fill="#c1c1c1"/>
<rect x="298.06" y="176.47" width="2.35" height="5.40" fill="#c1c1c1"/>
<rect x="301.75" y="176.47" width="2.35" height="5.40" fill="#c1c1c1"/>
<rect x="305.45" y="176.47" width="2.35" height="5.40" fill="#c1c1c1"/>
<rect x="309.14" y="176.47" width="2.35" height="5.40" fill="#c1c1c1"/>
<rect x="312.84" y="176.47" width="2.35" height="5.40" fill="#c1c1c1"/>
<rect x="316.54" y="176.47" width="2.35" height="5.40" fill="#c1c1c1"/>
<rect x="320.23" y="176.47" width="2.35" height="5.40" fill="#c1c1c1"/>
<rect x="323.93" y="176.47" width="2.35" height="5.40" fill="#c1c1c1"/>
<rect x="327.62" y="176.47" width="2.35" height="5.40" fill="#c1c1c1"/>
<rect x="331.31" y="176.47" width="2.35" height="5.40" fill="#c1c1c1"/>
<rect x="335.01" y="176.47" width="2.35" height="5.40" fill="#c1c1c1"/>
<rect x="338.70" y="176.47" width="2.35" height="5.40" fill="#c1c1c1"/>
<rect x="342.40" y="176.47" width="2.35" height="5.40" fill="#c1c1c1"/>
<rect x="346.09" y="176.47" width="2.35" height="5.40" fill="#c1c1c1"/>
<rect x="349.79" y="176.47" width="2.35" height="5.40" fill="#c1c1c1"/>
<rect x="353.49" y="176.47" width="2.35" height="5.40" fill="#c1c1c1"/>
<rect x="357.18" y="176.47" width="2.35" height="5.40" fill="#c1c1c1"/>
<rect x="360.88" y="176.47" width="2.35" height="5.40" fill="#c1c1c1"/>
<rect x="364.57" y="176.47" width="2.35" height="5.40" fill="#c1c1c1"/>
<rect x="368.26" y="176.47" width="2.35" height="5.40" fill="#c1c1c1"/>
<rect x="371.96" y="176.47" width="2.35" height="5.40" fill="#c1c1c1"/>
<rect x="375.65" y="176.47" width="2.35" height="5.40" fill="#c1c1c1"/>
<rect x="379.35" y="176.47" width="2.35" height="5.40" fill="#c1c1c1"/>
<rect x="383.05" y="176.47" width="2.35" height="5.40" fill="#c1c1c1"/>
<rect x="386.74" y="176.47" width="2.35" height="5.40" fill="#c1c1c1"/>
<rect x="390.44" y="176.47" width="2.35" height="5.40" fill="#c1c1c1"/>
<rect x="394.13" y="176.47" width="2.35" height="5.40" fill="#c1c1c1"/>
<rect x="397.82" y="176.47" width="2.35" height="5.40" fill="#c1c1c1"/>
<rect x="401.52" y="176.47" width="2.35" height="5.40" fill="#c1c1c1"/>
</g>
<text x="43.00" y="181.07" font-size="5.30" text-anchor="end" fill="#1c1c1c" font-style="italic">SETD2</text>
<rect x="407.50" y="176.52" width="2.64" height="4.5" fill="#4a5363"/>
<g>
<rect x="46.80" y="183.64" width="2.35" height="5.40" fill="#c1c1c1"/>
<rect x="50.49" y="183.64" width="2.35" height="5.40" fill="#c1c1c1"/>
<rect x="54.19" y="183.64" width="2.35" height="5.40" fill="#c1c1c1"/>
<rect x="57.88" y="183.64" width="2.35" height="5.40" fill="#c1c1c1"/>
<rect x="61.58" y="183.64" width="2.35" height="5.40" fill="#c1c1c1"/>
<rect x="65.27" y="183.64" width="2.35" height="5.40" fill="#c1c1c1"/>
<rect x="68.97" y="183.64" width="2.35" height="5.40" fill="#c1c1c1"/>
<rect x="72.66" y="183.64" width="2.35" height="5.40" fill="#c1c1c1"/>
<rect x="76.36" y="183.64" width="2.35" height="5.40" fill="#c1c1c1"/>
<rect x="80.05" y="183.64" width="2.35" height="5.40" fill="#c1c1c1"/>
<rect x="83.75" y="183.64" width="2.35" height="5.40" fill="#c1c1c1"/>
<rect x="87.44" y="183.64" width="2.35" height="5.40" fill="#c1c1c1"/>
<rect x="91.14" y="183.64" width="2.35" height="5.40" fill="#c1c1c1"/>
<rect x="94.83" y="183.64" width="2.35" height="5.40" fill="#c1c1c1"/>
<rect x="98.53" y="183.64" width="2.35" height="5.40" fill="#c1c1c1"/>
<rect x="102.22" y="183.64" width="2.35" height="5.40" fill="#c1c1c1"/>
<rect x="105.92" y="183.64" width="2.35" height="5.40" fill="#c1c1c1"/>
<rect x="109.61" y="183.64" width="2.35" height="5.40" fill="#c1c1c1"/>
<rect x="113.31" y="183.64" width="2.35" height="5.40" fill="#c1c1c1"/>
<rect x="117.00" y="183.64" width="2.35" height="5.40" fill="#c1c1c1"/>
<rect x="120.70" y="183.64" width="2.35" height="5.40" fill="#c1c1c1"/>
<rect x="124.39" y="183.64" width="2.35" height="5.40" fill="#c1c1c1"/>
<rect x="128.09" y="183.64" width="2.35" height="5.40" fill="#c1c1c1"/>
<rect x="131.78" y="183.64" width="2.35" height="5.40" fill="#c1c1c1"/>
<rect x="135.48" y="183.64" width="2.35" height="5.40" fill="#c1c1c1"/>
<rect x="139.18" y="183.64" width="2.35" height="5.40" fill="#c1c1c1"/>
<rect x="142.87" y="183.64" width="2.35" height="5.40" fill="#c1c1c1"/>
<rect x="146.56" y="183.64" width="2.35" height="5.40" fill="#c1c1c1"/>
<rect x="150.26" y="183.64" width="2.35" height="5.40" fill="#c1c1c1"/>
<rect x="153.95" y="183.64" width="2.35" height="5.40" fill="#c1c1c1"/>
<rect x="157.65" y="183.64" width="2.35" height="5.40" fill="#c1c1c1"/>
<rect x="161.34" y="183.64" width="2.35" height="5.40" fill="#c1c1c1"/>
<rect x="165.04" y="183.64" width="2.35" height="5.40" fill="#c1c1c1"/>
<rect x="168.73" y="183.64" width="2.35" height="5.40" fill="#c1c1c1"/>
<rect x="172.43" y="183.64" width="2.35" height="5.40" fill="#c1c1c1"/>
<rect x="176.12" y="183.64" width="2.35" height="5.40" fill="#c1c1c1"/>
<rect x="179.82" y="183.64" width="2.35" height="5.40" fill="#c1c1c1"/>
<rect x="183.51" y="183.64" width="2.35" height="5.40" fill="#c1c1c1"/>
<rect x="187.21" y="183.64" width="2.35" height="5.40" fill="#c1c1c1"/>
<rect x="190.90" y="183.64" width="2.35" height="5.40" fill="#c1c1c1"/>
<rect x="194.60" y="183.64" width="2.35" height="5.40" fill="#c1c1c1"/>
<rect x="198.30" y="183.64" width="2.35" height="5.40" fill="#c1c1c1"/>
<rect x="201.99" y="183.64" width="2.35" height="5.40" fill="#c1c1c1"/>
<rect x="205.69" y="183.64" width="2.35" height="5.40" fill="#c1c1c1"/>
<rect x="209.38" y="183.64" width="2.35" height="5.40" fill="#c1c1c1"/>
<rect x="213.07" y="183.64" width="2.35" height="5.40" fill="#c1c1c1"/>
<rect x="216.77" y="183.64" width="2.35" height="5.40" fill="#c1c1c1"/>
<rect x="220.46" y="183.64" width="2.35" height="5.40" fill="#c1c1c1"/>
<rect x="224.16" y="183.64" width="2.35" height="5.40" fill="#c1c1c1"/>
<rect x="227.85" y="183.64" width="2.35" height="5.40" fill="#c1c1c1"/>
<rect x="231.55" y="183.64" width="2.35" height="5.40" fill="#c1c1c1"/>
<rect x="235.25" y="183.64" width="2.35" height="5.40" fill="#c1c1c1"/>
<rect x="238.94" y="183.64" width="2.35" height="5.40" fill="#c1c1c1"/>
<rect x="242.63" y="183.64" width="2.35" height="5.40" fill="#c1c1c1"/>
<rect x="246.33" y="183.64" width="2.35" height="5.40" fill="#c1c1c1"/>
<rect x="250.02" y="183.64" width="2.35" height="5.40" fill="#c1c1c1"/>
<rect x="253.72" y="183.64" width="2.35" height="5.40" fill="#c1c1c1"/>
<rect x="257.41" y="183.64" width="2.35" height="5.40" fill="#c1c1c1"/>
<rect x="261.11" y="183.64" width="2.35" height="5.40" fill="#c1c1c1"/>
<rect x="264.81" y="183.64" width="2.35" height="5.40" fill="#c1c1c1"/>
<rect x="268.50" y="183.64" width="2.35" height="5.40" fill="#c1c1c1"/>
<rect x="272.19" y="183.64" width="2.35" height="5.40" fill="#c1c1c1"/>
<rect x="275.89" y="183.64" width="2.35" height="5.40" fill="#c1c1c1"/>
<rect x="279.58" y="183.64" width="2.35" height="5.40" fill="#c1c1c1"/>
<rect x="283.28" y="183.64" width="2.35" height="5.40" fill="#c1c1c1"/>
<rect x="286.97" y="183.64" width="2.35" height="5.40" fill="#c1c1c1"/>
<rect x="290.67" y="183.64" width="2.35" height="5.40" fill="#c1c1c1"/>
<rect x="294.37" y="183.64" width="2.35" height="5.40" fill="#b80c2e"/>
<rect x="298.06" y="183.64" width="2.35" height="5.40" fill="#c1c1c1"/>
<rect x="301.75" y="183.64" width="2.35" height="5.40" fill="#c1c1c1"/>
<rect x="305.45" y="183.64" width="2.35" height="5.40" fill="#c1c1c1"/>
<rect x="309.14" y="183.64" width="2.35" height="5.40" fill="#c1c1c1"/>
<rect x="312.84" y="183.64" width="2.35" height="5.40" fill="#c1c1c1"/>
<rect x="316.54" y="183.64" width="2.35" height="5.40" fill="#c1c1c1"/>
<rect x="320.23" y="183.64" width="2.35" height="5.40" fill="#c1c1c1"/>
<rect x="323.93" y="183.64" width="2.35" height="5.40" fill="#c1c1c1"/>
<rect x="327.62" y="183.64" width="2.35" height="5.40" fill="#c1c1c1"/>
<rect x="331.31" y="183.64" width="2.35" height="5.40" fill="#c1c1c1"/>
<rect x="335.01" y="183.64" width="2.35" height="5.40" fill="#c1c1c1"/>
<rect x="338.70" y="183.64" width="2.35" height="5.40" fill="#c1c1c1"/>
<rect x="342.40" y="183.64" width="2.35" height="5.40" fill="#c1c1c1"/>
<rect x="346.09" y="183.64" width="2.35" height="5.40" fill="#c1c1c1"/>
<rect x="349.79" y="183.64" width="2.35" height="5.40" fill="#c1c1c1"/>
<rect x="353.49" y="183.64" width="2.35" height="5.40" fill="#c1c1c1"/>
<rect x="357.18" y="183.64" width="2.35" height="5.40" fill="#c1c1c1"/>
<rect x="360.88" y="183.64" width="2.35" height="5.40" fill="#c1c1c1"/>
<rect x="364.57" y="183.64" width="2.35" height="5.40" fill="#c1c1c1"/>
<rect x="368.26" y="183.64" width="2.35" height="5.40" fill="#c1c1c1"/>
<rect x="371.96" y="183.64" width="2.35" height="5.40" fill="#c1c1c1"/>
<rect x="375.65" y="183.64" width="2.35" height="5.40" fill="#c1c1c1"/>
<rect x="379.35" y="183.64" width="2.35" height="5.40" fill="#c1c1c1"/>
<rect x="383.05" y="183.64" width="2.35" height="5.40" fill="#c1c1c1"/>
<rect x="386.74" y="183.64" width="2.35" height="5.40" fill="#c1c1c1"/>
<rect x="390.44" y="183.64" width="2.35" height="5.40" fill="#c1c1c1"/>
<rect x="394.13" y="183.64" width="2.35" height="5.40" fill="#c1c1c1"/>
<rect x="397.82" y="183.64" width="2.35" height="5.40" fill="#c1c1c1"/>
<rect x="401.52" y="183.64" width="2.35" height="5.40" fill="#c1c1c1"/>
</g>
<text x="43.00" y="188.24" font-size="5.30" text-anchor="end" fill="#1c1c1c" font-style="italic">TET1</text>
<rect x="407.50" y="183.69" width="2.64" height="4.5" fill="#4a5363"/>
<g>
<rect x="46.80" y="190.81" width="2.35" height="5.40" fill="#c1c1c1"/>
<rect x="50.49" y="190.81" width="2.35" height="5.40" fill="#c1c1c1"/>
<rect x="54.19" y="190.81" width="2.35" height="5.40" fill="#c1c1c1"/>
<rect x="57.88" y="190.81" width="2.35" height="5.40" fill="#c1c1c1"/>
<rect x="61.58" y="190.81" width="2.35" height="5.40" fill="#c1c1c1"/>
<rect x="65.27" y="190.81" width="2.35" height="5.40" fill="#c1c1c1"/>
<rect x="68.97" y="190.81" width="2.35" height="5.40" fill="#c1c1c1"/>
<rect x="72.66" y="190.81" width="2.35" height="5.40" fill="#c1c1c1"/>
<rect x="76.36" y="190.81" width="2.35" height="5.40" fill="#c1c1c1"/>
<rect x="80.05" y="190.81" width="2.35" height="5.40" fill="#c1c1c1"/>
<rect x="83.75" y="190.81" width="2.35" height="5.40" fill="#c1c1c1"/>
<rect x="87.44" y="190.81" width="2.35" height="5.40" fill="#c1c1c1"/>
<rect x="91.14" y="190.81" width="2.35" height="5.40" fill="#c1c1c1"/>
<rect x="94.83" y="190.81" width="2.35" height="5.40" fill="#c1c1c1"/>
<rect x="98.53" y="190.81" width="2.35" height="5.40" fill="#c1c1c1"/>
<rect x="102.22" y="190.81" width="2.35" height="5.40" fill="#c1c1c1"/>
<rect x="105.92" y="190.81" width="2.35" height="5.40" fill="#c1c1c1"/>
<rect x="109.61" y="190.81" width="2.35" height="5.40" fill="#c1c1c1"/>
<rect x="113.31" y="190.81" width="2.35" height="5.40" fill="#c1c1c1"/>
<rect x="117.00" y="190.81" width="2.35" height="5.40" fill="#c1c1c1"/>
<rect x="120.70" y="190.81" width="2.35" height="5.40" fill="#c1c1c1"/>
<rect x="124.39" y="190.81" width="2.35" height="5.40" fill="#c1c1c1"/>
<rect x="128.09" y="190.81" width="2.35" height="5.40" fill="#c1c1c1"/>
<rect x="131.78" y="190.81" width="2.35" height="5.40" fill="#c1c1c1"/>
<rect x="135.48" y="190.81" width="2.35" height="5.40" fill="#c1c1c1"/>
<rect x="139.18" y="190.81" width="2.35" height="5.40" fill="#c1c1c1"/>
<rect x="142.87" y="190.81" width="2.35" height="5.40" fill="#b80c2e"/>
<rect x="146.56" y="190.81" width="2.35" height="5.40" fill="#c1c1c1"/>
<rect x="150.26" y="190.81" width="2.35" height="5.40" fill="#c1c1c1"/>
<rect x="153.95" y="190.81" width="2.35" height="5.40" fill="#c1c1c1"/>
<rect x="157.65" y="190.81" width="2.35" height="5.40" fill="#c1c1c1"/>
<rect x="161.34" y="190.81" width="2.35" height="5.40" fill="#c1c1c1"/>
<rect x="165.04" y="190.81" width="2.35" height="5.40" fill="#c1c1c1"/>
<rect x="168.73" y="190.81" width="2.35" height="5.40" fill="#c1c1c1"/>
<rect x="172.43" y="190.81" width="2.35" height="5.40" fill="#c1c1c1"/>
<rect x="176.12" y="190.81" width="2.35" height="5.40" fill="#c1c1c1"/>
<rect x="179.82" y="190.81" width="2.35" height="5.40" fill="#c1c1c1"/>
<rect x="183.51" y="190.81" width="2.35" height="5.40" fill="#c1c1c1"/>
<rect x="187.21" y="190.81" width="2.35" height="5.40" fill="#c1c1c1"/>
<rect x="190.90" y="190.81" width="2.35" height="5.40" fill="#c1c1c1"/>
<rect x="194.60" y="190.81" width="2.35" height="5.40" fill="#c1c1c1"/>
<rect x="198.30" y="190.81" width="2.35" height="5.40" fill="#c1c1c1"/>
<rect x="201.99" y="190.81" width="2.35" height="5.40" fill="#c1c1c1"/>
<rect x="205.69" y="190.81" width="2.35" height="5.40" fill="#c1c1c1"/>
<rect x="209.38" y="190.81" width="2.35" height="5.40" fill="#c1c1c1"/>
<rect x="213.07" y="190.81" width="2.35" height="5.40" fill="#c1c1c1"/>
<rect x="216.77" y="190.81" width="2.35" height="5.40" fill="#c1c1c1"/>
<rect x="220.46" y="190.81" width="2.35" height="5.40" fill="#c1c1c1"/>
<rect x="224.16" y="190.81" width="2.35" height="5.40" fill="#c1c1c1"/>
<rect x="227.85" y="190.81" width="2.35" height="5.40" fill="#c1c1c1"/>
<rect x="231.55" y="190.81" width="2.35" height="5.40" fill="#c1c1c1"/>
<rect x="235.25" y="190.81" width="2.35" height="5.40" fill="#c1c1c1"/>
<rect x="238.94" y="190.81" width="2.35" height="5.40" fill="#c1c1c1"/>
<rect x="242.63" y="190.81" width="2.35" height="5.40" fill="#b80c2e"/>
<rect x="246.33" y="190.81" width="2.35" height="5.40" fill="#c1c1c1"/>
<rect x="250.02" y="190.81" width="2.35" height="5.40" fill="#c1c1c1"/>
<rect x="253.72" y="190.81" width="2.35" height="5.40" fill="#c1c1c1"/>
<rect x="257.41" y="190.81" width="2.35" height="5.40" fill="#c1c1c1"/>
<rect x="261.11" y="190.81" width="2.35" height="5.40" fill="#c1c1c1"/>
<rect x="264.81" y="190.81" width="2.35" height="5.40" fill="#c1c1c1"/>
<rect x="268.50" y="190.81" width="2.35" height="5.40" fill="#c1c1c1"/>
<rect x="272.19" y="190.81" width="2.35" height="5.40" fill="#c1c1c1"/>
<rect x="275.89" y="190.81" width="2.35" height="5.40" fill="#c1c1c1"/>
<rect x="279.58" y="190.81" width="2.35" height="5.40" fill="#c1c1c1"/>
<rect x="283.28" y="190.81" width="2.35" height="5.40" fill="#c1c1c1"/>
<rect x="286.97" y="190.81" width="2.35" height="5.40" fill="#c1c1c1"/>
<rect x="290.67" y="190.81" width="2.35" height="5.40" fill="#c1c1c1"/>
<rect x="294.37" y="190.81" width="2.35" height="5.40" fill="#b80c2e"/>
<rect x="298.06" y="190.81" width="2.35" height="5.40" fill="#c1c1c1"/>
<rect x="301.75" y="190.81" width="2.35" height="5.40" fill="#c1c1c1"/>
<rect x="305.45" y="190.81" width="2.35" height="5.40" fill="#c1c1c1"/>
<rect x="309.14" y="190.81" width="2.35" height="5.40" fill="#c1c1c1"/>
<rect x="312.84" y="190.81" width="2.35" height="5.40" fill="#c1c1c1"/>
<rect x="316.54" y="190.81" width="2.35" height="5.40" fill="#c1c1c1"/>
<rect x="320.23" y="190.81" width="2.35" height="5.40" fill="#c1c1c1"/>
<rect x="323.93" y="190.81" width="2.35" height="5.40" fill="#c1c1c1"/>
<rect x="327.62" y="190.81" width="2.35" height="5.40" fill="#c1c1c1"/>
<rect x="331.31" y="190.81" width="2.35" height="5.40" fill="#c1c1c1"/>
<rect x="335.01" y="190.81" width="2.35" height="5.40" fill="#c1c1c1"/>
<rect x="338.70" y="190.81" width="2.35" height="5.40" fill="#c1c1c1"/>
<rect x="342.40" y="190.81" width="2.35" height="5.40" fill="#c1c1c1"/>
<rect x="346.09" y="190.81" width="2.35" height="5.40" fill="#c1c1c1"/>
<rect x="349.79" y="190.81" width="2.35" height="5.40" fill="#c1c1c1"/>
<rect x="353.49" y="190.81" width="2.35" height="5.40" fill="#c1c1c1"/>
<rect x="357.18" y="190.81" width="2.35" height="5.40" fill="#c1c1c1"/>
<rect x="360.88" y="190.81" width="2.35" height="5.40" fill="#c1c1c1"/>
<rect x="364.57" y="190.81" width="2.35" height="5.40" fill="#c1c1c1"/>
<rect x="368.26" y="190.81" width="2.35" height="5.40" fill="#c1c1c1"/>
<rect x="371.96" y="190.81" width="2.35" height="5.40" fill="#c1c1c1"/>
<rect x="375.65" y="190.81" width="2.35" height="5.40" fill="#c1c1c1"/>
<rect x="379.35" y="190.81" width="2.35" height="5.40" fill="#c1c1c1"/>
<rect x="383.05" y="190.81" width="2.35" height="5.40" fill="#c1c1c1"/>
<rect x="386.74" y="190.81" width="2.35" height="5.40" fill="#c1c1c1"/>
<rect x="390.44" y="190.81" width="2.35" height="5.40" fill="#c1c1c1"/>
<rect x="394.13" y="190.81" width="2.35" height="5.40" fill="#c1c1c1"/>
<rect x="397.82" y="190.81" width="2.35" height="5.40" fill="#c1c1c1"/>
<rect x="401.52" y="190.81" width="2.35" height="5.40" fill="#c1c1c1"/>
</g>
<text x="43.00" y="195.41" font-size="5.30" text-anchor="end" fill="#1c1c1c" font-style="italic">TET2</text>
<rect x="407.50" y="190.86" width="7.91" height="4.5" fill="#4a5363"/>
<g>
<rect x="46.80" y="197.97" width="2.35" height="5.40" fill="#c1c1c1"/>
<rect x="50.49" y="197.97" width="2.35" height="5.40" fill="#c1c1c1"/>
<rect x="54.19" y="197.97" width="2.35" height="5.40" fill="#c1c1c1"/>
<rect x="57.88" y="197.97" width="2.35" height="5.40" fill="#5b5b5b"/>
<rect x="61.58" y="197.97" width="2.35" height="5.40" fill="#c1c1c1"/>
<rect x="65.27" y="197.97" width="2.35" height="5.40" fill="#c1c1c1"/>
<rect x="68.97" y="197.97" width="2.35" height="5.40" fill="#c1c1c1"/>
<rect x="72.66" y="197.97" width="2.35" height="5.40" fill="#5b5b5b"/>
<rect x="76.36" y="197.97" width="2.35" height="5.40" fill="#c1c1c1"/>
<rect x="80.05" y="197.97" width="2.35" height="5.40" fill="#c1c1c1"/>
<rect x="83.75" y="197.97" width="2.35" height="5.40" fill="#c1c1c1"/>
<rect x="87.44" y="197.97" width="2.35" height="5.40" fill="#c1c1c1"/>
<rect x="91.14" y="197.97" width="2.35" height="5.40" fill="#c1c1c1"/>
<rect x="94.83" y="197.97" width="2.35" height="5.40" fill="#c1c1c1"/>
<rect x="98.53" y="197.97" width="2.35" height="5.40" fill="#c1c1c1"/>
<rect x="102.22" y="197.97" width="2.35" height="5.40" fill="#c1c1c1"/>
<rect x="105.92" y="197.97" width="2.35" height="5.40" fill="#c1c1c1"/>
<rect x="109.61" y="197.97" width="2.35" height="5.40" fill="#c1c1c1"/>
<rect x="113.31" y="197.97" width="2.35" height="5.40" fill="#c1c1c1"/>
<rect x="117.00" y="197.97" width="2.35" height="5.40" fill="#c1c1c1"/>
<rect x="120.70" y="197.97" width="2.35" height="5.40" fill="#c1c1c1"/>
<rect x="124.39" y="197.97" width="2.35" height="5.40" fill="#c1c1c1"/>
<rect x="128.09" y="197.97" width="2.35" height="5.40" fill="#c1c1c1"/>
<rect x="131.78" y="197.97" width="2.35" height="5.40" fill="#c1c1c1"/>
<rect x="135.48" y="197.97" width="2.35" height="5.40" fill="#c1c1c1"/>
<rect x="139.18" y="197.97" width="2.35" height="5.40" fill="#c1c1c1"/>
<rect x="142.87" y="197.97" width="2.35" height="5.40" fill="#5b5b5b"/>
<rect x="146.56" y="197.97" width="2.35" height="5.40" fill="#c1c1c1"/>
<rect x="150.26" y="197.97" width="2.35" height="5.40" fill="#c1c1c1"/>
<rect x="153.95" y="197.97" width="2.35" height="5.40" fill="#c1c1c1"/>
<rect x="157.65" y="197.97" width="2.35" height="5.40" fill="#c1c1c1"/>
<rect x="161.34" y="197.97" width="2.35" height="5.40" fill="#5b5b5b"/>
<rect x="165.04" y="197.97" width="2.35" height="5.40" fill="#c1c1c1"/>
<rect x="168.73" y="197.97" width="2.35" height="5.40" fill="#5b5b5b"/>
<rect x="172.43" y="197.97" width="2.35" height="5.40" fill="#c1c1c1"/>
<rect x="176.12" y="197.97" width="2.35" height="5.40" fill="#c1c1c1"/>
<rect x="179.82" y="197.97" width="2.35" height="5.40" fill="#c1c1c1"/>
<rect x="183.51" y="197.97" width="2.35" height="5.40" fill="#c1c1c1"/>
<rect x="187.21" y="197.97" width="2.35" height="5.40" fill="#c1c1c1"/>
<rect x="190.90" y="197.97" width="2.35" height="5.40" fill="#c1c1c1"/>
<rect x="194.60" y="197.97" width="2.35" height="5.40" fill="#c1c1c1"/>
<rect x="198.30" y="197.97" width="2.35" height="5.40" fill="#c1c1c1"/>
<rect x="201.99" y="197.97" width="2.35" height="5.40" fill="#c1c1c1"/>
<rect x="205.69" y="197.97" width="2.35" height="5.40" fill="#c1c1c1"/>
<rect x="209.38" y="197.97" width="2.35" height="5.40" fill="#c1c1c1"/>
<rect x="213.07" y="197.97" width="2.35" height="5.40" fill="#c1c1c1"/>
<rect x="216.77" y="197.97" width="2.35" height="5.40" fill="#c1c1c1"/>
<rect x="220.46" y="197.97" width="2.35" height="5.40" fill="#c1c1c1"/>
<rect x="224.16" y="197.97" width="2.35" height="5.40" fill="#5b5b5b"/>
<rect x="227.85" y="197.97" width="2.35" height="5.40" fill="#c1c1c1"/>
<rect x="231.55" y="197.97" width="2.35" height="5.40" fill="#c1c1c1"/>
<rect x="235.25" y="197.97" width="2.35" height="5.40" fill="#c1c1c1"/>
<rect x="238.94" y="197.97" width="2.35" height="5.40" fill="#5b5b5b"/>
<rect x="242.63" y="197.97" width="2.35" height="5.40" fill="#5b5b5b"/>
<rect x="246.33" y="197.97" width="2.35" height="5.40" fill="#c1c1c1"/>
<rect x="250.02" y="197.97" width="2.35" height="5.40" fill="#c1c1c1"/>
<rect x="253.72" y="197.97" width="2.35" height="5.40" fill="#c1c1c1"/>
<rect x="257.41" y="197.97" width="2.35" height="5.40" fill="#c1c1c1"/>
<rect x="261.11" y="197.97" width="2.35" height="5.40" fill="#c1c1c1"/>
<rect x="264.81" y="197.97" width="2.35" height="5.40" fill="#c1c1c1"/>
<rect x="268.50" y="197.97" width="2.35" height="5.40" fill="#c1c1c1"/>
<rect x="272.19" y="197.97" width="2.35" height="5.40" fill="#c1c1c1"/>
<rect x="275.89" y="197.97" width="2.35" height="5.40" fill="#c1c1c1"/>
<rect x="279.58" y="197.97" width="2.35" height="5.40" fill="#c1c1c1"/>
<rect x="283.28" y="197.97" width="2.35" height="5.40" fill="#5b5b5b"/>
<rect x="286.97" y="197.97" width="2.35" height="5.40" fill="#c1c1c1"/>
<rect x="290.67" y="197.97" width="2.35" height="5.40" fill="#c1c1c1"/>
<rect x="294.37" y="197.97" width="2.35" height="5.40" fill="#5b5b5b"/>
<rect x="298.06" y="197.97" width="2.35" height="5.40" fill="#5b5b5b"/>
<rect x="301.75" y="197.97" width="2.35" height="5.40" fill="#c1c1c1"/>
<rect x="305.45" y="197.97" width="2.35" height="5.40" fill="#c1c1c1"/>
<rect x="309.14" y="197.97" width="2.35" height="5.40" fill="#c1c1c1"/>
<rect x="312.84" y="197.97" width="2.35" height="5.40" fill="#c1c1c1"/>
<rect x="316.54" y="197.97" width="2.35" height="5.40" fill="#c1c1c1"/>
<rect x="320.23" y="197.97" width="2.35" height="5.40" fill="#c1c1c1"/>
<rect x="323.93" y="197.97" width="2.35" height="5.40" fill="#c1c1c1"/>
<rect x="327.62" y="197.97" width="2.35" height="5.40" fill="#c1c1c1"/>
<rect x="331.31" y="197.97" width="2.35" height="5.40" fill="#c1c1c1"/>
<rect x="335.01" y="197.97" width="2.35" height="5.40" fill="#c1c1c1"/>
<rect x="338.70" y="197.97" width="2.35" height="5.40" fill="#c1c1c1"/>
<rect x="342.40" y="197.97" width="2.35" height="5.40" fill="#c1c1c1"/>
<rect x="346.09" y="197.97" width="2.35" height="5.40" fill="#c1c1c1"/>
<rect x="349.79" y="197.97" width="2.35" height="5.40" fill="#c1c1c1"/>
<rect x="353.49" y="197.97" width="2.35" height="5.40" fill="#c1c1c1"/>
<rect x="357.18" y="197.97" width="2.35" height="5.40" fill="#c1c1c1"/>
<rect x="360.88" y="197.97" width="2.35" height="5.40" fill="#c1c1c1"/>
<rect x="364.57" y="197.97" width="2.35" height="5.40" fill="#c1c1c1"/>
<rect x="368.26" y="197.97" width="2.35" height="5.40" fill="#c1c1c1"/>
<rect x="371.96" y="197.97" width="2.35" height="5.40" fill="#c1c1c1"/>
<rect x="375.65" y="197.97" width="2.35" height="5.40" fill="#c1c1c1"/>
<rect x="379.35" y="197.97" width="2.35" height="5.40" fill="#c1c1c1"/>
<rect x="383.05" y="197.97" width="2.35" height="5.40" fill="#c1c1c1"/>
<rect x="386.74" y="197.97" width="2.35" height="5.40" fill="#c1c1c1"/>
<rect x="390.44" y="197.97" width="2.35" height="5.40" fill="#c1c1c1"/>
<rect x="394.13" y="197.97" width="2.35" height="5.40" fill="#c1c1c1"/>
<rect x="397.82" y="197.97" width="2.35" height="5.40" fill="#c1c1c1"/>
<rect x="401.52" y="197.97" width="2.35" height="5.40" fill="#c1c1c1"/>
</g>
<text x="43.00" y="202.57" font-size="5.60" text-anchor="end" fill="#1c1c1c" font-style="italic">epigenetic</text>
<rect x="407.50" y="198.02" width="28.99" height="4.5" fill="#4a5363"/>
<g>
<rect x="46.80" y="212.31" width="2.35" height="5.40" fill="#c1c1c1"/>
<rect x="50.49" y="212.31" width="2.35" height="5.40" fill="#c1c1c1"/>
<rect x="54.19" y="212.31" width="2.35" height="5.40" fill="#c1c1c1"/>
<rect x="57.88" y="212.31" width="2.35" height="5.40" fill="#c1c1c1"/>
<rect x="61.58" y="212.31" width="2.35" height="5.40" fill="#c1c1c1"/>
<rect x="65.27" y="212.31" width="2.35" height="5.40" fill="#c1c1c1"/>
<rect x="68.97" y="212.31" width="2.35" height="5.40" fill="#c1c1c1"/>
<rect x="72.66" y="212.31" width="2.35" height="5.40" fill="#c1c1c1"/>
<rect x="76.36" y="212.31" width="2.35" height="5.40" fill="#c1c1c1"/>
<rect x="80.05" y="212.31" width="2.35" height="5.40" fill="#c1c1c1"/>
<rect x="83.75" y="212.31" width="2.35" height="5.40" fill="#c1c1c1"/>
<rect x="87.44" y="212.31" width="2.35" height="5.40" fill="#c1c1c1"/>
<rect x="91.14" y="212.31" width="2.35" height="5.40" fill="#c1c1c1"/>
<rect x="94.83" y="212.31" width="2.35" height="5.40" fill="#c1c1c1"/>
<rect x="98.53" y="212.31" width="2.35" height="5.40" fill="#c1c1c1"/>
<rect x="102.22" y="212.31" width="2.35" height="5.40" fill="#c1c1c1"/>
<rect x="105.92" y="212.31" width="2.35" height="5.40" fill="#c1c1c1"/>
<rect x="109.61" y="212.31" width="2.35" height="5.40" fill="#c1c1c1"/>
<rect x="113.31" y="212.31" width="2.35" height="5.40" fill="#c1c1c1"/>
<rect x="117.00" y="212.31" width="2.35" height="5.40" fill="#c1c1c1"/>
<rect x="120.70" y="212.31" width="2.35" height="5.40" fill="#c1c1c1"/>
<rect x="124.39" y="212.31" width="2.35" height="5.40" fill="#c1c1c1"/>
<rect x="128.09" y="212.31" width="2.35" height="5.40" fill="#c1c1c1"/>
<rect x="131.78" y="212.31" width="2.35" height="5.40" fill="#c1c1c1"/>
<rect x="135.48" y="212.31" width="2.35" height="5.40" fill="#c1c1c1"/>
<rect x="139.18" y="212.31" width="2.35" height="5.40" fill="#c1c1c1"/>
<rect x="142.87" y="212.31" width="2.35" height="5.40" fill="#c1c1c1"/>
<rect x="146.56" y="212.31" width="2.35" height="5.40" fill="#c1c1c1"/>
<rect x="150.26" y="212.31" width="2.35" height="5.40" fill="#c1c1c1"/>
<rect x="153.95" y="212.31" width="2.35" height="5.40" fill="#c1c1c1"/>
<rect x="157.65" y="212.31" width="2.35" height="5.40" fill="#c1c1c1"/>
<rect x="161.34" y="212.31" width="2.35" height="5.40" fill="#c1c1c1"/>
<rect x="165.04" y="212.31" width="2.35" height="5.40" fill="#c1c1c1"/>
<rect x="168.73" y="212.31" width="2.35" height="5.40" fill="#c1c1c1"/>
<rect x="172.43" y="212.31" width="2.35" height="5.40" fill="#c1c1c1"/>
<rect x="176.12" y="212.31" width="2.35" height="5.40" fill="#c1c1c1"/>
<rect x="179.82" y="212.31" width="2.35" height="5.40" fill="#c1c1c1"/>
<rect x="183.51" y="212.31" width="2.35" height="5.40" fill="#c1c1c1"/>
<rect x="187.21" y="212.31" width="2.35" height="5.40" fill="#c1c1c1"/>
<rect x="190.90" y="212.31" width="2.35" height="5.40" fill="#c1c1c1"/>
<rect x="194.60" y="212.31" width="2.35" height="5.40" fill="#c1c1c1"/>
<rect x="198.30" y="212.31" width="2.35" height="5.40" fill="#c1c1c1"/>
<rect x="201.99" y="212.31" width="2.35" height="5.40" fill="#c1c1c1"/>
<rect x="205.69" y="212.31" width="2.35" height="5.40" fill="#c1c1c1"/>
<rect x="209.38" y="212.31" width="2.35" height="5.40" fill="#c1c1c1"/>
<rect x="213.07" y="212.31" width="2.35" height="5.40" fill="#c1c1c1"/>
<rect x="216.77" y="212.31" width="2.35" height="5.40" fill="#c1c1c1"/>
<rect x="220.46" y="212.31" width="2.35" height="5.40" fill="#c1c1c1"/>
<rect x="224.16" y="212.31" width="2.35" height="5.40" fill="#c1c1c1"/>
<rect x="227.85" y="212.31" width="2.35" height="5.40" fill="#c1c1c1"/>
<rect x="231.55" y="212.31" width="2.35" height="5.40" fill="#c1c1c1"/>
<rect x="235.25" y="212.31" width="2.35" height="5.40" fill="#c1c1c1"/>
<rect x="238.94" y="212.31" width="2.35" height="5.40" fill="#c1c1c1"/>
<rect x="242.63" y="212.31" width="2.35" height="5.40" fill="#c1c1c1"/>
<rect x="246.33" y="212.31" width="2.35" height="5.40" fill="#c1c1c1"/>
<rect x="250.02" y="212.31" width="2.35" height="5.40" fill="#c1c1c1"/>
<rect x="253.72" y="212.31" width="2.35" height="5.40" fill="#c1c1c1"/>
<rect x="257.41" y="212.31" width="2.35" height="5.40" fill="#c1c1c1"/>
<rect x="261.11" y="212.31" width="2.35" height="5.40" fill="#c1c1c1"/>
<rect x="264.81" y="212.31" width="2.35" height="5.40" fill="#c1c1c1"/>
<rect x="268.50" y="212.31" width="2.35" height="5.40" fill="#c1c1c1"/>
<rect x="272.19" y="212.31" width="2.35" height="5.40" fill="#c1c1c1"/>
<rect x="275.89" y="212.31" width="2.35" height="5.40" fill="#c1c1c1"/>
<rect x="279.58" y="212.31" width="2.35" height="5.40" fill="#c1c1c1"/>
<rect x="283.28" y="212.31" width="2.35" height="5.40" fill="#c1c1c1"/>
<rect x="286.97" y="212.31" width="2.35" height="5.40" fill="#c1c1c1"/>
<rect x="290.67" y="212.31" width="2.35" height="5.40" fill="#c1c1c1"/>
<rect x="294.37" y="212.31" width="2.35" height="5.40" fill="#b80c2e"/>
<rect x="298.06" y="212.31" width="2.35" height="5.40" fill="#c1c1c1"/>
<rect x="301.75" y="212.31" width="2.35" height="5.40" fill="#c1c1c1"/>
<rect x="305.45" y="212.31" width="2.35" height="5.40" fill="#c1c1c1"/>
<rect x="309.14" y="212.31" width="2.35" height="5.40" fill="#c1c1c1"/>
<rect x="312.84" y="212.31" width="2.35" height="5.40" fill="#c1c1c1"/>
<rect x="316.54" y="212.31" width="2.35" height="5.40" fill="#c1c1c1"/>
<rect x="320.23" y="212.31" width="2.35" height="5.40" fill="#c1c1c1"/>
<rect x="323.93" y="212.31" width="2.35" height="5.40" fill="#c1c1c1"/>
<rect x="327.62" y="212.31" width="2.35" height="5.40" fill="#c1c1c1"/>
<rect x="331.31" y="212.31" width="2.35" height="5.40" fill="#c1c1c1"/>
<rect x="335.01" y="212.31" width="2.35" height="5.40" fill="#c1c1c1"/>
<rect x="338.70" y="212.31" width="2.35" height="5.40" fill="#c1c1c1"/>
<rect x="342.40" y="212.31" width="2.35" height="5.40" fill="#c1c1c1"/>
<rect x="346.09" y="212.31" width="2.35" height="5.40" fill="#c1c1c1"/>
<rect x="349.79" y="212.31" width="2.35" height="5.40" fill="#c1c1c1"/>
<rect x="353.49" y="212.31" width="2.35" height="5.40" fill="#c1c1c1"/>
<rect x="357.18" y="212.31" width="2.35" height="5.40" fill="#c1c1c1"/>
<rect x="360.88" y="212.31" width="2.35" height="5.40" fill="#c1c1c1"/>
<rect x="364.57" y="212.31" width="2.35" height="5.40" fill="#c1c1c1"/>
<rect x="368.26" y="212.31" width="2.35" height="5.40" fill="#c1c1c1"/>
<rect x="371.96" y="212.31" width="2.35" height="5.40" fill="#c1c1c1"/>
<rect x="375.65" y="212.31" width="2.35" height="5.40" fill="#c1c1c1"/>
<rect x="379.35" y="212.31" width="2.35" height="5.40" fill="#c1c1c1"/>
<rect x="383.05" y="212.31" width="2.35" height="5.40" fill="#c1c1c1"/>
<rect x="386.74" y="212.31" width="2.35" height="5.40" fill="#c1c1c1"/>
<rect x="390.44" y="212.31" width="2.35" height="5.40" fill="#c1c1c1"/>
<rect x="394.13" y="212.31" width="2.35" height="5.40" fill="#c1c1c1"/>
<rect x="397.82" y="212.31" width="2.35" height="5.40" fill="#c1c1c1"/>
<rect x="401.52" y="212.31" width="2.35" height="5.40" fill="#c1c1c1"/>
</g>
<text x="43.00" y="216.91" font-size="5.30" text-anchor="end" fill="#1c1c1c" font-style="italic">BTLA</text>
<rect x="407.50" y="212.36" width="2.64" height="4.5" fill="#4a5363"/>
<g>
<rect x="46.80" y="219.48" width="2.35" height="5.40" fill="#c1c1c1"/>
<rect x="50.49" y="219.48" width="2.35" height="5.40" fill="#c1c1c1"/>
<rect x="54.19" y="219.48" width="2.35" height="5.40" fill="#c1c1c1"/>
<rect x="57.88" y="219.48" width="2.35" height="5.40" fill="#c1c1c1"/>
<rect x="61.58" y="219.48" width="2.35" height="5.40" fill="#c1c1c1"/>
<rect x="65.27" y="219.48" width="2.35" height="5.40" fill="#c1c1c1"/>
<rect x="68.97" y="219.48" width="2.35" height="5.40" fill="#c1c1c1"/>
<rect x="72.66" y="219.48" width="2.35" height="5.40" fill="#c1c1c1"/>
<rect x="76.36" y="219.48" width="2.35" height="5.40" fill="#c1c1c1"/>
<rect x="80.05" y="219.48" width="2.35" height="5.40" fill="#c1c1c1"/>
<rect x="83.75" y="219.48" width="2.35" height="5.40" fill="#c1c1c1"/>
<rect x="87.44" y="219.48" width="2.35" height="5.40" fill="#c1c1c1"/>
<rect x="91.14" y="219.48" width="2.35" height="5.40" fill="#c1c1c1"/>
<rect x="94.83" y="219.48" width="2.35" height="5.40" fill="#c1c1c1"/>
<rect x="98.53" y="219.48" width="2.35" height="5.40" fill="#c1c1c1"/>
<rect x="102.22" y="219.48" width="2.35" height="5.40" fill="#c1c1c1"/>
<rect x="105.92" y="219.48" width="2.35" height="5.40" fill="#c1c1c1"/>
<rect x="109.61" y="219.48" width="2.35" height="5.40" fill="#c1c1c1"/>
<rect x="113.31" y="219.48" width="2.35" height="5.40" fill="#c1c1c1"/>
<rect x="117.00" y="219.48" width="2.35" height="5.40" fill="#c1c1c1"/>
<rect x="120.70" y="219.48" width="2.35" height="5.40" fill="#c1c1c1"/>
<rect x="124.39" y="219.48" width="2.35" height="5.40" fill="#c1c1c1"/>
<rect x="128.09" y="219.48" width="2.35" height="5.40" fill="#c1c1c1"/>
<rect x="131.78" y="219.48" width="2.35" height="5.40" fill="#c1c1c1"/>
<rect x="135.48" y="219.48" width="2.35" height="5.40" fill="#c1c1c1"/>
<rect x="139.18" y="219.48" width="2.35" height="5.40" fill="#c1c1c1"/>
<rect x="142.87" y="219.48" width="2.35" height="5.40" fill="#c1c1c1"/>
<rect x="146.56" y="219.48" width="2.35" height="5.40" fill="#c1c1c1"/>
<rect x="150.26" y="219.48" width="2.35" height="5.40" fill="#c1c1c1"/>
<rect x="153.95" y="219.48" width="2.35" height="5.40" fill="#c1c1c1"/>
<rect x="157.65" y="219.48" width="2.35" height="5.40" fill="#c1c1c1"/>
<rect x="161.34" y="219.48" width="2.35" height="5.40" fill="#c1c1c1"/>
<rect x="165.04" y="219.48" width="2.35" height="5.40" fill="#c1c1c1"/>
<rect x="168.73" y="219.48" width="2.35" height="5.40" fill="#c1c1c1"/>
<rect x="172.43" y="219.48" width="2.35" height="5.40" fill="#c1c1c1"/>
<rect x="176.12" y="219.48" width="2.35" height="5.40" fill="#c1c1c1"/>
<rect x="179.82" y="219.48" width="2.35" height="5.40" fill="#c1c1c1"/>
<rect x="183.51" y="219.48" width="2.35" height="5.40" fill="#c1c1c1"/>
<rect x="187.21" y="219.48" width="2.35" height="5.40" fill="#c1c1c1"/>
<rect x="190.90" y="219.48" width="2.35" height="5.40" fill="#c1c1c1"/>
<rect x="194.60" y="219.48" width="2.35" height="5.40" fill="#c1c1c1"/>
<rect x="198.30" y="219.48" width="2.35" height="5.40" fill="#c1c1c1"/>
<rect x="201.99" y="219.48" width="2.35" height="5.40" fill="#c1c1c1"/>
<rect x="205.69" y="219.48" width="2.35" height="5.40" fill="#c1c1c1"/>
<rect x="209.38" y="219.48" width="2.35" height="5.40" fill="#c1c1c1"/>
<rect x="213.07" y="219.48" width="2.35" height="5.40" fill="#c1c1c1"/>
<rect x="216.77" y="219.48" width="2.35" height="5.40" fill="#c1c1c1"/>
<rect x="220.46" y="219.48" width="2.35" height="5.40" fill="#c1c1c1"/>
<rect x="224.16" y="219.48" width="2.35" height="5.40" fill="#c1c1c1"/>
<rect x="227.85" y="219.48" width="2.35" height="5.40" fill="#c1c1c1"/>
<rect x="231.55" y="219.48" width="2.35" height="5.40" fill="#c1c1c1"/>
<rect x="235.25" y="219.48" width="2.35" height="5.40" fill="#c1c1c1"/>
<rect x="238.94" y="219.48" width="2.35" height="5.40" fill="#c1c1c1"/>
<rect x="242.63" y="219.48" width="2.35" height="5.40" fill="#c1c1c1"/>
<rect x="246.33" y="219.48" width="2.35" height="5.40" fill="#c1c1c1"/>
<rect x="250.02" y="219.48" width="2.35" height="5.40" fill="#c1c1c1"/>
<rect x="253.72" y="219.48" width="2.35" height="5.40" fill="#c1c1c1"/>
<rect x="257.41" y="219.48" width="2.35" height="5.40" fill="#c1c1c1"/>
<rect x="261.11" y="219.48" width="2.35" height="5.40" fill="#c1c1c1"/>
<rect x="264.81" y="219.48" width="2.35" height="5.40" fill="#c1c1c1"/>
<rect x="268.50" y="219.48" width="2.35" height="5.40" fill="#c1c1c1"/>
<rect x="272.19" y="219.48" width="2.35" height="5.40" fill="#c1c1c1"/>
<rect x="275.89" y="219.48" width="2.35" height="5.40" fill="#c1c1c1"/>
<rect x="279.58" y="219.48" width="2.35" height="5.40" fill="#c1c1c1"/>
<rect x="283.28" y="219.48" width="2.35" height="5.40" fill="#c1c1c1"/>
<rect x="286.97" y="219.48" width="2.35" height="5.40" fill="#c1c1c1"/>
<rect x="290.67" y="219.48" width="2.35" height="5.40" fill="#c1c1c1"/>
<rect x="294.37" y="219.48" width="2.35" height="5.40" fill="#c1c1c1"/>
<rect x="298.06" y="219.48" width="2.35" height="5.40" fill="#c1c1c1"/>
<rect x="301.75" y="219.48" width="2.35" height="5.40" fill="#c1c1c1"/>
<rect x="305.45" y="219.48" width="2.35" height="5.40" fill="#c1c1c1"/>
<rect x="309.14" y="219.48" width="2.35" height="5.40" fill="#c1c1c1"/>
<rect x="312.84" y="219.48" width="2.35" height="5.40" fill="#c1c1c1"/>
<rect x="316.54" y="219.48" width="2.35" height="5.40" fill="#c1c1c1"/>
<rect x="320.23" y="219.48" width="2.35" height="5.40" fill="#c1c1c1"/>
<rect x="323.93" y="219.48" width="2.35" height="5.40" fill="#c1c1c1"/>
<rect x="327.62" y="219.48" width="2.35" height="5.40" fill="#c1c1c1"/>
<rect x="331.31" y="219.48" width="2.35" height="5.40" fill="#b80c2e"/>
<rect x="335.01" y="219.48" width="2.35" height="5.40" fill="#c1c1c1"/>
<rect x="338.70" y="219.48" width="2.35" height="5.40" fill="#c1c1c1"/>
<rect x="342.40" y="219.48" width="2.35" height="5.40" fill="#c1c1c1"/>
<rect x="346.09" y="219.48" width="2.35" height="5.40" fill="#c1c1c1"/>
<rect x="349.79" y="219.48" width="2.35" height="5.40" fill="#c1c1c1"/>
<rect x="353.49" y="219.48" width="2.35" height="5.40" fill="#c1c1c1"/>
<rect x="357.18" y="219.48" width="2.35" height="5.40" fill="#c1c1c1"/>
<rect x="360.88" y="219.48" width="2.35" height="5.40" fill="#c1c1c1"/>
<rect x="364.57" y="219.48" width="2.35" height="5.40" fill="#c1c1c1"/>
<rect x="368.26" y="219.48" width="2.35" height="5.40" fill="#c1c1c1"/>
<rect x="371.96" y="219.48" width="2.35" height="5.40" fill="#c1c1c1"/>
<rect x="375.65" y="219.48" width="2.35" height="5.40" fill="#c1c1c1"/>
<rect x="379.35" y="219.48" width="2.35" height="5.40" fill="#c1c1c1"/>
<rect x="383.05" y="219.48" width="2.35" height="5.40" fill="#c1c1c1"/>
<rect x="386.74" y="219.48" width="2.35" height="5.40" fill="#c1c1c1"/>
<rect x="390.44" y="219.48" width="2.35" height="5.40" fill="#c1c1c1"/>
<rect x="394.13" y="219.48" width="2.35" height="5.40" fill="#c1c1c1"/>
<rect x="397.82" y="219.48" width="2.35" height="5.40" fill="#c1c1c1"/>
<rect x="401.52" y="219.48" width="2.35" height="5.40" fill="#c1c1c1"/>
</g>
<text x="43.00" y="224.08" font-size="5.30" text-anchor="end" fill="#1c1c1c" font-style="italic">CD36</text>
<rect x="407.50" y="219.53" width="2.64" height="4.5" fill="#4a5363"/>
<g>
<rect x="46.80" y="226.64" width="2.35" height="5.40" fill="#c1c1c1"/>
<rect x="50.49" y="226.64" width="2.35" height="5.40" fill="#c1c1c1"/>
<rect x="54.19" y="226.64" width="2.35" height="5.40" fill="#c1c1c1"/>
<rect x="57.88" y="226.64" width="2.35" height="5.40" fill="#c1c1c1"/>
<rect x="61.58" y="226.64" width="2.35" height="5.40" fill="#c1c1c1"/>
<rect x="65.27" y="226.64" width="2.35" height="5.40" fill="#c1c1c1"/>
<rect x="68.97" y="226.64" width="2.35" height="5.40" fill="#c1c1c1"/>
<rect x="72.66" y="226.64" width="2.35" height="5.40" fill="#c1c1c1"/>
<rect x="76.36" y="226.64" width="2.35" height="5.40" fill="#c1c1c1"/>
<rect x="80.05" y="226.64" width="2.35" height="5.40" fill="#c1c1c1"/>
<rect x="83.75" y="226.64" width="2.35" height="5.40" fill="#c1c1c1"/>
<rect x="87.44" y="226.64" width="2.35" height="5.40" fill="#c1c1c1"/>
<rect x="91.14" y="226.64" width="2.35" height="5.40" fill="#c1c1c1"/>
<rect x="94.83" y="226.64" width="2.35" height="5.40" fill="#c1c1c1"/>
<rect x="98.53" y="226.64" width="2.35" height="5.40" fill="#c1c1c1"/>
<rect x="102.22" y="226.64" width="2.35" height="5.40" fill="#c1c1c1"/>
<rect x="105.92" y="226.64" width="2.35" height="5.40" fill="#c1c1c1"/>
<rect x="109.61" y="226.64" width="2.35" height="5.40" fill="#c1c1c1"/>
<rect x="113.31" y="226.64" width="2.35" height="5.40" fill="#c1c1c1"/>
<rect x="117.00" y="226.64" width="2.35" height="5.40" fill="#c1c1c1"/>
<rect x="120.70" y="226.64" width="2.35" height="5.40" fill="#c1c1c1"/>
<rect x="124.39" y="226.64" width="2.35" height="5.40" fill="#c1c1c1"/>
<rect x="128.09" y="226.64" width="2.35" height="5.40" fill="#c1c1c1"/>
<rect x="131.78" y="226.64" width="2.35" height="5.40" fill="#c1c1c1"/>
<rect x="135.48" y="226.64" width="2.35" height="5.40" fill="#c1c1c1"/>
<rect x="139.18" y="226.64" width="2.35" height="5.40" fill="#c1c1c1"/>
<rect x="142.87" y="226.64" width="2.35" height="5.40" fill="#c1c1c1"/>
<rect x="146.56" y="226.64" width="2.35" height="5.40" fill="#c1c1c1"/>
<rect x="150.26" y="226.64" width="2.35" height="5.40" fill="#c1c1c1"/>
<rect x="153.95" y="226.64" width="2.35" height="5.40" fill="#c1c1c1"/>
<rect x="157.65" y="226.64" width="2.35" height="5.40" fill="#c1c1c1"/>
<rect x="161.34" y="226.64" width="2.35" height="5.40" fill="#c1c1c1"/>
<rect x="165.04" y="226.64" width="2.35" height="5.40" fill="#c1c1c1"/>
<rect x="168.73" y="226.64" width="2.35" height="5.40" fill="#c1c1c1"/>
<rect x="172.43" y="226.64" width="2.35" height="5.40" fill="#c1c1c1"/>
<rect x="176.12" y="226.64" width="2.35" height="5.40" fill="#c1c1c1"/>
<rect x="179.82" y="226.64" width="2.35" height="5.40" fill="#c1c1c1"/>
<rect x="183.51" y="226.64" width="2.35" height="5.40" fill="#c1c1c1"/>
<rect x="187.21" y="226.64" width="2.35" height="5.40" fill="#c1c1c1"/>
<rect x="190.90" y="226.64" width="2.35" height="5.40" fill="#c1c1c1"/>
<rect x="194.60" y="226.64" width="2.35" height="5.40" fill="#c1c1c1"/>
<rect x="198.30" y="226.64" width="2.35" height="5.40" fill="#c1c1c1"/>
<rect x="201.99" y="226.64" width="2.35" height="5.40" fill="#c1c1c1"/>
<rect x="205.69" y="226.64" width="2.35" height="5.40" fill="#c1c1c1"/>
<rect x="209.38" y="226.64" width="2.35" height="5.40" fill="#c1c1c1"/>
<rect x="213.07" y="226.64" width="2.35" height="5.40" fill="#c1c1c1"/>
<rect x="216.77" y="226.64" width="2.35" height="5.40" fill="#c1c1c1"/>
<rect x="220.46" y="226.64" width="2.35" height="5.40" fill="#c1c1c1"/>
<rect x="224.16" y="226.64" width="2.35" height="5.40" fill="#c1c1c1"/>
<rect x="227.85" y="226.64" width="2.35" height="5.40" fill="#c1c1c1"/>
<rect x="231.55" y="226.64" width="2.35" height="5.40" fill="#c1c1c1"/>
<rect x="235.25" y="226.64" width="2.35" height="5.40" fill="#c1c1c1"/>
<rect x="238.94" y="226.64" width="2.35" height="5.40" fill="#b80c2e"/>
<rect x="242.63" y="226.64" width="2.35" height="5.40" fill="#c1c1c1"/>
<rect x="246.33" y="226.64" width="2.35" height="5.40" fill="#c1c1c1"/>
<rect x="250.02" y="226.64" width="2.35" height="5.40" fill="#c1c1c1"/>
<rect x="253.72" y="226.64" width="2.35" height="5.40" fill="#c1c1c1"/>
<rect x="257.41" y="226.64" width="2.35" height="5.40" fill="#c1c1c1"/>
<rect x="261.11" y="226.64" width="2.35" height="5.40" fill="#c1c1c1"/>
<rect x="264.81" y="226.64" width="2.35" height="5.40" fill="#c1c1c1"/>
<rect x="268.50" y="226.64" width="2.35" height="5.40" fill="#c1c1c1"/>
<rect x="272.19" y="226.64" width="2.35" height="5.40" fill="#c1c1c1"/>
<rect x="275.89" y="226.64" width="2.35" height="5.40" fill="#c1c1c1"/>
<rect x="279.58" y="226.64" width="2.35" height="5.40" fill="#c1c1c1"/>
<rect x="283.28" y="226.64" width="2.35" height="5.40" fill="#b80c2e"/>
<rect x="286.97" y="226.64" width="2.35" height="5.40" fill="#c1c1c1"/>
<rect x="290.67" y="226.64" width="2.35" height="5.40" fill="#c1c1c1"/>
<rect x="294.37" y="226.64" width="2.35" height="5.40" fill="#c1c1c1"/>
<rect x="298.06" y="226.64" width="2.35" height="5.40" fill="#c1c1c1"/>
<rect x="301.75" y="226.64" width="2.35" height="5.40" fill="#c1c1c1"/>
<rect x="305.45" y="226.64" width="2.35" height="5.40" fill="#c1c1c1"/>
<rect x="309.14" y="226.64" width="2.35" height="5.40" fill="#c1c1c1"/>
<rect x="312.84" y="226.64" width="2.35" height="5.40" fill="#c1c1c1"/>
<rect x="316.54" y="226.64" width="2.35" height="5.40" fill="#c1c1c1"/>
<rect x="320.23" y="226.64" width="2.35" height="5.40" fill="#c1c1c1"/>
<rect x="323.93" y="226.64" width="2.35" height="5.40" fill="#c1c1c1"/>
<rect x="327.62" y="226.64" width="2.35" height="5.40" fill="#c1c1c1"/>
<rect x="331.31" y="226.64" width="2.35" height="5.40" fill="#c1c1c1"/>
<rect x="335.01" y="226.64" width="2.35" height="5.40" fill="#c1c1c1"/>
<rect x="338.70" y="226.64" width="2.35" height="5.40" fill="#c1c1c1"/>
<rect x="342.40" y="226.64" width="2.35" height="5.40" fill="#c1c1c1"/>
<rect x="346.09" y="226.64" width="2.35" height="5.40" fill="#c1c1c1"/>
<rect x="349.79" y="226.64" width="2.35" height="5.40" fill="#c1c1c1"/>
<rect x="353.49" y="226.64" width="2.35" height="5.40" fill="#c1c1c1"/>
<rect x="357.18" y="226.64" width="2.35" height="5.40" fill="#c1c1c1"/>
<rect x="360.88" y="226.64" width="2.35" height="5.40" fill="#c1c1c1"/>
<rect x="364.57" y="226.64" width="2.35" height="5.40" fill="#c1c1c1"/>
<rect x="368.26" y="226.64" width="2.35" height="5.40" fill="#c1c1c1"/>
<rect x="371.96" y="226.64" width="2.35" height="5.40" fill="#c1c1c1"/>
<rect x="375.65" y="226.64" width="2.35" height="5.40" fill="#c1c1c1"/>
<rect x="379.35" y="226.64" width="2.35" height="5.40" fill="#c1c1c1"/>
<rect x="383.05" y="226.64" width="2.35" height="5.40" fill="#c1c1c1"/>
<rect x="386.74" y="226.64" width="2.35" height="5.40" fill="#c1c1c1"/>
<rect x="390.44" y="226.64" width="2.35" height="5.40" fill="#c1c1c1"/>
<rect x="394.13" y="226.64" width="2.35" height="5.40" fill="#c1c1c1"/>
<rect x="397.82" y="226.64" width="2.35" height="5.40" fill="#c1c1c1"/>
<rect x="401.52" y="226.64" width="2.35" height="5.40" fill="#c1c1c1"/>
</g>
<text x="43.00" y="231.24" font-size="5.30" text-anchor="end" fill="#1c1c1c" font-style="italic">NR3C1</text>
<rect x="407.50" y="226.69" width="5.27" height="4.5" fill="#4a5363"/>
<g>
<rect x="46.80" y="233.81" width="2.35" height="5.40" fill="#c1c1c1"/>
<rect x="50.49" y="233.81" width="2.35" height="5.40" fill="#2fa739"/>
<rect x="54.19" y="233.81" width="2.35" height="5.40" fill="#c1c1c1"/>
<rect x="57.88" y="233.81" width="2.35" height="5.40" fill="#c1c1c1"/>
<rect x="61.58" y="233.81" width="2.35" height="5.40" fill="#c1c1c1"/>
<rect x="65.27" y="233.81" width="2.35" height="5.40" fill="#c1c1c1"/>
<rect x="68.97" y="233.81" width="2.35" height="5.40" fill="#c1c1c1"/>
<rect x="72.66" y="233.81" width="2.35" height="5.40" fill="#c1c1c1"/>
<rect x="76.36" y="233.81" width="2.35" height="5.40" fill="#c1c1c1"/>
<rect x="80.05" y="233.81" width="2.35" height="5.40" fill="#c1c1c1"/>
<rect x="83.75" y="233.81" width="2.35" height="5.40" fill="#c1c1c1"/>
<rect x="87.44" y="233.81" width="2.35" height="5.40" fill="#c1c1c1"/>
<rect x="91.14" y="233.81" width="2.35" height="5.40" fill="#c1c1c1"/>
<rect x="94.83" y="233.81" width="2.35" height="5.40" fill="#c1c1c1"/>
<rect x="98.53" y="233.81" width="2.35" height="5.40" fill="#c1c1c1"/>
<rect x="102.22" y="233.81" width="2.35" height="5.40" fill="#c1c1c1"/>
<rect x="105.92" y="233.81" width="2.35" height="5.40" fill="#c1c1c1"/>
<rect x="109.61" y="233.81" width="2.35" height="5.40" fill="#c1c1c1"/>
<rect x="113.31" y="233.81" width="2.35" height="5.40" fill="#c1c1c1"/>
<rect x="117.00" y="233.81" width="2.35" height="5.40" fill="#c1c1c1"/>
<rect x="120.70" y="233.81" width="2.35" height="5.40" fill="#c1c1c1"/>
<rect x="124.39" y="233.81" width="2.35" height="5.40" fill="#c1c1c1"/>
<rect x="128.09" y="233.81" width="2.35" height="5.40" fill="#c1c1c1"/>
<rect x="131.78" y="233.81" width="2.35" height="5.40" fill="#c1c1c1"/>
<rect x="135.48" y="233.81" width="2.35" height="5.40" fill="#c1c1c1"/>
<rect x="139.18" y="233.81" width="2.35" height="5.40" fill="#c1c1c1"/>
<rect x="142.87" y="233.81" width="2.35" height="5.40" fill="#b80c2e"/>
<rect x="146.56" y="233.81" width="2.35" height="5.40" fill="#c1c1c1"/>
<rect x="150.26" y="233.81" width="2.35" height="5.40" fill="#c1c1c1"/>
<rect x="153.95" y="233.81" width="2.35" height="5.40" fill="#c1c1c1"/>
<rect x="157.65" y="233.81" width="2.35" height="5.40" fill="#c1c1c1"/>
<rect x="161.34" y="233.81" width="2.35" height="5.40" fill="#c1c1c1"/>
<rect x="165.04" y="233.81" width="2.35" height="5.40" fill="#c1c1c1"/>
<rect x="168.73" y="233.81" width="2.35" height="5.40" fill="#c1c1c1"/>
<rect x="172.43" y="233.81" width="2.35" height="5.40" fill="#c1c1c1"/>
<rect x="176.12" y="233.81" width="2.35" height="5.40" fill="#c1c1c1"/>
<rect x="179.82" y="233.81" width="2.35" height="5.40" fill="#c1c1c1"/>
<rect x="183.51" y="233.81" width="2.35" height="5.40" fill="#c1c1c1"/>
<rect x="187.21" y="233.81" width="2.35" height="5.40" fill="#c1c1c1"/>
<rect x="190.90" y="233.81" width="2.35" height="5.40" fill="#c1c1c1"/>
<rect x="194.60" y="233.81" width="2.35" height="5.40" fill="#c1c1c1"/>
<rect x="198.30" y="233.81" width="2.35" height="5.40" fill="#c1c1c1"/>
<rect x="201.99" y="233.81" width="2.35" height="5.40" fill="#c1c1c1"/>
<rect x="205.69" y="233.81" width="2.35" height="5.40" fill="#c1c1c1"/>
<rect x="209.38" y="233.81" width="2.35" height="5.40" fill="#c1c1c1"/>
<rect x="213.07" y="233.81" width="2.35" height="5.40" fill="#c1c1c1"/>
<rect x="216.77" y="233.81" width="2.35" height="5.40" fill="#c1c1c1"/>
<rect x="220.46" y="233.81" width="2.35" height="5.40" fill="#eea0cc"/>
<rect x="224.16" y="233.81" width="2.35" height="5.40" fill="#c1c1c1"/>
<rect x="227.85" y="233.81" width="2.35" height="5.40" fill="#c1c1c1"/>
<rect x="231.55" y="233.81" width="2.35" height="5.40" fill="#c1c1c1"/>
<rect x="235.25" y="233.81" width="2.35" height="5.40" fill="#c1c1c1"/>
<rect x="238.94" y="233.81" width="2.35" height="5.40" fill="#c1c1c1"/>
<rect x="242.63" y="233.81" width="2.35" height="5.40" fill="#c1c1c1"/>
<rect x="246.33" y="233.81" width="2.35" height="5.40" fill="#c1c1c1"/>
<rect x="250.02" y="233.81" width="2.35" height="5.40" fill="#c1c1c1"/>
<rect x="253.72" y="233.81" width="2.35" height="5.40" fill="#c1c1c1"/>
<rect x="257.41" y="233.81" width="2.35" height="5.40" fill="#c1c1c1"/>
<rect x="261.11" y="233.81" width="2.35" height="5.40" fill="#c1c1c1"/>
<rect x="264.81" y="233.81" width="2.35" height="5.40" fill="#c1c1c1"/>
<rect x="268.50" y="233.81" width="2.35" height="5.40" fill="#c1c1c1"/>
<rect x="272.19" y="233.81" width="2.35" height="5.40" fill="#c1c1c1"/>
<rect x="275.89" y="233.81" width="2.35" height="5.40" fill="#c1c1c1"/>
<rect x="279.58" y="233.81" width="2.35" height="5.40" fill="#c1c1c1"/>
<rect x="283.28" y="233.81" width="2.35" height="5.40" fill="#c1c1c1"/>
<rect x="286.97" y="233.81" width="2.35" height="5.40" fill="#c1c1c1"/>
<rect x="290.67" y="233.81" width="2.35" height="5.40" fill="#c1c1c1"/>
<rect x="294.37" y="233.81" width="2.35" height="5.40" fill="#c1c1c1"/>
<rect x="298.06" y="233.81" width="2.35" height="5.40" fill="#c1c1c1"/>
<rect x="301.75" y="233.81" width="2.35" height="5.40" fill="#c1c1c1"/>
<rect x="305.45" y="233.81" width="2.35" height="5.40" fill="#c1c1c1"/>
<rect x="309.14" y="233.81" width="2.35" height="5.40" fill="#c1c1c1"/>
<rect x="312.84" y="233.81" width="2.35" height="5.40" fill="#c1c1c1"/>
<rect x="316.54" y="233.81" width="2.35" height="5.40" fill="#c1c1c1"/>
<rect x="320.23" y="233.81" width="2.35" height="5.40" fill="#c1c1c1"/>
<rect x="323.93" y="233.81" width="2.35" height="5.40" fill="#c1c1c1"/>
<rect x="327.62" y="233.81" width="2.35" height="5.40" fill="#c1c1c1"/>
<rect x="331.31" y="233.81" width="2.35" height="5.40" fill="#c1c1c1"/>
<rect x="335.01" y="233.81" width="2.35" height="5.40" fill="#c1c1c1"/>
<rect x="338.70" y="233.81" width="2.35" height="5.40" fill="#c1c1c1"/>
<rect x="342.40" y="233.81" width="2.35" height="5.40" fill="#c1c1c1"/>
<rect x="346.09" y="233.81" width="2.35" height="5.40" fill="#c1c1c1"/>
<rect x="349.79" y="233.81" width="2.35" height="5.40" fill="#c1c1c1"/>
<rect x="353.49" y="233.81" width="2.35" height="5.40" fill="#c1c1c1"/>
<rect x="357.18" y="233.81" width="2.35" height="5.40" fill="#c1c1c1"/>
<rect x="360.88" y="233.81" width="2.35" height="5.40" fill="#c1c1c1"/>
<rect x="364.57" y="233.81" width="2.35" height="5.40" fill="#c1c1c1"/>
<rect x="368.26" y="233.81" width="2.35" height="5.40" fill="#c1c1c1"/>
<rect x="371.96" y="233.81" width="2.35" height="5.40" fill="#c1c1c1"/>
<rect x="375.65" y="233.81" width="2.35" height="5.40" fill="#c1c1c1"/>
<rect x="379.35" y="233.81" width="2.35" height="5.40" fill="#c1c1c1"/>
<rect x="383.05" y="233.81" width="2.35" height="5.40" fill="#b80c2e"/>
<rect x="386.74" y="233.81" width="2.35" height="5.40" fill="#c1c1c1"/>
<rect x="390.44" y="233.81" width="2.35" height="5.40" fill="#c1c1c1"/>
<rect x="394.13" y="233.81" width="2.35" height="5.40" fill="#c1c1c1"/>
<rect x="397.82" y="233.81" width="2.35" height="5.40" fill="#c1c1c1"/>
<rect x="401.52" y="233.81" width="2.35" height="5.40" fill="#c1c1c1"/>
</g>
<text x="43.00" y="238.41" font-size="5.30" text-anchor="end" fill="#1c1c1c" font-style="italic">TBL1XR1</text>
<rect x="407.50" y="233.86" width="10.54" height="4.5" fill="#4a5363"/>
<g>
<rect x="46.80" y="240.98" width="2.35" height="5.40" fill="#c1c1c1"/>
<rect x="50.49" y="240.98" width="2.35" height="5.40" fill="#c1c1c1"/>
<rect x="54.19" y="240.98" width="2.35" height="5.40" fill="#c1c1c1"/>
<rect x="57.88" y="240.98" width="2.35" height="5.40" fill="#c1c1c1"/>
<rect x="61.58" y="240.98" width="2.35" height="5.40" fill="#c1c1c1"/>
<rect x="65.27" y="240.98" width="2.35" height="5.40" fill="#c1c1c1"/>
<rect x="68.97" y="240.98" width="2.35" height="5.40" fill="#c1c1c1"/>
<rect x="72.66" y="240.98" width="2.35" height="5.40" fill="#c1c1c1"/>
<rect x="76.36" y="240.98" width="2.35" height="5.40" fill="#c1c1c1"/>
<rect x="80.05" y="240.98" width="2.35" height="5.40" fill="#c1c1c1"/>
<rect x="83.75" y="240.98" width="2.35" height="5.40" fill="#c1c1c1"/>
<rect x="87.44" y="240.98" width="2.35" height="5.40" fill="#c1c1c1"/>
<rect x="91.14" y="240.98" width="2.35" height="5.40" fill="#c1c1c1"/>
<rect x="94.83" y="240.98" width="2.35" height="5.40" fill="#c1c1c1"/>
<rect x="98.53" y="240.98" width="2.35" height="5.40" fill="#c1c1c1"/>
<rect x="102.22" y="240.98" width="2.35" height="5.40" fill="#c1c1c1"/>
<rect x="105.92" y="240.98" width="2.35" height="5.40" fill="#c1c1c1"/>
<rect x="109.61" y="240.98" width="2.35" height="5.40" fill="#c1c1c1"/>
<rect x="113.31" y="240.98" width="2.35" height="5.40" fill="#c1c1c1"/>
<rect x="117.00" y="240.98" width="2.35" height="5.40" fill="#c1c1c1"/>
<rect x="120.70" y="240.98" width="2.35" height="5.40" fill="#c1c1c1"/>
<rect x="124.39" y="240.98" width="2.35" height="5.40" fill="#c1c1c1"/>
<rect x="128.09" y="240.98" width="2.35" height="5.40" fill="#c1c1c1"/>
<rect x="131.78" y="240.98" width="2.35" height="5.40" fill="#c1c1c1"/>
<rect x="135.48" y="240.98" width="2.35" height="5.40" fill="#c1c1c1"/>
<rect x="139.18" y="240.98" width="2.35" height="5.40" fill="#c1c1c1"/>
<rect x="142.87" y="240.98" width="2.35" height="5.40" fill="#c1c1c1"/>
<rect x="146.56" y="240.98" width="2.35" height="5.40" fill="#c1c1c1"/>
<rect x="150.26" y="240.98" width="2.35" height="5.40" fill="#c1c1c1"/>
<rect x="153.95" y="240.98" width="2.35" height="5.40" fill="#c1c1c1"/>
<rect x="157.65" y="240.98" width="2.35" height="5.40" fill="#c1c1c1"/>
<rect x="161.34" y="240.98" width="2.35" height="5.40" fill="#b80c2e"/>
<rect x="165.04" y="240.98" width="2.35" height="5.40" fill="#c1c1c1"/>
<rect x="168.73" y="240.98" width="2.35" height="5.40" fill="#c1c1c1"/>
<rect x="172.43" y="240.98" width="2.35" height="5.40" fill="#c1c1c1"/>
<rect x="176.12" y="240.98" width="2.35" height="5.40" fill="#c1c1c1"/>
<rect x="179.82" y="240.98" width="2.35" height="5.40" fill="#c1c1c1"/>
<rect x="183.51" y="240.98" width="2.35" height="5.40" fill="#c1c1c1"/>
<rect x="187.21" y="240.98" width="2.35" height="5.40" fill="#c1c1c1"/>
<rect x="190.90" y="240.98" width="2.35" height="5.40" fill="#c1c1c1"/>
<rect x="194.60" y="240.98" width="2.35" height="5.40" fill="#c1c1c1"/>
<rect x="198.30" y="240.98" width="2.35" height="5.40" fill="#c1c1c1"/>
<rect x="201.99" y="240.98" width="2.35" height="5.40" fill="#c1c1c1"/>
<rect x="205.69" y="240.98" width="2.35" height="5.40" fill="#c1c1c1"/>
<rect x="209.38" y="240.98" width="2.35" height="5.40" fill="#c1c1c1"/>
<rect x="213.07" y="240.98" width="2.35" height="5.40" fill="#c1c1c1"/>
<rect x="216.77" y="240.98" width="2.35" height="5.40" fill="#c1c1c1"/>
<rect x="220.46" y="240.98" width="2.35" height="5.40" fill="#c1c1c1"/>
<rect x="224.16" y="240.98" width="2.35" height="5.40" fill="#c1c1c1"/>
<rect x="227.85" y="240.98" width="2.35" height="5.40" fill="#c1c1c1"/>
<rect x="231.55" y="240.98" width="2.35" height="5.40" fill="#c1c1c1"/>
<rect x="235.25" y="240.98" width="2.35" height="5.40" fill="#c1c1c1"/>
<rect x="238.94" y="240.98" width="2.35" height="5.40" fill="#c1c1c1"/>
<rect x="242.63" y="240.98" width="2.35" height="5.40" fill="#c1c1c1"/>
<rect x="246.33" y="240.98" width="2.35" height="5.40" fill="#c1c1c1"/>
<rect x="250.02" y="240.98" width="2.35" height="5.40" fill="#c1c1c1"/>
<rect x="253.72" y="240.98" width="2.35" height="5.40" fill="#c1c1c1"/>
<rect x="257.41" y="240.98" width="2.35" height="5.40" fill="#c1c1c1"/>
<rect x="261.11" y="240.98" width="2.35" height="5.40" fill="#c1c1c1"/>
<rect x="264.81" y="240.98" width="2.35" height="5.40" fill="#c1c1c1"/>
<rect x="268.50" y="240.98" width="2.35" height="5.40" fill="#c1c1c1"/>
<rect x="272.19" y="240.98" width="2.35" height="5.40" fill="#c1c1c1"/>
<rect x="275.89" y="240.98" width="2.35" height="5.40" fill="#c1c1c1"/>
<rect x="279.58" y="240.98" width="2.35" height="5.40" fill="#b80c2e"/>
<rect x="283.28" y="240.98" width="2.35" height="5.40" fill="#c1c1c1"/>
<rect x="286.97" y="240.98" width="2.35" height="5.40" fill="#c1c1c1"/>
<rect x="290.67" y="240.98" width="2.35" height="5.40" fill="#c1c1c1"/>
<rect x="294.37" y="240.98" width="2.35" height="5.40" fill="#c1c1c1"/>
<rect x="298.06" y="240.98" width="2.35" height="5.40" fill="#c1c1c1"/>
<rect x="301.75" y="240.98" width="2.35" height="5.40" fill="#c1c1c1"/>
<rect x="305.45" y="240.98" width="2.35" height="5.40" fill="#c1c1c1"/>
<rect x="309.14" y="240.98" width="2.35" height="5.40" fill="#c1c1c1"/>
<rect x="312.84" y="240.98" width="2.35" height="5.40" fill="#c1c1c1"/>
<rect x="316.54" y="240.98" width="2.35" height="5.40" fill="#c1c1c1"/>
<rect x="320.23" y="240.98" width="2.35" height="5.40" fill="#c1c1c1"/>
<rect x="323.93" y="240.98" width="2.35" height="5.40" fill="#c1c1c1"/>
<rect x="327.62" y="240.98" width="2.35" height="5.40" fill="#c1c1c1"/>
<rect x="331.31" y="240.98" width="2.35" height="5.40" fill="#c1c1c1"/>
<rect x="335.01" y="240.98" width="2.35" height="5.40" fill="#c1c1c1"/>
<rect x="338.70" y="240.98" width="2.35" height="5.40" fill="#c1c1c1"/>
<rect x="342.40" y="240.98" width="2.35" height="5.40" fill="#c1c1c1"/>
<rect x="346.09" y="240.98" width="2.35" height="5.40" fill="#c1c1c1"/>
<rect x="349.79" y="240.98" width="2.35" height="5.40" fill="#c1c1c1"/>
<rect x="353.49" y="240.98" width="2.35" height="5.40" fill="#c1c1c1"/>
<rect x="357.18" y="240.98" width="2.35" height="5.40" fill="#c1c1c1"/>
<rect x="360.88" y="240.98" width="2.35" height="5.40" fill="#c1c1c1"/>
<rect x="364.57" y="240.98" width="2.35" height="5.40" fill="#c1c1c1"/>
<rect x="368.26" y="240.98" width="2.35" height="5.40" fill="#c1c1c1"/>
<rect x="371.96" y="240.98" width="2.35" height="5.40" fill="#c1c1c1"/>
<rect x="375.65" y="240.98" width="2.35" height="5.40" fill="#c1c1c1"/>
<rect x="379.35" y="240.98" width="2.35" height="5.40" fill="#c1c1c1"/>
<rect x="383.05" y="240.98" width="2.35" height="5.40" fill="#c1c1c1"/>
<rect x="386.74" y="240.98" width="2.35" height="5.40" fill="#c1c1c1"/>
<rect x="390.44" y="240.98" width="2.35" height="5.40" fill="#c1c1c1"/>
<rect x="394.13" y="240.98" width="2.35" height="5.40" fill="#c1c1c1"/>
<rect x="397.82" y="240.98" width="2.35" height="5.40" fill="#c1c1c1"/>
<rect x="401.52" y="240.98" width="2.35" height="5.40" fill="#c1c1c1"/>
</g>
<text x="43.00" y="245.58" font-size="5.30" text-anchor="end" fill="#1c1c1c" font-style="italic">ZFP36L2</text>
<rect x="407.50" y="241.03" width="5.27" height="4.5" fill="#4a5363"/>
<rect x="46.80" y="255.31" width="2.35" height="5.40" fill="#5e3412"/>
<rect x="50.49" y="255.31" width="2.35" height="5.40" fill="#5e3412"/>
<rect x="54.19" y="255.31" width="2.35" height="5.40" fill="#5e3412"/>
<rect x="57.88" y="255.31" width="2.35" height="5.40" fill="#5e3412"/>
<rect x="61.58" y="255.31" width="2.35" height="5.40" fill="#5e3412"/>
<rect x="65.27" y="255.31" width="2.35" height="5.40" fill="#5e3412"/>
<rect x="68.97" y="255.31" width="2.35" height="5.40" fill="#5e3412"/>
<rect x="72.66" y="255.31" width="2.35" height="5.40" fill="#b8670e"/>
<rect x="76.36" y="255.31" width="2.35" height="5.40" fill="#5e3412"/>
<rect x="80.05" y="255.31" width="2.35" height="5.40" fill="#5e3412"/>
<rect x="83.75" y="255.31" width="2.35" height="5.40" fill="#5e3412"/>
<rect x="87.44" y="255.31" width="2.35" height="5.40" fill="#5e3412"/>
<rect x="91.14" y="255.31" width="2.35" height="5.40" fill="#5e3412"/>
<rect x="94.83" y="255.31" width="2.35" height="5.40" fill="#5e3412"/>
<rect x="98.53" y="255.31" width="2.35" height="5.40" fill="#b8670e"/>
<rect x="102.22" y="255.31" width="2.35" height="5.40" fill="#5e3412"/>
<rect x="105.92" y="255.31" width="2.35" height="5.40" fill="#5e3412"/>
<rect x="109.61" y="255.31" width="2.35" height="5.40" fill="#a6c684"/>
<rect x="113.31" y="255.31" width="2.35" height="5.40" fill="#b8670e"/>
<rect x="117.00" y="255.31" width="2.35" height="5.40" fill="#5e3412"/>
<rect x="120.70" y="255.31" width="2.35" height="5.40" fill="#a6c684"/>
<rect x="124.39" y="255.31" width="2.35" height="5.40" fill="#5e3412"/>
<rect x="128.09" y="255.31" width="2.35" height="5.40" fill="#5e3412"/>
<rect x="131.78" y="255.31" width="2.35" height="5.40" fill="#5e3412"/>
<rect x="135.48" y="255.31" width="2.35" height="5.40" fill="#5e3412"/>
<rect x="139.18" y="255.31" width="2.35" height="5.40" fill="#a6c684"/>
<rect x="142.87" y="255.31" width="2.35" height="5.40" fill="#b8670e"/>
<rect x="146.56" y="255.31" width="2.35" height="5.40" fill="#5e3412"/>
<rect x="150.26" y="255.31" width="2.35" height="5.40" fill="#5e3412"/>
<rect x="153.95" y="255.31" width="2.35" height="5.40" fill="#5e3412"/>
<rect x="157.65" y="255.31" width="2.35" height="5.40" fill="#5e3412"/>
<rect x="161.34" y="255.31" width="2.35" height="5.40" fill="#b8670e"/>
<rect x="165.04" y="255.31" width="2.35" height="5.40" fill="#5e3412"/>
<rect x="168.73" y="255.31" width="2.35" height="5.40" fill="#5e3412"/>
<rect x="172.43" y="255.31" width="2.35" height="5.40" fill="#5e3412"/>
<rect x="176.12" y="255.31" width="2.35" height="5.40" fill="#5e3412"/>
<rect x="179.82" y="255.31" width="2.35" height="5.40" fill="#5e3412"/>
<rect x="183.51" y="255.31" width="2.35" height="5.40" fill="#5e3412"/>
<rect x="187.21" y="255.31" width="2.35" height="5.40" fill="#5e3412"/>
<rect x="190.90" y="255.31" width="2.35" height="5.40" fill="#5e3412"/>
<rect x="194.60" y="255.31" width="2.35" height="5.40" fill="#5e3412"/>
<rect x="198.30" y="255.31" width="2.35" height="5.40" fill="#5e3412"/>
<rect x="201.99" y="255.31" width="2.35" height="5.40" fill="#5e3412"/>
<rect x="205.69" y="255.31" width="2.35" height="5.40" fill="#5e3412"/>
<rect x="209.38" y="255.31" width="2.35" height="5.40" fill="#5e3412"/>
<rect x="213.07" y="255.31" width="2.35" height="5.40" fill="#5e3412"/>
<rect x="216.77" y="255.31" width="2.35" height="5.40" fill="#5e3412"/>
<rect x="220.46" y="255.31" width="2.35" height="5.40" fill="#5e3412"/>
<rect x="224.16" y="255.31" width="2.35" height="5.40" fill="#5e3412"/>
<rect x="227.85" y="255.31" width="2.35" height="5.40" fill="#5e3412"/>
<rect x="231.55" y="255.31" width="2.35" height="5.40" fill="#5e3412"/>
<rect x="235.25" y="255.31" width="2.35" height="5.40" fill="#5e3412"/>
<rect x="238.94" y="255.31" width="2.35" height="5.40" fill="#b8670e"/>
<rect x="242.63" y="255.31" width="2.35" height="5.40" fill="#5e3412"/>
<rect x="246.33" y="255.31" width="2.35" height="5.40" fill="#5e3412"/>
<rect x="250.02" y="255.31" width="2.35" height="5.40" fill="#5e3412"/>
<rect x="253.72" y="255.31" width="2.35" height="5.40" fill="#5e3412"/>
<rect x="257.41" y="255.31" width="2.35" height="5.40" fill="#5e3412"/>
<rect x="261.11" y="255.31" width="2.35" height="5.40" fill="#5e3412"/>
<rect x="264.81" y="255.31" width="2.35" height="5.40" fill="#5e3412"/>
<rect x="268.50" y="255.31" width="2.35" height="5.40" fill="#5e3412"/>
<rect x="272.19" y="255.31" width="2.35" height="5.40" fill="#b8670e"/>
<rect x="275.89" y="255.31" width="2.35" height="5.40" fill="#5e3412"/>
<rect x="279.58" y="255.31" width="2.35" height="5.40" fill="#5e3412"/>
<rect x="283.28" y="255.31" width="2.35" height="5.40" fill="#5e3412"/>
<rect x="286.97" y="255.31" width="2.35" height="5.40" fill="#5e3412"/>
<rect x="290.67" y="255.31" width="2.35" height="5.40" fill="#5e3412"/>
<rect x="294.37" y="255.31" width="2.35" height="5.40" fill="#5e3412"/>
<rect x="298.06" y="255.31" width="2.35" height="5.40" fill="#5e3412"/>
<rect x="301.75" y="255.31" width="2.35" height="5.40" fill="#5e3412"/>
<rect x="305.45" y="255.31" width="2.35" height="5.40" fill="#5e3412"/>
<rect x="309.14" y="255.31" width="2.35" height="5.40" fill="#5e3412"/>
<rect x="312.84" y="255.31" width="2.35" height="5.40" fill="#a6c684"/>
<rect x="316.54" y="255.31" width="2.35" height="5.40" fill="#5e3412"/>
<rect x="320.23" y="255.31" width="2.35" height="5.40" fill="#5e3412"/>
<rect x="323.93" y="255.31" width="2.35" height="5.40" fill="#b8670e"/>
<rect x="327.62" y="255.31" width="2.35" height="5.40" fill="#b8670e"/>
<rect x="331.31" y="255.31" width="2.35" height="5.40" fill="#5e3412"/>
<rect x="335.01" y="255.31" width="2.35" height="5.40" fill="#5e3412"/>
<rect x="338.70" y="255.31" width="2.35" height="5.40" fill="#5e3412"/>
<rect x="342.40" y="255.31" width="2.35" height="5.40" fill="#5e3412"/>
<rect x="346.09" y="255.31" width="2.35" height="5.40" fill="#5e3412"/>
<rect x="349.79" y="255.31" width="2.35" height="5.40" fill="#5e3412"/>
<rect x="353.49" y="255.31" width="2.35" height="5.40" fill="#5e3412"/>
<rect x="357.18" y="255.31" width="2.35" height="5.40" fill="#5e3412"/>
<rect x="360.88" y="255.31" width="2.35" height="5.40" fill="#5e3412"/>
<rect x="364.57" y="255.31" width="2.35" height="5.40" fill="#5e3412"/>
<rect x="368.26" y="255.31" width="2.35" height="5.40" fill="#5e3412"/>
<rect x="371.96" y="255.31" width="2.35" height="5.40" fill="#5e3412"/>
<rect x="375.65" y="255.31" width="2.35" height="5.40" fill="#b8670e"/>
<rect x="379.35" y="255.31" width="2.35" height="5.40" fill="#5e3412"/>
<rect x="383.05" y="255.31" width="2.35" height="5.40" fill="#5e3412"/>
<rect x="386.74" y="255.31" width="2.35" height="5.40" fill="#5e3412"/>
<rect x="390.44" y="255.31" width="2.35" height="5.40" fill="#5e3412"/>
<rect x="394.13" y="255.31" width="2.35" height="5.40" fill="#5e3412"/>
<rect x="397.82" y="255.31" width="2.35" height="5.40" fill="#5e3412"/>
<rect x="401.52" y="255.31" width="2.35" height="5.40" fill="#5e3412"/>
<text x="42.80" y="259.91" font-size="5.60" text-anchor="end" fill="#1c1c1c" font-style="italic">Fusion partner</text>
<g fill="#666" font-size="4.4">
<text x="0" y="0" transform="translate(46.50,264.2) rotate(90)">BSEN-000</text>
<text x="0" y="0" transform="translate(50.20,264.2) rotate(90)">BSEN-0000</text>
<text x="0" y="0" transform="translate(53.89,264.2) rotate(90)">BSEN-000</text>
<text x="0" y="0" transform="translate(57.59,264.2) rotate(90)">BSEN-0000</text>
<text x="0" y="0" transform="translate(61.28,264.2) rotate(90)">BSEN-000</text>
<text x="0" y="0" transform="translate(64.97,264.2) rotate(90)">BSEN-000</text>
<text x="0" y="0" transform="translate(68.67,264.2) rotate(90)">BSEN-00</text>
<text x="0" y="0" transform="translate(72.36,264.2) rotate(90)">BSEN-000</text>
<text x="0" y="0" transform="translate(76.06,264.2) rotate(90)">BSEN-000</text>
<text x="0" y="0" transform="translate(79.75,264.2) rotate(90)">BSEN-0000</text>
<text x="0" y="0" transform="translate(83.45,264.2) rotate(90)">BSEN-000</text>
<text x="0" y="0" transform="translate(87.14,264.2) rotate(90)">BSEN-000</text>
<text x="0" y="0" transform="translate(90.84,264.2) rotate(90)">BSEN-000</text>
<text x="0" y="0" transform="translate(94.53,264.2) rotate(90)">BSEN-0000</text>
<text x="0" y="0" transform="translate(98.23,264.2) rotate(90)">BSEN-0000</text>
<text x="0" y="0" transform="translate(101.92,264.2) rotate(90)">BSEN-000</text>
<text x="0" y="0" transform="translate(105.62,264.2) rotate(90)">BSEN-00000</text>
<text x="0" y="0" transform="translate(109.31,264.2) rotate(90)">BSEN-000</text>
<text x="0" y="0" transform="translate(113.01,264.2) rotate(90)">BSEN-000</text>
<text x="0" y="0" transform="translate(116.70,264.2) rotate(90)">BSEN-000</text>
<text x="0" y="0" transform="translate(120.40,264.2) rotate(90)">BSEN-0000</text>
<text x="0" y="0" transform="translate(124.09,264.2) rotate(90)">BSEN-00000</text>
<text x="0" y="0" transform="translate(127.79,264.2) rotate(90)">BSEN-00</text>
<text x="0" y="0" transform="translate(131.48,264.2) rotate(90)">BSEN-000</text>
<text x="0" y="0" transform="translate(135.18,264.2) rotate(90)">BSEN-000</text>
<text x="0" y="0" transform="translate(138.88,264.2) rotate(90)">BSEN-00</text>
<text x="0" y="0" transform="translate(142.57,264.2) rotate(90)">BSEN-000</text>
<text x="0" y="0" transform="translate(146.26,264.2) rotate(90)">BSEN-00</text>
<text x="0" y="0" transform="translate(149.96,264.2) rotate(90)">BSEN-000</text>
<text x="0" y="0" transform="translate(153.65,264.2) rotate(90)">BSEN-000</text>
<text x="0" y="0" transform="translate(157.35,264.2) rotate(90)">BSEN-00000</text>
<text x="0" y="0" transform="translate(161.04,264.2) rotate(90)">BSEN-00000</text>
<text x="0" y="0" transform="translate(164.74,264.2) rotate(90)">BSEN-00000</text>
<text x="0" y="0" transform="translate(168.43,264.2) rotate(90)">BSEN-000</text>
<text x="0" y="0" transform="translate(172.13,264.2) rotate(90)">BSEN-000</text>
<text x="0" y="0" transform="translate(175.82,264.2) rotate(90)">BSEN-0000</text>
<text x="0" y="0" transform="translate(179.52,264.2) rotate(90)">BSEN-000</text>
<text x="0" y="0" transform="translate(183.21,264.2) rotate(90)">BSEN-00</text>
<text x="0" y="0" transform="translate(186.91,264.2) rotate(90)">BSEN-000</text>
<text x="0" y="0" transform="translate(190.60,264.2) rotate(90)">BSEN-000</text>
<text x="0" y="0" transform="translate(194.30,264.2) rotate(90)">BSEN-000</text>
<text x="0" y="0" transform="translate(198.00,264.2) rotate(90)">BSEN-000</text>
<text x="0" y="0" transform="translate(201.69,264.2) rotate(90)">BSEN-00000</text>
<text x="0" y="0" transform="translate(205.38,264.2) rotate(90)">BSEN-000</text>
<text x="0" y="0" transform="translate(209.08,264.2) rotate(90)">BSEN-00000</text>
<text x="0" y="0" transform="translate(212.77,264.2) rotate(90)">BSEN-0000</text>
<text x="0" y="0" transform="translate(216.47,264.2) rotate(90)">BSEN-00000</text>
<text x="0" y="0" transform="translate(220.16,264.2) rotate(90)">BSEN-0000</text>
<text x="0" y="0" transform="translate(223.86,264.2) rotate(90)">BSEN-0000</text>
<text x="0" y="0" transform="translate(227.55,264.2) rotate(90)">BSEN-00000</text>
<text x="0" y="0" transform="translate(231.25,264.2) rotate(90)">BSEN-000</text>
<text x="0" y="0" transform="translate(234.94,264.2) rotate(90)">BSEN-0000</text>
<text x="0" y="0" transform="translate(238.64,264.2) rotate(90)">BSEN-00</text>
<text x="0" y="0" transform="translate(242.33,264.2) rotate(90)">BSEN-000</text>
<text x="0" y="0" transform="translate(246.03,264.2) rotate(90)">BSEN-000</text>
<text x="0" y="0" transform="translate(249.72,264.2) rotate(90)">BSEN-0000</text>
<text x="0" y="0" transform="translate(253.42,264.2) rotate(90)">BSEN-0000</text>
<text x="0" y="0" transform="translate(257.11,264.2) rotate(90)">BSEN-000</text>
<text x="0" y="0" transform="translate(260.81,264.2) rotate(90)">BSEN-000</text>
<text x="0" y="0" transform="translate(264.50,264.2) rotate(90)">BSEN-000</text>
<text x="0" y="0" transform="translate(268.20,264.2) rotate(90)">BSEN-000</text>
<text x="0" y="0" transform="translate(271.89,264.2) rotate(90)">BSEN-000</text>
<text x="0" y="0" transform="translate(275.59,264.2) rotate(90)">BSEN-000</text>
<text x="0" y="0" transform="translate(279.28,264.2) rotate(90)">BSEN-000</text>
<text x="0" y="0" transform="translate(282.98,264.2) rotate(90)">BSEN-000</text>
<text x="0" y="0" transform="translate(286.67,264.2) rotate(90)">BSEN-000</text>
<text x="0" y="0" transform="translate(290.37,264.2) rotate(90)">BSEN-0000</text>
<text x="0" y="0" transform="translate(294.06,264.2) rotate(90)">BSEN-000</text>
<text x="0" y="0" transform="translate(297.76,264.2) rotate(90)">BSEN-00000</text>
<text x="0" y="0" transform="translate(301.45,264.2) rotate(90)">BSEN-000</text>
<text x="0" y="0" transform="translate(305.15,264.2) rotate(90)">BSEN-00</text>
<text x="0" y="0" transform="translate(308.84,264.2) rotate(90)">BSEN-000</text>
<text x="0" y="0" transform="translate(312.54,264.2) rotate(90)">BSEN-00000</text>
<text x="0" y="0" transform="translate(316.24,264.2) rotate(90)">BSEN-00000</text>
<text x="0" y="0" transform="translate(319.93,264.2) rotate(90)">BSEN-000</text>
<text x="0" y="0" transform="translate(323.62,264.2) rotate(90)">BSEN-00</text>
<text x="0" y="0" transform="translate(327.32,264.2) rotate(90)">BSEN-00</text>
<text x="0" y="0" transform="translate(331.01,264.2) rotate(90)">BSEN-00000</text>
<text x="0" y="0" transform="translate(334.71,264.2) rotate(90)">BSEN-0000</text>
<text x="0" y="0" transform="translate(338.40,264.2) rotate(90)">BSEN-0000</text>
<text x="0" y="0" transform="translate(342.10,264.2) rotate(90)">BSEN-000</text>
<text x="0" y="0" transform="translate(345.79,264.2) rotate(90)">BSEN-0000</text>
<text x="0" y="0" transform="translate(349.49,264.2) rotate(90)">BSEN-000</text>
<text x="0" y="0" transform="translate(353.19,264.2) rotate(90)">BSEN-00</text>
<text x="0" y="0" transform="translate(356.88,264.2) rotate(90)">BSEN-000</text>
<text x="0" y="0" transform="translate(360.57,264.2) rotate(90)">BSEN-00</text>
<text x="0" y="0" transform="translate(364.27,264.2) rotate(90)">BSEN-000</text>
<text x="0" y="0" transform="translate(367.96,264.2) rotate(90)">BSEN-000</text>
<text x="0" y="0" transform="translate(371.66,264.2) rotate(90)">BSEN-0000</text>
<text x="0" y="0" transform="translate(375.35,264.2) rotate(90)">BSEN-00</text>
<text x="0" y="0" transform="translate(379.05,264.2) rotate(90)">BSEN-000</text>
<text x="0" y="0" transform="translate(382.75,264.2) rotate(90)">BSEN-00000</text>
<text x="0" y="0" transform="translate(386.44,264.2) rotate(90)">BSEN-000</text>
<text x="0" y="0" transform="translate(390.13,264.2) rotate(90)">BSEN-000</text>
<text x="0" y="0" transform="translate(393.83,264.2) rotate(90)">BSEN-000</text>
<text x="0" y="0" transform="translate(397.52,264.2) rotate(90)">BSEN-00</text>
<text x="0" y="0" transform="translate(401.22,264.2) rotate(90)">BSEN-0000</text>
</g>
<line x1="407.50" y1="16.0" x2="407.50" y2="246.5" stroke="#222" stroke-width="0.8"/>
<line x1="407.10" y1="246.2" x2="513" y2="246.2" stroke="#222" stroke-width="0.8"/>
<line x1="407.50" y1="246" x2="407.50" y2="248.5" stroke="#222" stroke-width="0.7"/>
<text x="407.50" y="258.50" font-size="6.30" text-anchor="middle" fill="#333">0</text>
<line x1="432.80" y1="246" x2="432.80" y2="248.5" stroke="#222" stroke-width="0.7"/>
<text x="432.80" y="258.50" font-size="6.30" text-anchor="middle" fill="#333">10</text>
<line x1="458.10" y1="246" x2="458.10" y2="248.5" stroke="#222" stroke-width="0.7"/>
<text x="458.10" y="258.50" font-size="6.30" text-anchor="middle" fill="#333">20</text>
<line x1="483.40" y1="246" x2="483.40" y2="248.5" stroke="#222" stroke-width="0.7"/>
<text x="483.40" y="258.50" font-size="6.30" text-anchor="middle" fill="#333">30</text>
<line x1="508.70" y1="246" x2="508.70" y2="248.5" stroke="#222" stroke-width="0.7"/>
<text x="508.70" y="258.50" font-size="6.30" text-anchor="middle" fill="#333">40</text>
<text x="458.50" y="270.00" font-size="6.80" text-anchor="middle" fill="#333">Frequency (%)</text>
<text x="311.30" y="297.90" font-size="6.50" text-anchor="start" fill="#222" textLength="27.0" lengthAdjust="spacingAndGlyphs">Mutations</text>
<rect x="311.6" y="303.00" width="8.2" height="7.5" fill="#2fa739"/>
<text x="322.30" y="309.00" font-size="6.50" text-anchor="start" fill="#222" textLength="11.1" lengthAdjust="spacingAndGlyphs">SNV</text>
<rect x="311.6" y="314.15" width="8.2" height="7.5" fill="#f6c416"/>
<text x="322.30" y="320.15" font-size="6.50" text-anchor="start" fill="#222" textLength="37.3" lengthAdjust="spacingAndGlyphs">inframe indels</text>
<rect x="311.6" y="325.30" width="8.2" height="7.5" fill="#b80c2e"/>
<text x="322.30" y="331.30" font-size="6.50" text-anchor="start" fill="#222" textLength="71.0" lengthAdjust="spacingAndGlyphs">nonsense/frameshift/splice</text>
<rect x="311.6" y="336.45" width="8.2" height="7.5" fill="#561a6f"/>
<text x="322.30" y="342.45" font-size="6.50" text-anchor="start" fill="#222" textLength="50.0" lengthAdjust="spacingAndGlyphs">multiple mutations</text>
<text x="397.20" y="297.90" font-size="6.50" text-anchor="start" fill="#222" textLength="67.8" lengthAdjust="spacingAndGlyphs">Copy number aberrations</text>
<rect x="397.2" y="302.60" width="8" height="7.2" fill="#3aa9e0"/>
<text x="408.10" y="308.50" font-size="6.50" text-anchor="start" fill="#222" textLength="18.3" lengthAdjust="spacingAndGlyphs">het del</text>
<rect x="397.2" y="314.00" width="8" height="7.2" fill="#173d70"/>
<text x="408.10" y="319.90" font-size="6.50" text-anchor="start" fill="#222" textLength="22.0" lengthAdjust="spacingAndGlyphs">hom del</text>
<rect x="397.2" y="325.40" width="8" height="7.2" fill="#eea0cc"/>
<text x="408.10" y="331.30" font-size="6.50" text-anchor="start" fill="#222" textLength="23.3" lengthAdjust="spacingAndGlyphs">mut+del</text>
<text x="469.00" y="297.90" font-size="6.50" text-anchor="start" fill="#222" textLength="41.5" lengthAdjust="spacingAndGlyphs">Fusion partners</text>
<rect x="469" y="302.60" width="8" height="7.2" fill="#5e3412"/>
<text x="479.70" y="308.50" font-size="6.50" text-anchor="start" fill="#222" textLength="13.5" lengthAdjust="spacingAndGlyphs">AFF1</text>
<rect x="469" y="314.00" width="8" height="7.2" fill="#b8670e"/>
<text x="479.70" y="319.90" font-size="6.50" text-anchor="start" fill="#222" textLength="16.8" lengthAdjust="spacingAndGlyphs">MLLT1</text>
<rect x="469" y="325.40" width="8" height="7.2" fill="#a6c684"/>
<text x="479.70" y="331.30" font-size="6.50" text-anchor="start" fill="#222" textLength="33.2" lengthAdjust="spacingAndGlyphs">Other genes</text>
<text x="7.30" y="363.10" font-size="10.40" text-anchor="start" fill="#111" font-weight="bold">B</text>
<text x="36.30" y="365.50" font-size="8.80" text-anchor="start" fill="#222">Cumulative incidence of relapse</text>
<line x1="41.60" y1="371.00" x2="41.60" y2="492.90" stroke="#222" stroke-width="1"/>
<line x1="41.10" y1="492.50" x2="153.70" y2="492.50" stroke="#222" stroke-width="1"/>
<line x1="46.20" y1="492.50" x2="46.20" y2="495.30" stroke="#222" stroke-width="0.8"/>
<text x="46.20" y="503.80" font-size="6.50" text-anchor="middle" fill="#2a2a2a">0</text>
<line x1="72.20" y1="492.50" x2="72.20" y2="495.30" stroke="#222" stroke-width="0.8"/>
<text x="72.20" y="503.80" font-size="6.50" text-anchor="middle" fill="#2a2a2a">2</text>
<line x1="98.20" y1="492.50" x2="98.20" y2="495.30" stroke="#222" stroke-width="0.8"/>
<text x="98.20" y="503.80" font-size="6.50" text-anchor="middle" fill="#2a2a2a">4</text>
<line x1="124.20" y1="492.50" x2="124.20" y2="495.30" stroke="#222" stroke-width="0.8"/>
<text x="124.20" y="503.80" font-size="6.50" text-anchor="middle" fill="#2a2a2a">6</text>
<line x1="150.20" y1="492.50" x2="150.20" y2="495.30" stroke="#222" stroke-width="0.8"/>
<text x="150.20" y="503.80" font-size="6.50" text-anchor="middle" fill="#2a2a2a">8</text>
<text x="98.30" y="515.50" font-size="7.90" text-anchor="middle" fill="#2a2a2a" textLength="47.4" lengthAdjust="spacingAndGlyphs">Subhazard ratio</text>
<line x1="59.20" y1="373.00" x2="59.20" y2="491.80" stroke="#cfcfcf" stroke-width="0.5" stroke-dasharray="0.8,1.4"/>
<line x1="37.40" y1="382.80" x2="41.60" y2="382.80" stroke="#222" stroke-width="0.8"/>
<text x="35.20" y="385.10" font-size="6.20" text-anchor="end" fill="#222" font-style="italic">KRAS</text>
<line x1="53.61" y1="382.80" x2="81.56" y2="382.80" stroke="#b41c3f" stroke-width="1.05"/>
<line x1="53.61" y1="380.90" x2="53.61" y2="384.70" stroke="#b41c3f" stroke-width="0.9"/>
<line x1="81.56" y1="380.90" x2="81.56" y2="384.70" stroke="#b41c3f" stroke-width="0.9"/>
<rect x="61.02" y="381.50" width="2.6" height="2.6" fill="#7a0c25"/>
<line x1="37.40" y1="402.00" x2="41.60" y2="402.00" stroke="#222" stroke-width="0.8"/>
<text x="35.20" y="404.30" font-size="6.20" text-anchor="end" fill="#222" font-style="italic">NRAS</text>
<line x1="50.75" y1="402.00" x2="72.33" y2="402.00" stroke="#b41c3f" stroke-width="1.05"/>
<line x1="50.75" y1="400.10" x2="50.75" y2="403.90" stroke="#b41c3f" stroke-width="0.9"/>
<line x1="72.33" y1="400.10" x2="72.33" y2="403.90" stroke="#b41c3f" stroke-width="0.9"/>
<rect x="55.82" y="400.70" width="2.6" height="2.6" fill="#7a0c25"/>
<line x1="37.40" y1="421.30" x2="41.60" y2="421.30" stroke="#222" stroke-width="0.8"/>
<text x="35.20" y="423.60" font-size="6.20" text-anchor="end" fill="#222" font-style="italic">FLT3</text>
<line x1="51.27" y1="421.30" x2="86.37" y2="421.30" stroke="#b41c3f" stroke-width="1.05"/>
<line x1="51.27" y1="419.40" x2="51.27" y2="423.20" stroke="#b41c3f" stroke-width="0.9"/>
<line x1="86.37" y1="419.40" x2="86.37" y2="423.20" stroke="#b41c3f" stroke-width="0.9"/>
<rect x="59.07" y="420.00" width="2.6" height="2.6" fill="#7a0c25"/>
<line x1="37.40" y1="441.70" x2="41.60" y2="441.70" stroke="#222" stroke-width="0.8"/>
<text x="35.20" y="444.00" font-size="6.20" text-anchor="end" fill="#222" font-style="italic">TP53</text>
<line x1="64.27" y1="441.70" x2="127.71" y2="441.70" stroke="#b41c3f" stroke-width="1.05"/>
<line x1="64.27" y1="439.80" x2="64.27" y2="443.60" stroke="#b41c3f" stroke-width="0.9"/>
<line x1="127.71" y1="439.80" x2="127.71" y2="443.60" stroke="#b41c3f" stroke-width="0.9"/>
<rect x="83.25" y="440.40" width="2.6" height="2.6" fill="#7a0c25"/>
<line x1="37.40" y1="460.90" x2="41.60" y2="460.90" stroke="#222" stroke-width="0.8"/>
<text x="35.20" y="463.20" font-size="6.20" text-anchor="end" fill="#222" font-style="italic">CDKN2A</text>
<line x1="51.40" y1="460.90" x2="80.65" y2="460.90" stroke="#b41c3f" stroke-width="1.05"/>
<line x1="51.40" y1="459.00" x2="51.40" y2="462.80" stroke="#b41c3f" stroke-width="0.9"/>
<line x1="80.65" y1="459.00" x2="80.65" y2="462.80" stroke="#b41c3f" stroke-width="0.9"/>
<rect x="58.29" y="459.60" width="2.6" height="2.6" fill="#7a0c25"/>
<line x1="37.40" y1="480.20" x2="41.60" y2="480.20" stroke="#222" stroke-width="0.8"/>
<text x="35.20" y="482.50" font-size="6.20" text-anchor="end" fill="#222" font-style="italic">IKZF1</text>
<line x1="62.45" y1="480.20" x2="141.62" y2="480.20" stroke="#b41c3f" stroke-width="1.05"/>
<line x1="62.45" y1="478.30" x2="62.45" y2="482.10" stroke="#b41c3f" stroke-width="0.9"/>
<line x1="141.62" y1="478.30" x2="141.62" y2="482.10" stroke="#b41c3f" stroke-width="0.9"/>
<rect x="84.29" y="478.90" width="2.6" height="2.6" fill="#7a0c25"/>
<text x="168.70" y="367.60" font-size="6.50" text-anchor="middle" fill="#333">n</text>
<text x="188.00" y="367.60" font-size="6.50" text-anchor="middle" fill="#333">HR</text>
<text x="212.50" y="367.60" font-size="6.50" text-anchor="middle" fill="#333">95% CI</text>
<text x="236.60" y="367.60" font-size="6.50" text-anchor="start" fill="#333" font-style="italic">P</text>
<text x="168.70" y="384.70" font-size="6.50" text-anchor="middle" fill="#333">19</text>
<text x="188.00" y="384.70" font-size="6.50" text-anchor="middle" fill="#333">1.24</text>
<text x="212.50" y="384.70" font-size="6.50" text-anchor="middle" fill="#333">0.57-2.72</text>
<text x="233.20" y="384.70" font-size="6.50" text-anchor="start" fill="#333">.59</text>
<text x="168.70" y="403.50" font-size="6.50" text-anchor="middle" fill="#333">18</text>
<text x="188.00" y="403.50" font-size="6.50" text-anchor="middle" fill="#333">0.84</text>
<text x="212.50" y="403.50" font-size="6.50" text-anchor="middle" fill="#333">0.35-2.01</text>
<text x="233.20" y="403.50" font-size="6.50" text-anchor="start" fill="#333">.69</text>
<text x="168.70" y="422.70" font-size="6.50" text-anchor="middle" fill="#333">11</text>
<text x="188.00" y="422.70" font-size="6.50" text-anchor="middle" fill="#333">1.09</text>
<text x="212.50" y="422.70" font-size="6.50" text-anchor="middle" fill="#333">0.39-3.09</text>
<text x="233.20" y="422.70" font-size="6.50" text-anchor="start" fill="#333">.87</text>
<text x="168.70" y="443.70" font-size="6.50" text-anchor="middle" fill="#333">14</text>
<text x="188.00" y="443.70" font-size="6.50" text-anchor="middle" fill="#333">2.95</text>
<text x="212.50" y="443.70" font-size="6.50" text-anchor="middle" fill="#333">1.39-6.27</text>
<text x="233.20" y="443.70" font-size="6.50" text-anchor="start" fill="#333">.005</text>
<text x="168.70" y="462.90" font-size="6.50" text-anchor="middle" fill="#333">14</text>
<text x="188.00" y="462.90" font-size="6.50" text-anchor="middle" fill="#333">1.03</text>
<text x="212.50" y="462.90" font-size="6.50" text-anchor="middle" fill="#333">0.40-2.65</text>
<text x="233.20" y="462.90" font-size="6.50" text-anchor="start" fill="#333">.95</text>
<text x="168.70" y="482.20" font-size="6.50" text-anchor="middle" fill="#333">8</text>
<text x="188.00" y="482.20" font-size="6.50" text-anchor="middle" fill="#333">3.03</text>
<text x="212.50" y="482.20" font-size="6.50" text-anchor="middle" fill="#333">1.25-7.34</text>
<text x="233.20" y="482.20" font-size="6.50" text-anchor="start" fill="#333">.01</text>
<text x="261.40" y="363.10" font-size="10.40" text-anchor="start" fill="#111" font-weight="bold">C</text>
<text x="324.20" y="365.50" font-size="8.70" text-anchor="start" fill="#222">Overall survival</text>
<line x1="297.30" y1="369.60" x2="297.30" y2="491.60" stroke="#222" stroke-width="1"/>
<line x1="296.80" y1="491.20" x2="409.10" y2="491.20" stroke="#222" stroke-width="1"/>
<line x1="301.20" y1="491.20" x2="301.20" y2="494.00" stroke="#222" stroke-width="0.8"/>
<text x="301.20" y="502.50" font-size="6.50" text-anchor="middle" fill="#2a2a2a">0</text>
<line x1="336.00" y1="491.20" x2="336.00" y2="494.00" stroke="#222" stroke-width="0.8"/>
<text x="336.00" y="502.50" font-size="6.50" text-anchor="middle" fill="#2a2a2a">2</text>
<line x1="370.80" y1="491.20" x2="370.80" y2="494.00" stroke="#222" stroke-width="0.8"/>
<text x="370.80" y="502.50" font-size="6.50" text-anchor="middle" fill="#2a2a2a">4</text>
<line x1="405.60" y1="491.20" x2="405.60" y2="494.00" stroke="#222" stroke-width="0.8"/>
<text x="405.60" y="502.50" font-size="6.50" text-anchor="middle" fill="#2a2a2a">6</text>
<text x="353.80" y="514.20" font-size="7.90" text-anchor="middle" fill="#2a2a2a" textLength="36.3" lengthAdjust="spacingAndGlyphs">Hazard ratio</text>
<line x1="318.60" y1="371.60" x2="318.60" y2="490.50" stroke="#cfcfcf" stroke-width="0.5" stroke-dasharray="0.8,1.4"/>
<line x1="293.10" y1="381.30" x2="297.30" y2="381.30" stroke="#222" stroke-width="0.8"/>
<text x="290.90" y="383.60" font-size="6.20" text-anchor="end" fill="#222" font-style="italic">KRAS</text>
<line x1="310.60" y1="381.30" x2="341.92" y2="381.30" stroke="#b41c3f" stroke-width="1.05"/>
<line x1="310.60" y1="379.40" x2="310.60" y2="383.20" stroke="#b41c3f" stroke-width="0.9"/>
<line x1="341.92" y1="379.40" x2="341.92" y2="383.20" stroke="#b41c3f" stroke-width="0.9"/>
<rect x="319.39" y="380.00" width="2.6" height="2.6" fill="#7a0c25"/>
<line x1="293.10" y1="401.00" x2="297.30" y2="401.00" stroke="#222" stroke-width="0.8"/>
<text x="290.90" y="403.30" font-size="6.20" text-anchor="end" fill="#222" font-style="italic">NRAS</text>
<line x1="307.29" y1="401.00" x2="331.65" y2="401.00" stroke="#b41c3f" stroke-width="1.05"/>
<line x1="307.29" y1="399.10" x2="307.29" y2="402.90" stroke="#b41c3f" stroke-width="0.9"/>
<line x1="331.65" y1="399.10" x2="331.65" y2="402.90" stroke="#b41c3f" stroke-width="0.9"/>
<rect x="313.47" y="399.70" width="2.6" height="2.6" fill="#7a0c25"/>
<line x1="293.10" y1="420.00" x2="297.30" y2="420.00" stroke="#222" stroke-width="0.8"/>
<text x="290.90" y="422.30" font-size="6.20" text-anchor="end" fill="#222" font-style="italic">FLT3</text>
<line x1="308.86" y1="420.00" x2="350.44" y2="420.00" stroke="#b41c3f" stroke-width="1.05"/>
<line x1="308.86" y1="418.10" x2="308.86" y2="421.90" stroke="#b41c3f" stroke-width="0.9"/>
<line x1="350.44" y1="418.10" x2="350.44" y2="421.90" stroke="#b41c3f" stroke-width="0.9"/>
<rect x="319.21" y="418.70" width="2.6" height="2.6" fill="#7a0c25"/>
<line x1="293.10" y1="440.20" x2="297.30" y2="440.20" stroke="#222" stroke-width="0.8"/>
<text x="290.90" y="442.50" font-size="6.20" text-anchor="end" fill="#222" font-style="italic">TP53</text>
<line x1="323.99" y1="440.20" x2="396.03" y2="440.20" stroke="#b41c3f" stroke-width="1.05"/>
<line x1="323.99" y1="438.30" x2="323.99" y2="442.10" stroke="#b41c3f" stroke-width="0.9"/>
<line x1="396.03" y1="438.30" x2="396.03" y2="442.10" stroke="#b41c3f" stroke-width="0.9"/>
<rect x="346.36" y="438.90" width="2.6" height="2.6" fill="#7a0c25"/>
<line x1="293.10" y1="459.80" x2="297.30" y2="459.80" stroke="#222" stroke-width="0.8"/>
<text x="290.90" y="462.10" font-size="6.20" text-anchor="end" fill="#222" font-style="italic">CDKN2A</text>
<line x1="311.99" y1="459.80" x2="356.01" y2="459.80" stroke="#b41c3f" stroke-width="1.05"/>
<line x1="311.99" y1="457.90" x2="311.99" y2="461.70" stroke="#b41c3f" stroke-width="0.9"/>
<line x1="356.01" y1="457.90" x2="356.01" y2="461.70" stroke="#b41c3f" stroke-width="0.9"/>
<rect x="324.26" y="458.50" width="2.6" height="2.6" fill="#7a0c25"/>
<line x1="293.10" y1="479.20" x2="297.30" y2="479.20" stroke="#222" stroke-width="0.8"/>
<text x="290.90" y="481.50" font-size="6.20" text-anchor="end" fill="#222" font-style="italic">IKZF1</text>
<line x1="315.99" y1="479.20" x2="384.72" y2="479.20" stroke="#b41c3f" stroke-width="1.05"/>
<line x1="315.99" y1="477.30" x2="315.99" y2="481.10" stroke="#b41c3f" stroke-width="0.9"/>
<line x1="384.72" y1="477.30" x2="384.72" y2="481.10" stroke="#b41c3f" stroke-width="0.9"/>
<rect x="334.87" y="477.90" width="2.6" height="2.6" fill="#7a0c25"/>
<text x="416.80" y="365.70" font-size="6.50" text-anchor="middle" fill="#333">n</text>
<text x="433.50" y="365.70" font-size="6.50" text-anchor="middle" fill="#333">HR</text>
<text x="458.20" y="365.70" font-size="6.50" text-anchor="middle" fill="#333">95% CI</text>
<text x="482.60" y="365.70" font-size="6.50" text-anchor="start" fill="#333" font-style="italic">P</text>
<text x="416.80" y="383.80" font-size="6.50" text-anchor="middle" fill="#333">19</text>
<text x="433.50" y="383.80" font-size="6.50" text-anchor="middle" fill="#333">1.12</text>
<text x="458.20" y="383.80" font-size="6.50" text-anchor="middle" fill="#333">0.54-2.34</text>
<text x="479.20" y="383.80" font-size="6.50" text-anchor="start" fill="#333">.76</text>
<text x="416.80" y="402.00" font-size="6.50" text-anchor="middle" fill="#333">18</text>
<text x="433.50" y="402.00" font-size="6.50" text-anchor="middle" fill="#333">0.78</text>
<text x="458.20" y="402.00" font-size="6.50" text-anchor="middle" fill="#333">0.35-1.75</text>
<text x="479.20" y="402.00" font-size="6.50" text-anchor="start" fill="#333">.54</text>
<text x="416.80" y="421.00" font-size="6.50" text-anchor="middle" fill="#333">11</text>
<text x="433.50" y="421.00" font-size="6.50" text-anchor="middle" fill="#333">1.11</text>
<text x="458.20" y="421.00" font-size="6.50" text-anchor="middle" fill="#333">0.44-2.83</text>
<text x="479.20" y="421.00" font-size="6.50" text-anchor="start" fill="#333">.82</text>
<text x="416.80" y="440.90" font-size="6.50" text-anchor="middle" fill="#333">14</text>
<text x="433.50" y="440.90" font-size="6.50" text-anchor="middle" fill="#333">2.67</text>
<text x="458.20" y="440.90" font-size="6.50" text-anchor="middle" fill="#333">1.31-5.45</text>
<text x="479.20" y="440.90" font-size="6.50" text-anchor="start" fill="#333">.007</text>
<text x="416.80" y="461.60" font-size="6.50" text-anchor="middle" fill="#333">14</text>
<text x="433.50" y="461.60" font-size="6.50" text-anchor="middle" fill="#333">1.40</text>
<text x="458.20" y="461.60" font-size="6.50" text-anchor="middle" fill="#333">0.62-3.15</text>
<text x="479.20" y="461.60" font-size="6.50" text-anchor="start" fill="#333">.42</text>
<text x="416.80" y="481.50" font-size="6.50" text-anchor="middle" fill="#333">8</text>
<text x="433.50" y="481.50" font-size="6.50" text-anchor="middle" fill="#333">2.01</text>
<text x="458.20" y="481.50" font-size="6.50" text-anchor="middle" fill="#333">0.85-4.80</text>
<text x="479.20" y="481.50" font-size="6.50" text-anchor="start" fill="#333">.11</text>
<text x="7.70" y="537.20" font-size="11.00" text-anchor="start" fill="#111" font-weight="bold">D</text>
<line x1="38.2" y1="546" x2="38.2" y2="650.5" stroke="#222" stroke-width="1"/>
<line x1="38.6" y1="653.2" x2="204.8" y2="653.2" stroke="#222" stroke-width="1"/>
<line x1="34.6" y1="649.70" x2="38.2" y2="649.70" stroke="#222" stroke-width="0.8"/>
<text x="32.60" y="652.10" font-size="6.60" text-anchor="end" fill="#2a2a2a">0.00</text>
<line x1="34.6" y1="629.78" x2="38.2" y2="629.78" stroke="#222" stroke-width="0.8"/>
<text x="32.60" y="632.18" font-size="6.60" text-anchor="end" fill="#2a2a2a">0.20</text>
<line x1="34.6" y1="609.86" x2="38.2" y2="609.86" stroke="#222" stroke-width="0.8"/>
<text x="32.60" y="612.26" font-size="6.60" text-anchor="end" fill="#2a2a2a">0.40</text>
<line x1="34.6" y1="589.94" x2="38.2" y2="589.94" stroke="#222" stroke-width="0.8"/>
<text x="32.60" y="592.34" font-size="6.60" text-anchor="end" fill="#2a2a2a">0.60</text>
<line x1="34.6" y1="570.02" x2="38.2" y2="570.02" stroke="#222" stroke-width="0.8"/>
<text x="32.60" y="572.42" font-size="6.60" text-anchor="end" fill="#2a2a2a">0.80</text>
<line x1="34.6" y1="550.10" x2="38.2" y2="550.10" stroke="#222" stroke-width="0.8"/>
<text x="32.60" y="552.50" font-size="6.60" text-anchor="end" fill="#2a2a2a">1.00</text>
<line x1="41.50" y1="653" x2="41.50" y2="656" stroke="#222" stroke-width="0.8"/>
<text x="41.50" y="664.80" font-size="6.40" text-anchor="middle" fill="#333">0</text>
<line x1="73.55" y1="653" x2="73.55" y2="656" stroke="#222" stroke-width="0.8"/>
<text x="73.55" y="664.80" font-size="6.40" text-anchor="middle" fill="#333">1</text>
<line x1="105.60" y1="653" x2="105.60" y2="656" stroke="#222" stroke-width="0.8"/>
<text x="105.60" y="664.80" font-size="6.40" text-anchor="middle" fill="#333">2</text>
<line x1="137.65" y1="653" x2="137.65" y2="656" stroke="#222" stroke-width="0.8"/>
<text x="137.65" y="664.80" font-size="6.40" text-anchor="middle" fill="#333">3</text>
<line x1="169.70" y1="653" x2="169.70" y2="656" stroke="#222" stroke-width="0.8"/>
<text x="169.70" y="664.80" font-size="6.40" text-anchor="middle" fill="#333">4</text>
<line x1="201.75" y1="653" x2="201.75" y2="656" stroke="#222" stroke-width="0.8"/>
<text x="201.75" y="664.80" font-size="6.40" text-anchor="middle" fill="#333">5</text>
<text x="121.60" y="676.60" font-size="7.90" text-anchor="middle" fill="#2a2a2a" textLength="67.5" lengthAdjust="spacingAndGlyphs">Time since CR1 (years)</text>
<text x="0" y="0" font-size="7.7" fill="#2a2a2a" text-anchor="middle" textLength="97" lengthAdjust="spacingAndGlyphs" transform="translate(14.2,599) rotate(-90)">Cumulative incidence of relapse</text>
<line x1="43.4" y1="555" x2="49.7" y2="555" stroke="#2e4a64" stroke-width="1.1"/>
<line x1="43.4" y1="562.4" x2="49.7" y2="562.4" stroke="#c43a59" stroke-width="1.1"/>
<text x="52.90" y="557.10" font-size="5.30" text-anchor="start" fill="#333" textLength="38.5" lengthAdjust="spacingAndGlyphs">TPS3/IKZF1wt</text>
<text x="52.90" y="564.50" font-size="5.30" text-anchor="start" fill="#333" textLength="39.0" lengthAdjust="spacingAndGlyphs">TPS3/IKZF1alt</text>
<text x="176.00" y="648.00" font-size="6.00" text-anchor="start" fill="#333" textLength="23.0" lengthAdjust="spacingAndGlyphs"><tspan font-style="italic">P</tspan> = .001</text>
<path d="M41.50,649.70 H46.95 V648.21 H47.91 V645.42 H49.51 V644.72 H50.79 V643.72 H52.72 V641.73 H54.32 V639.24 H56.56 V638.45 H58.17 V636.05 H59.45 V633.76 H62.65 V631.47 H64.90 V630.48 H69.70 V629.18 H79.64 V628.98 H80.92 V627.79 H84.13 V626.49 H90.22 V625.60 H91.82 V622.31 H110.73 V621.81 H118.74 V620.02 H152.71 V618.13 H173.55 V615.94 H173.87 V613.45 H201.75" fill="none" stroke="#2e4a64" stroke-width="1.1"/>
<path d="M41.50,649.70 H46.95 V634.56 H50.15 V628.78 H52.40 V619.22 H53.68 V612.85 H54.64 V607.87 H60.41 V602.29 H61.37 V597.21 H76.11 V591.93 H82.52 V586.55 H103.68 V580.48 H201.75" fill="none" stroke="#c43a59" stroke-width="1.1"/>
<text x="260.80" y="537.30" font-size="11.00" text-anchor="start" fill="#111" font-weight="bold">E</text>
<line x1="309.7" y1="538" x2="309.7" y2="640.3" stroke="#222" stroke-width="1"/>
<line x1="310.2" y1="643.2" x2="481" y2="643.2" stroke="#222" stroke-width="1"/>
<line x1="306.4" y1="639.50" x2="309.7" y2="639.50" stroke="#222" stroke-width="0.8"/>
<text x="303.80" y="641.90" font-size="6.60" text-anchor="end" fill="#2a2a2a">0.00</text>
<line x1="306.4" y1="619.90" x2="309.7" y2="619.90" stroke="#222" stroke-width="0.8"/>
<text x="303.80" y="622.30" font-size="6.60" text-anchor="end" fill="#2a2a2a">0.20</text>
<line x1="306.4" y1="600.30" x2="309.7" y2="600.30" stroke="#222" stroke-width="0.8"/>
<text x="303.80" y="602.70" font-size="6.60" text-anchor="end" fill="#2a2a2a">0.40</text>
<line x1="306.4" y1="580.70" x2="309.7" y2="580.70" stroke="#222" stroke-width="0.8"/>
<text x="303.80" y="583.10" font-size="6.60" text-anchor="end" fill="#2a2a2a">0.60</text>
<line x1="306.4" y1="561.10" x2="309.7" y2="561.10" stroke="#222" stroke-width="0.8"/>
<text x="303.80" y="563.50" font-size="6.60" text-anchor="end" fill="#2a2a2a">0.80</text>
<line x1="306.4" y1="541.50" x2="309.7" y2="541.50" stroke="#222" stroke-width="0.8"/>
<text x="303.80" y="543.90" font-size="6.60" text-anchor="end" fill="#2a2a2a">1.00</text>
<line x1="314.00" y1="643" x2="314.00" y2="646" stroke="#222" stroke-width="0.8"/>
<text x="313.50" y="655.00" font-size="6.40" text-anchor="middle" fill="#333">0</text>
<line x1="346.60" y1="643" x2="346.60" y2="646" stroke="#222" stroke-width="0.8"/>
<text x="346.10" y="655.00" font-size="6.40" text-anchor="middle" fill="#333">1</text>
<line x1="379.20" y1="643" x2="379.20" y2="646" stroke="#222" stroke-width="0.8"/>
<text x="378.70" y="655.00" font-size="6.40" text-anchor="middle" fill="#333">2</text>
<line x1="411.80" y1="643" x2="411.80" y2="646" stroke="#222" stroke-width="0.8"/>
<text x="411.30" y="655.00" font-size="6.40" text-anchor="middle" fill="#333">3</text>
<line x1="444.40" y1="643" x2="444.40" y2="646" stroke="#222" stroke-width="0.8"/>
<text x="443.90" y="655.00" font-size="6.40" text-anchor="middle" fill="#333">4</text>
<line x1="477.00" y1="643" x2="477.00" y2="646" stroke="#222" stroke-width="0.8"/>
<text x="476.50" y="655.00" font-size="6.40" text-anchor="middle" fill="#333">5</text>
<text x="395.70" y="667.20" font-size="7.90" text-anchor="middle" fill="#2a2a2a" textLength="85.0" lengthAdjust="spacingAndGlyphs">Time since diagnosis (years)</text>
<text x="0" y="0" font-size="7.7" fill="#2a2a2a" text-anchor="middle" textLength="47" lengthAdjust="spacingAndGlyphs" transform="translate(285.2,590.4) rotate(-90)">Overall survival</text>
<line x1="425.8" y1="554.5" x2="432.5" y2="554.5" stroke="#2e4a64" stroke-width="1.1"/>
<line x1="425.8" y1="562.5" x2="432.5" y2="562.5" stroke="#c43a59" stroke-width="1.1"/>
<text x="435.00" y="556.60" font-size="5.30" text-anchor="start" fill="#333" textLength="37.5" lengthAdjust="spacingAndGlyphs">TP53/IKZF1wt</text>
<text x="435.00" y="564.60" font-size="5.30" text-anchor="start" fill="#333" textLength="38.0" lengthAdjust="spacingAndGlyphs">TP53/IKZF1alt</text>
<text x="447.00" y="637.20" font-size="6.00" text-anchor="start" fill="#333" textLength="24.0" lengthAdjust="spacingAndGlyphs">P = .006</text>
<path d="M314.00,541.50 H315.30 V545.42 H318.56 V547.18 H328.02 H330.08 V548.43 H332.15 V549.67 H334.21 V550.91 H336.28 V552.15 H338.34 V553.39 H340.41 V554.63 H341.64 V555.87 H342.88 V557.10 H344.12 V558.34 H345.36 V559.57 H346.60 V560.81 H349.53 V561.49 H351.82 V563.06 H355.73 V564.63 H356.38 V566.88 H363.55 V567.37 H364.69 V568.70 H365.83 V570.02 H369.75 V571.49 H372.03 V572.66 H374.31 V573.84 H376.59 V575.02 H378.87 V576.19 H395.83 V576.49 H398.76 V579.23 H477.00" fill="none" stroke="#2e4a64" stroke-width="1.1"/>
<path d="M314.00,541.50 H328.67 V556.20 H336.82 V566.00 H339.43 V570.90 H340.41 V580.70 H346.27 V585.60 H353.45 V590.50 H359.31 V595.40 H367.79 V606.18 H389.63 V612.55 H477.00" fill="none" stroke="#c43a59" stroke-width="1.1"/>
<rect x="351.53" y="561.66" width="1.1" height="1.9" fill="#1c2c3c"/>
<rect x="356.10" y="565.48" width="1.1" height="1.9" fill="#1c2c3c"/>
<rect x="361.01" y="565.48" width="1.1" height="1.9" fill="#1c2c3c"/>
<rect x="364.85" y="567.30" width="1.1" height="1.9" fill="#1c2c3c"/>
<rect x="369.34" y="570.09" width="1.1" height="1.9" fill="#1c2c3c"/>
<rect x="373.87" y="572.44" width="1.1" height="1.9" fill="#1c2c3c"/>
<rect x="377.78" y="573.62" width="1.1" height="1.9" fill="#1c2c3c"/>
<rect x="382.64" y="574.79" width="1.1" height="1.9" fill="#1c2c3c"/>
<rect x="387.23" y="574.79" width="1.1" height="1.9" fill="#1c2c3c"/>
<rect x="391.88" y="574.79" width="1.1" height="1.9" fill="#1c2c3c"/>
<rect x="395.40" y="575.09" width="1.1" height="1.9" fill="#1c2c3c"/>
<rect x="400.11" y="577.83" width="1.1" height="1.9" fill="#1c2c3c"/>
<rect x="404.26" y="577.83" width="1.1" height="1.9" fill="#1c2c3c"/>
<rect x="409.63" y="577.83" width="1.1" height="1.9" fill="#1c2c3c"/>
<rect x="413.91" y="577.83" width="1.1" height="1.9" fill="#1c2c3c"/>
<rect x="417.50" y="577.83" width="1.1" height="1.9" fill="#1c2c3c"/>
<rect x="423.16" y="577.83" width="1.1" height="1.9" fill="#1c2c3c"/>
<rect x="427.57" y="577.83" width="1.1" height="1.9" fill="#1c2c3c"/>
<rect x="431.60" y="577.83" width="1.1" height="1.9" fill="#1c2c3c"/>
<rect x="435.98" y="577.83" width="1.1" height="1.9" fill="#1c2c3c"/>
<rect x="439.82" y="577.83" width="1.1" height="1.9" fill="#1c2c3c"/>
<rect x="444.07" y="577.83" width="1.1" height="1.9" fill="#1c2c3c"/>
<rect x="449.17" y="577.83" width="1.1" height="1.9" fill="#1c2c3c"/>
<rect x="452.99" y="577.83" width="1.1" height="1.9" fill="#1c2c3c"/>
<rect x="457.59" y="577.83" width="1.1" height="1.9" fill="#1c2c3c"/>
<rect x="462.10" y="577.83" width="1.1" height="1.9" fill="#1c2c3c"/>
<rect x="466.25" y="577.83" width="1.1" height="1.9" fill="#1c2c3c"/>
<rect x="471.25" y="577.83" width="1.1" height="1.9" fill="#1c2c3c"/>
<line x1="476.60" y1="577.63" x2="476.60" y2="579.63" stroke="#1a3550" stroke-width="0.75"/>
<rect x="440.54" y="611.15" width="1.2" height="1.9" fill="#3a1a24"/>
<rect x="445.43" y="611.15" width="1.2" height="1.9" fill="#3a1a24"/>
<rect x="476.07" y="611.15" width="1.2" height="1.9" fill="#3a1a24"/>
<text x="259.90" y="673.90" font-size="6.00" text-anchor="start" fill="#222" textLength="43.3" lengthAdjust="spacingAndGlyphs">Number at risk</text>
<text x="263.00" y="683.20" font-size="6.00" text-anchor="start" fill="#222" textLength="43.6" lengthAdjust="spacingAndGlyphs">TP53/IKZF1wt</text>
<text x="263.00" y="693.30" font-size="6.00" text-anchor="start" fill="#222" textLength="44.2" lengthAdjust="spacingAndGlyphs">TP53/IKZF1alt</text>
<text x="313.30" y="683.20" font-size="6.20" text-anchor="middle" fill="#222">77</text>
<text x="342.00" y="683.20" font-size="6.20" text-anchor="middle" fill="#222">63</text>
<text x="377.50" y="683.20" font-size="6.20" text-anchor="middle" fill="#222">44</text>
<text x="409.10" y="683.20" font-size="6.20" text-anchor="middle" fill="#222">32</text>
<text x="442.60" y="683.20" font-size="6.20" text-anchor="middle" fill="#222">23</text>
<text x="476.60" y="683.20" font-size="6.20" text-anchor="middle" fill="#222">10</text>
<text x="313.30" y="693.30" font-size="6.20" text-anchor="middle" fill="#222">20</text>
<text x="343.40" y="693.30" font-size="6.20" text-anchor="middle" fill="#222">11</text>
<text x="378.00" y="693.30" font-size="6.20" text-anchor="middle" fill="#222">6</text>
<text x="410.20" y="693.30" font-size="6.20" text-anchor="middle" fill="#222">5</text>
<text x="443.40" y="693.30" font-size="6.20" text-anchor="middle" fill="#222">4</text>
<text x="477.20" y="693.30" font-size="6.20" text-anchor="middle" fill="#222">3</text>
<rect x="0.5" y="0.5" width="519" height="701" fill="none" stroke="#444" stroke-width="1.1"/>
</svg>
</body></html>
